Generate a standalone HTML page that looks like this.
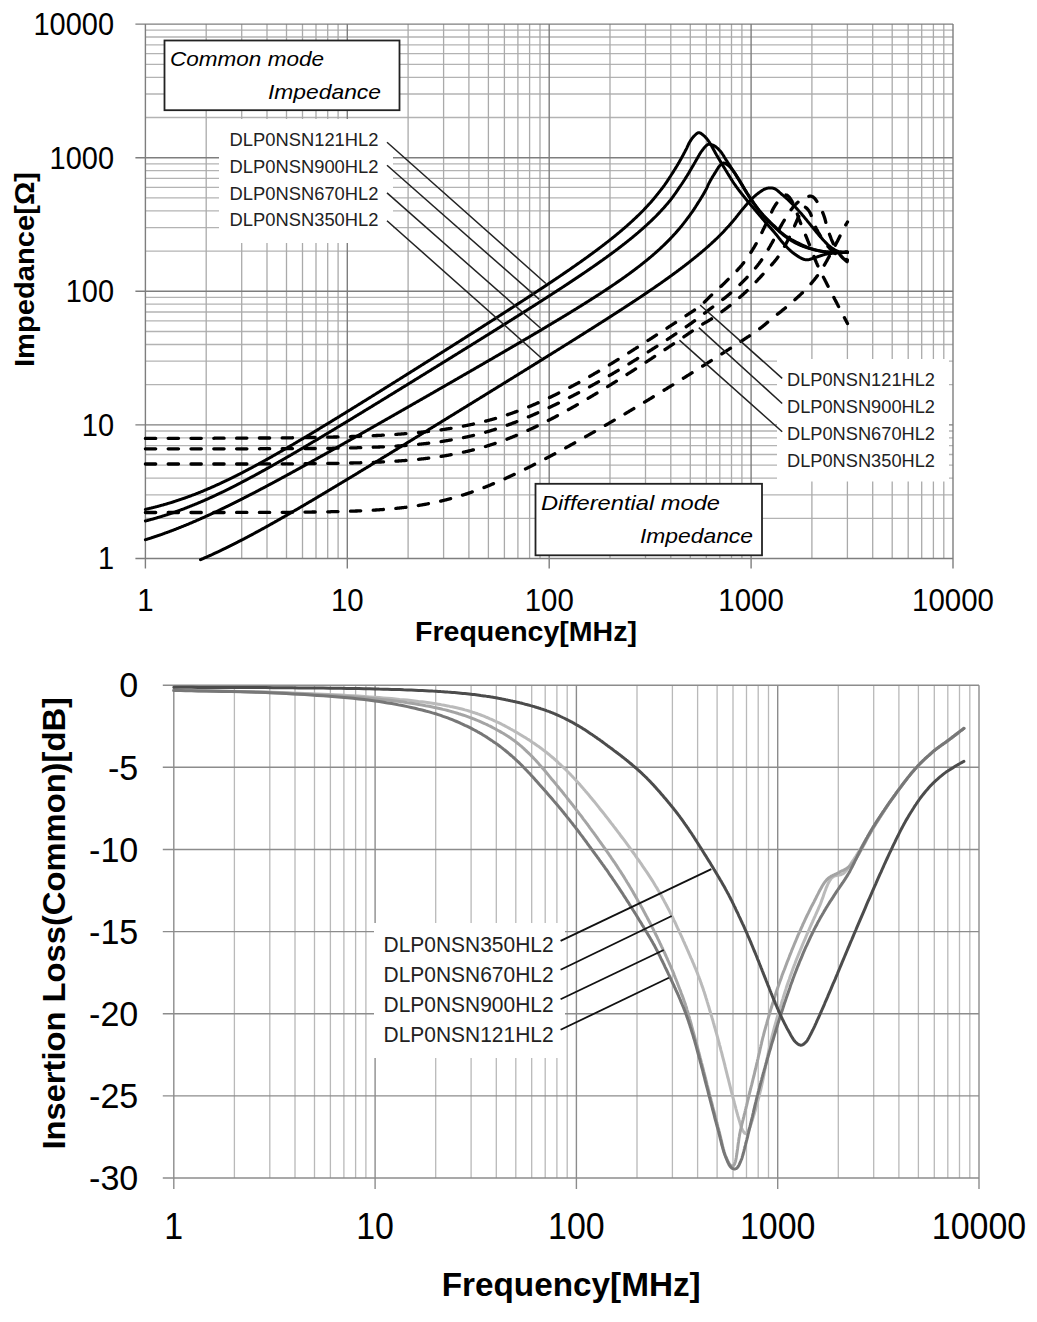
<!DOCTYPE html><html><head><meta charset="utf-8"><style>html,body{margin:0;padding:0;background:#fff;width:1037px;height:1322px;overflow:hidden;position:relative}</style></head><body><svg width="1037" height="1322" viewBox="0 0 1037 1322" style="position:absolute;left:0;top:0"><rect width="1037" height="1322" fill="#fff"/><g><line x1="145.4" y1="518.3" x2="953.0" y2="518.3" stroke="#b3b3b3" stroke-width="1.3"/><line x1="145.4" y1="494.8" x2="953.0" y2="494.8" stroke="#b3b3b3" stroke-width="1.3"/><line x1="145.4" y1="478.1" x2="953.0" y2="478.1" stroke="#b3b3b3" stroke-width="1.3"/><line x1="145.4" y1="465.1" x2="953.0" y2="465.1" stroke="#b3b3b3" stroke-width="1.3"/><line x1="145.4" y1="454.5" x2="953.0" y2="454.5" stroke="#b3b3b3" stroke-width="1.3"/><line x1="145.4" y1="445.6" x2="953.0" y2="445.6" stroke="#b3b3b3" stroke-width="1.3"/><line x1="145.4" y1="437.8" x2="953.0" y2="437.8" stroke="#b3b3b3" stroke-width="1.3"/><line x1="145.4" y1="431.0" x2="953.0" y2="431.0" stroke="#b3b3b3" stroke-width="1.3"/><line x1="145.4" y1="384.7" x2="953.0" y2="384.7" stroke="#b3b3b3" stroke-width="1.3"/><line x1="145.4" y1="361.2" x2="953.0" y2="361.2" stroke="#b3b3b3" stroke-width="1.3"/><line x1="145.4" y1="344.5" x2="953.0" y2="344.5" stroke="#b3b3b3" stroke-width="1.3"/><line x1="145.4" y1="331.5" x2="953.0" y2="331.5" stroke="#b3b3b3" stroke-width="1.3"/><line x1="145.4" y1="320.9" x2="953.0" y2="320.9" stroke="#b3b3b3" stroke-width="1.3"/><line x1="145.4" y1="312.0" x2="953.0" y2="312.0" stroke="#b3b3b3" stroke-width="1.3"/><line x1="145.4" y1="304.2" x2="953.0" y2="304.2" stroke="#b3b3b3" stroke-width="1.3"/><line x1="145.4" y1="297.4" x2="953.0" y2="297.4" stroke="#b3b3b3" stroke-width="1.3"/><line x1="145.4" y1="251.1" x2="953.0" y2="251.1" stroke="#b3b3b3" stroke-width="1.3"/><line x1="145.4" y1="227.6" x2="953.0" y2="227.6" stroke="#b3b3b3" stroke-width="1.3"/><line x1="145.4" y1="210.9" x2="953.0" y2="210.9" stroke="#b3b3b3" stroke-width="1.3"/><line x1="145.4" y1="197.9" x2="953.0" y2="197.9" stroke="#b3b3b3" stroke-width="1.3"/><line x1="145.4" y1="187.3" x2="953.0" y2="187.3" stroke="#b3b3b3" stroke-width="1.3"/><line x1="145.4" y1="178.4" x2="953.0" y2="178.4" stroke="#b3b3b3" stroke-width="1.3"/><line x1="145.4" y1="170.6" x2="953.0" y2="170.6" stroke="#b3b3b3" stroke-width="1.3"/><line x1="145.4" y1="163.8" x2="953.0" y2="163.8" stroke="#b3b3b3" stroke-width="1.3"/><line x1="145.4" y1="117.5" x2="953.0" y2="117.5" stroke="#b3b3b3" stroke-width="1.3"/><line x1="145.4" y1="94.0" x2="953.0" y2="94.0" stroke="#b3b3b3" stroke-width="1.3"/><line x1="145.4" y1="77.3" x2="953.0" y2="77.3" stroke="#b3b3b3" stroke-width="1.3"/><line x1="145.4" y1="64.3" x2="953.0" y2="64.3" stroke="#b3b3b3" stroke-width="1.3"/><line x1="145.4" y1="53.7" x2="953.0" y2="53.7" stroke="#b3b3b3" stroke-width="1.3"/><line x1="145.4" y1="44.8" x2="953.0" y2="44.8" stroke="#b3b3b3" stroke-width="1.3"/><line x1="145.4" y1="37.0" x2="953.0" y2="37.0" stroke="#b3b3b3" stroke-width="1.3"/><line x1="145.4" y1="30.2" x2="953.0" y2="30.2" stroke="#b3b3b3" stroke-width="1.3"/><line x1="206.2" y1="24.1" x2="206.2" y2="558.5" stroke="#aaaaaa" stroke-width="1.3"/><line x1="241.7" y1="24.1" x2="241.7" y2="558.5" stroke="#aaaaaa" stroke-width="1.3"/><line x1="267.0" y1="24.1" x2="267.0" y2="558.5" stroke="#aaaaaa" stroke-width="1.3"/><line x1="286.5" y1="24.1" x2="286.5" y2="558.5" stroke="#aaaaaa" stroke-width="1.3"/><line x1="302.5" y1="24.1" x2="302.5" y2="558.5" stroke="#aaaaaa" stroke-width="1.3"/><line x1="316.0" y1="24.1" x2="316.0" y2="558.5" stroke="#aaaaaa" stroke-width="1.3"/><line x1="327.7" y1="24.1" x2="327.7" y2="558.5" stroke="#aaaaaa" stroke-width="1.3"/><line x1="338.1" y1="24.1" x2="338.1" y2="558.5" stroke="#aaaaaa" stroke-width="1.3"/><line x1="408.1" y1="24.1" x2="408.1" y2="558.5" stroke="#aaaaaa" stroke-width="1.3"/><line x1="443.6" y1="24.1" x2="443.6" y2="558.5" stroke="#aaaaaa" stroke-width="1.3"/><line x1="468.9" y1="24.1" x2="468.9" y2="558.5" stroke="#aaaaaa" stroke-width="1.3"/><line x1="488.4" y1="24.1" x2="488.4" y2="558.5" stroke="#aaaaaa" stroke-width="1.3"/><line x1="504.4" y1="24.1" x2="504.4" y2="558.5" stroke="#aaaaaa" stroke-width="1.3"/><line x1="517.9" y1="24.1" x2="517.9" y2="558.5" stroke="#aaaaaa" stroke-width="1.3"/><line x1="529.6" y1="24.1" x2="529.6" y2="558.5" stroke="#aaaaaa" stroke-width="1.3"/><line x1="540.0" y1="24.1" x2="540.0" y2="558.5" stroke="#aaaaaa" stroke-width="1.3"/><line x1="610.0" y1="24.1" x2="610.0" y2="558.5" stroke="#aaaaaa" stroke-width="1.3"/><line x1="645.5" y1="24.1" x2="645.5" y2="558.5" stroke="#aaaaaa" stroke-width="1.3"/><line x1="670.8" y1="24.1" x2="670.8" y2="558.5" stroke="#aaaaaa" stroke-width="1.3"/><line x1="690.3" y1="24.1" x2="690.3" y2="558.5" stroke="#aaaaaa" stroke-width="1.3"/><line x1="706.3" y1="24.1" x2="706.3" y2="558.5" stroke="#aaaaaa" stroke-width="1.3"/><line x1="719.8" y1="24.1" x2="719.8" y2="558.5" stroke="#aaaaaa" stroke-width="1.3"/><line x1="731.5" y1="24.1" x2="731.5" y2="558.5" stroke="#aaaaaa" stroke-width="1.3"/><line x1="741.9" y1="24.1" x2="741.9" y2="558.5" stroke="#aaaaaa" stroke-width="1.3"/><line x1="811.9" y1="24.1" x2="811.9" y2="558.5" stroke="#aaaaaa" stroke-width="1.3"/><line x1="847.4" y1="24.1" x2="847.4" y2="558.5" stroke="#aaaaaa" stroke-width="1.3"/><line x1="872.7" y1="24.1" x2="872.7" y2="558.5" stroke="#aaaaaa" stroke-width="1.3"/><line x1="892.2" y1="24.1" x2="892.2" y2="558.5" stroke="#aaaaaa" stroke-width="1.3"/><line x1="908.2" y1="24.1" x2="908.2" y2="558.5" stroke="#aaaaaa" stroke-width="1.3"/><line x1="921.7" y1="24.1" x2="921.7" y2="558.5" stroke="#aaaaaa" stroke-width="1.3"/><line x1="933.4" y1="24.1" x2="933.4" y2="558.5" stroke="#aaaaaa" stroke-width="1.3"/><line x1="943.8" y1="24.1" x2="943.8" y2="558.5" stroke="#aaaaaa" stroke-width="1.3"/><line x1="135.4" y1="558.5" x2="953.0" y2="558.5" stroke="#7e7e7e" stroke-width="1.4"/><line x1="145.4" y1="24.1" x2="145.4" y2="568.5" stroke="#7e7e7e" stroke-width="1.4"/><line x1="135.4" y1="424.9" x2="953.0" y2="424.9" stroke="#7e7e7e" stroke-width="1.4"/><line x1="347.3" y1="24.1" x2="347.3" y2="568.5" stroke="#7e7e7e" stroke-width="1.4"/><line x1="135.4" y1="291.3" x2="953.0" y2="291.3" stroke="#7e7e7e" stroke-width="1.4"/><line x1="549.2" y1="24.1" x2="549.2" y2="568.5" stroke="#7e7e7e" stroke-width="1.4"/><line x1="135.4" y1="157.7" x2="953.0" y2="157.7" stroke="#7e7e7e" stroke-width="1.4"/><line x1="751.1" y1="24.1" x2="751.1" y2="568.5" stroke="#7e7e7e" stroke-width="1.4"/><line x1="135.4" y1="24.1" x2="953.0" y2="24.1" stroke="#7e7e7e" stroke-width="1.4"/><line x1="953.0" y1="24.1" x2="953.0" y2="568.5" stroke="#7e7e7e" stroke-width="1.4"/></g><rect x="219" y="119" width="174" height="124" fill="#fff"/><rect x="777" y="359" width="172" height="122.5" fill="#fff"/><rect x="164.5" y="40.5" width="235" height="69.7" fill="#fff" stroke="#222" stroke-width="1.8"/><rect x="535.5" y="483.8" width="226.5" height="71.5" fill="#fff" stroke="#222" stroke-width="1.8"/><g><path d="M145.4 509.4 L145.9 509.3 L146.4 509.1 L146.9 509.0 L147.4 508.9 L147.9 508.8 L148.4 508.7 L148.9 508.6 L149.4 508.4 L149.9 508.3 L150.4 508.2 L150.9 508.1 L151.4 508.0 L151.9 507.8 L152.4 507.7 L152.9 507.6 L153.4 507.5 L153.9 507.4 L154.4 507.2 L154.9 507.1 L155.4 507.0 L155.9 506.8 L156.4 506.7 L156.9 506.6 L157.4 506.5 L157.9 506.3 L158.4 506.2 L158.9 506.1 L159.4 505.9 L159.9 505.8 L160.4 505.7 L160.9 505.5 L161.4 505.4 L161.9 505.2 L162.4 505.1 L162.9 505.0 L163.4 504.8 L163.9 504.7 L164.4 504.5 L164.9 504.4 L165.4 504.3 L165.9 504.1 L166.4 504.0 L166.9 503.8 L167.4 503.7 L167.9 503.5 L168.4 503.4 L168.9 503.2 L169.4 503.1 L169.9 502.9 L170.4 502.8 L170.9 502.6 L171.4 502.5 L171.9 502.3 L172.4 502.2 L172.9 502.0 L173.4 501.8 L173.9 501.7 L174.4 501.5 L174.9 501.4 L175.4 501.2 L175.9 501.0 L176.4 500.9 L176.9 500.7 L177.4 500.5 L177.9 500.4 L178.4 500.2 L178.9 500.0 L179.4 499.9 L179.9 499.7 L180.4 499.5 L180.9 499.4 L181.4 499.2 L181.9 499.0 L182.4 498.9 L182.9 498.7 L183.4 498.5 L183.9 498.3 L184.4 498.2 L184.9 498.0 L185.4 497.8 L185.9 497.6 L186.4 497.4 L186.9 497.3 L187.4 497.1 L187.9 496.9 L188.4 496.7 L188.9 496.5 L189.4 496.3 L189.9 496.2 L190.4 496.0 L190.9 495.8 L191.4 495.6 L191.9 495.4 L192.4 495.2 L192.9 495.0 L193.4 494.8 L193.9 494.6 L194.4 494.5 L194.9 494.3 L195.4 494.1 L195.9 493.9 L196.4 493.7 L196.9 493.5 L197.4 493.3 L197.9 493.1 L198.4 492.9 L198.9 492.7 L199.4 492.5 L199.9 492.3 L200.4 492.1 L200.9 491.9 L201.4 491.7 L201.9 491.5 L202.4 491.3 L202.9 491.1 L203.4 490.8 L203.9 490.6 L204.4 490.4 L204.9 490.2 L205.4 490.0 L205.9 489.8 L206.4 489.6 L206.9 489.4 L207.4 489.2 L207.9 488.9 L208.4 488.7 L208.9 488.5 L209.4 488.3 L209.9 488.1 L210.4 487.9 L210.9 487.6 L211.4 487.4 L211.9 487.2 L212.4 487.0 L212.9 486.8 L213.4 486.5 L213.9 486.3 L214.4 486.1 L214.9 485.9 L215.4 485.6 L215.9 485.4 L216.4 485.2 L216.9 485.0 L217.4 484.7 L217.9 484.5 L218.4 484.3 L218.9 484.1 L219.4 483.8 L219.9 483.6 L220.4 483.4 L220.9 483.1 L221.4 482.9 L221.9 482.7 L222.4 482.4 L222.9 482.2 L223.4 482.0 L223.9 481.7 L224.4 481.5 L224.9 481.2 L225.4 481.0 L225.9 480.8 L226.4 480.5 L226.9 480.3 L227.4 480.0 L227.9 479.8 L228.4 479.6 L228.9 479.3 L229.4 479.1 L229.9 478.8 L230.4 478.6 L230.9 478.3 L231.4 478.1 L231.9 477.9 L232.4 477.6 L232.9 477.4 L233.4 477.1 L233.9 476.9 L234.4 476.6 L234.9 476.4 L235.4 476.1 L235.9 475.9 L236.4 475.6 L236.9 475.4 L237.4 475.1 L237.9 474.9 L238.4 474.6 L238.9 474.3 L239.4 474.1 L239.9 473.8 L240.4 473.6 L240.9 473.3 L241.4 473.1 L241.9 472.8 L242.4 472.6 L242.9 472.3 L243.4 472.0 L243.9 471.8 L244.4 471.5 L244.9 471.3 L245.4 471.0 L245.9 470.7 L246.4 470.5 L246.9 470.2 L247.4 470.0 L247.9 469.7 L248.4 469.4 L248.9 469.2 L249.4 468.9 L249.9 468.6 L250.4 468.4 L250.9 468.1 L251.4 467.8 L251.9 467.6 L252.4 467.3 L252.9 467.0 L253.4 466.8 L253.9 466.5 L254.4 466.2 L254.9 466.0 L255.4 465.7 L255.9 465.4 L256.4 465.1 L256.9 464.9 L257.4 464.6 L257.9 464.3 L258.4 464.1 L258.9 463.8 L259.4 463.5 L259.9 463.2 L260.4 463.0 L260.9 462.7 L261.4 462.4 L261.9 462.1 L262.4 461.9 L262.9 461.6 L263.4 461.3 L263.9 461.0 L264.4 460.8 L264.9 460.5 L265.4 460.2 L265.9 459.9 L266.4 459.7 L266.9 459.4 L267.4 459.1 L267.9 458.8 L268.4 458.5 L268.9 458.3 L269.4 458.0 L269.9 457.7 L270.4 457.4 L270.9 457.1 L271.4 456.9 L271.9 456.6 L272.4 456.3 L272.9 456.0 L273.4 455.7 L273.9 455.4 L274.4 455.2 L274.9 454.9 L275.4 454.6 L275.9 454.3 L276.4 454.0 L276.9 453.7 L277.4 453.4 L277.9 453.2 L278.4 452.9 L278.9 452.6 L279.4 452.3 L279.9 452.0 L280.4 451.7 L280.9 451.4 L281.4 451.2 L281.9 450.9 L282.4 450.6 L282.9 450.3 L283.4 450.0 L283.9 449.7 L284.4 449.4 L284.9 449.1 L285.4 448.8 L285.9 448.6 L286.4 448.3 L286.9 448.0 L287.4 447.7 L287.9 447.4 L288.4 447.1 L288.9 446.8 L289.4 446.5 L289.9 446.2 L290.4 445.9 L290.9 445.6 L291.4 445.3 L291.9 445.1 L292.4 444.8 L292.9 444.5 L293.4 444.2 L293.9 443.9 L294.4 443.6 L294.9 443.3 L295.4 443.0 L295.9 442.7 L296.4 442.4 L296.9 442.1 L297.4 441.8 L297.9 441.5 L298.4 441.2 L298.9 440.9 L299.4 440.6 L299.9 440.3 L300.4 440.0 L300.9 439.7 L301.4 439.4 L301.9 439.2 L302.4 438.9 L302.9 438.6 L303.4 438.3 L303.9 438.0 L304.4 437.7 L304.9 437.4 L305.4 437.1 L305.9 436.8 L306.4 436.5 L306.9 436.2 L307.4 435.9 L307.9 435.6 L308.4 435.3 L308.9 435.0 L309.4 434.7 L309.9 434.4 L310.4 434.1 L310.9 433.8 L311.4 433.5 L311.9 433.2 L312.4 432.9 L312.9 432.6 L313.4 432.3 L313.9 432.0 L314.4 431.7 L314.9 431.4 L315.4 431.1 L315.9 430.8 L316.4 430.5 L316.9 430.2 L317.4 429.9 L317.9 429.6 L318.4 429.3 L318.9 429.0 L319.4 428.7 L319.9 428.3 L320.4 428.0 L320.9 427.7 L321.4 427.4 L321.9 427.1 L322.4 426.8 L322.9 426.5 L323.4 426.2 L323.9 425.9 L324.4 425.6 L324.9 425.3 L325.4 425.0 L325.9 424.7 L326.4 424.4 L326.9 424.1 L327.4 423.8 L327.9 423.5 L328.4 423.2 L328.9 422.9 L329.4 422.6 L329.9 422.3 L330.4 422.0 L330.9 421.7 L331.4 421.4 L331.9 421.0 L332.4 420.7 L332.9 420.4 L333.4 420.1 L333.9 419.8 L334.4 419.5 L334.9 419.2 L335.4 418.9 L335.9 418.6 L336.4 418.3 L336.9 418.0 L337.4 417.7 L337.9 417.4 L338.4 417.1 L338.9 416.8 L339.4 416.5 L339.9 416.1 L340.4 415.8 L340.9 415.5 L341.4 415.2 L341.9 414.9 L342.4 414.6 L342.9 414.3 L343.4 414.0 L343.9 413.7 L344.4 413.4 L344.9 413.1 L345.4 412.8 L345.9 412.5 L346.4 412.1 L346.9 411.8 L347.4 411.5 L347.9 411.2 L348.4 410.9 L348.9 410.6 L349.4 410.3 L349.9 410.0 L350.4 409.7 L350.9 409.4 L351.4 409.1 L351.9 408.8 L352.4 408.4 L352.9 408.1 L353.4 407.8 L353.9 407.5 L354.4 407.2 L354.9 406.9 L355.4 406.6 L355.9 406.3 L356.4 406.0 L356.9 405.7 L357.4 405.3 L357.9 405.0 L358.4 404.7 L358.9 404.4 L359.4 404.1 L359.9 403.8 L360.4 403.5 L360.9 403.2 L361.4 402.9 L361.9 402.6 L362.4 402.2 L362.9 401.9 L363.4 401.6 L363.9 401.3 L364.4 401.0 L364.9 400.7 L365.4 400.4 L365.9 400.1 L366.4 399.8 L366.9 399.5 L367.4 399.1 L367.9 398.8 L368.4 398.5 L368.9 398.2 L369.4 397.9 L369.9 397.6 L370.4 397.3 L370.9 397.0 L371.4 396.7 L371.9 396.3 L372.4 396.0 L372.9 395.7 L373.4 395.4 L373.9 395.1 L374.4 394.8 L374.9 394.5 L375.4 394.2 L375.9 393.8 L376.4 393.5 L376.9 393.2 L377.4 392.9 L377.9 392.6 L378.4 392.3 L378.9 392.0 L379.4 391.7 L379.9 391.4 L380.4 391.0 L380.9 390.7 L381.4 390.4 L381.9 390.1 L382.4 389.8 L382.9 389.5 L383.4 389.2 L383.9 388.9 L384.4 388.5 L384.9 388.2 L385.4 387.9 L385.9 387.6 L386.4 387.3 L386.9 387.0 L387.4 386.7 L387.9 386.4 L388.4 386.0 L388.9 385.7 L389.4 385.4 L389.9 385.1 L390.4 384.8 L390.9 384.5 L391.4 384.2 L391.9 383.9 L392.4 383.5 L392.9 383.2 L393.4 382.9 L393.9 382.6 L394.4 382.3 L394.9 382.0 L395.4 381.7 L395.9 381.3 L396.4 381.0 L396.9 380.7 L397.4 380.4 L397.9 380.1 L398.4 379.8 L398.9 379.5 L399.4 379.2 L399.9 378.8 L400.4 378.5 L400.9 378.2 L401.4 377.9 L401.9 377.6 L402.4 377.3 L402.9 377.0 L403.4 376.6 L403.9 376.3 L404.4 376.0 L404.9 375.7 L405.4 375.4 L405.9 375.1 L406.4 374.8 L406.9 374.4 L407.4 374.1 L407.9 373.8 L408.4 373.5 L408.9 373.2 L409.4 372.9 L409.9 372.6 L410.4 372.3 L410.9 371.9 L411.4 371.6 L411.9 371.3 L412.4 371.0 L412.9 370.7 L413.4 370.4 L413.9 370.1 L414.4 369.7 L414.9 369.4 L415.4 369.1 L415.9 368.8 L416.4 368.5 L416.9 368.2 L417.4 367.9 L417.9 367.5 L418.4 367.2 L418.9 366.9 L419.4 366.6 L419.9 366.3 L420.4 366.0 L420.9 365.6 L421.4 365.3 L421.9 365.0 L422.4 364.7 L422.9 364.4 L423.4 364.1 L423.9 363.8 L424.4 363.4 L424.9 363.1 L425.4 362.8 L425.9 362.5 L426.4 362.2 L426.9 361.9 L427.4 361.6 L427.9 361.2 L428.4 360.9 L428.9 360.6 L429.4 360.3 L429.9 360.0 L430.4 359.7 L430.9 359.3 L431.4 359.0 L431.9 358.7 L432.4 358.4 L432.9 358.1 L433.4 357.8 L433.9 357.5 L434.4 357.1 L434.9 356.8 L435.4 356.5 L435.9 356.2 L436.4 355.9 L436.9 355.6 L437.4 355.2 L437.9 354.9 L438.4 354.6 L438.9 354.3 L439.4 354.0 L439.9 353.7 L440.4 353.4 L440.9 353.0 L441.4 352.7 L441.9 352.4 L442.4 352.1 L442.9 351.8 L443.4 351.5 L443.9 351.1 L444.4 350.8 L444.9 350.5 L445.4 350.2 L445.9 349.9 L446.4 349.6 L446.9 349.2 L447.4 348.9 L447.9 348.6 L448.4 348.3 L448.9 348.0 L449.4 347.7 L449.9 347.4 L450.4 347.0 L450.9 346.7 L451.4 346.4 L451.9 346.1 L452.4 345.8 L452.9 345.5 L453.4 345.1 L453.9 344.8 L454.4 344.5 L454.9 344.2 L455.4 343.9 L455.9 343.6 L456.4 343.2 L456.9 342.9 L457.4 342.6 L457.9 342.3 L458.4 342.0 L458.9 341.7 L459.4 341.3 L459.9 341.0 L460.4 340.7 L460.9 340.4 L461.4 340.1 L461.9 339.8 L462.4 339.4 L462.9 339.1 L463.4 338.8 L463.9 338.5 L464.4 338.2 L464.9 337.8 L465.4 337.5 L465.9 337.2 L466.4 336.9 L466.9 336.6 L467.4 336.3 L467.9 335.9 L468.4 335.6 L468.9 335.3 L469.4 335.0 L469.9 334.7 L470.4 334.4 L470.9 334.0 L471.4 333.7 L471.9 333.4 L472.4 333.1 L472.9 332.8 L473.4 332.4 L473.9 332.1 L474.4 331.8 L474.9 331.5 L475.4 331.2 L475.9 330.9 L476.4 330.5 L476.9 330.2 L477.4 329.9 L477.9 329.6 L478.4 329.3 L478.9 328.9 L479.4 328.6 L479.9 328.3 L480.4 328.0 L480.9 327.7 L481.4 327.4 L481.9 327.0 L482.4 326.7 L482.9 326.4 L483.4 326.1 L483.9 325.8 L484.4 325.4 L484.9 325.1 L485.4 324.8 L485.9 324.5 L486.4 324.2 L486.9 323.8 L487.4 323.5 L487.9 323.2 L488.4 322.9 L488.9 322.6 L489.4 322.3 L489.9 321.9 L490.4 321.6 L490.9 321.3 L491.4 321.0 L491.9 320.7 L492.4 320.3 L492.9 320.0 L493.4 319.7 L493.9 319.4 L494.4 319.1 L494.9 318.7 L495.4 318.4 L495.9 318.1 L496.4 317.8 L496.9 317.5 L497.4 317.1 L497.9 316.8 L498.4 316.5 L498.9 316.2 L499.4 315.8 L499.9 315.5 L500.4 315.2 L500.9 314.9 L501.4 314.6 L501.9 314.2 L502.4 313.9 L502.9 313.6 L503.4 313.3 L503.9 313.0 L504.4 312.6 L504.9 312.3 L505.4 312.0 L505.9 311.7 L506.4 311.3 L506.9 311.0 L507.4 310.7 L507.9 310.4 L508.4 310.1 L508.9 309.7 L509.4 309.4 L509.9 309.1 L510.4 308.8 L510.9 308.4 L511.4 308.1 L511.9 307.8 L512.4 307.5 L512.9 307.2 L513.4 306.8 L513.9 306.5 L514.4 306.2 L514.9 305.9 L515.4 305.5 L515.9 305.2 L516.4 304.9 L516.9 304.6 L517.4 304.2 L517.9 303.9 L518.4 303.6 L518.9 303.3 L519.4 302.9 L519.9 302.6 L520.4 302.3 L520.9 302.0 L521.4 301.6 L521.9 301.3 L522.4 301.0 L522.9 300.7 L523.4 300.3 L523.9 300.0 L524.4 299.7 L524.9 299.4 L525.4 299.0 L525.9 298.7 L526.4 298.4 L526.9 298.1 L527.4 297.7 L527.9 297.4 L528.4 297.1 L528.9 296.8 L529.4 296.4 L529.9 296.1 L530.4 295.8 L530.9 295.5 L531.4 295.1 L531.9 294.8 L532.4 294.5 L532.9 294.1 L533.4 293.8 L533.9 293.5 L534.4 293.2 L534.9 292.8 L535.4 292.5 L535.9 292.2 L536.4 291.8 L536.9 291.5 L537.4 291.2 L537.9 290.9 L538.4 290.5 L538.9 290.2 L539.4 289.9 L539.9 289.5 L540.4 289.2 L540.9 288.9 L541.4 288.5 L541.9 288.2 L542.4 287.9 L542.9 287.6 L543.4 287.2 L543.9 286.9 L544.4 286.6 L544.9 286.2 L545.4 285.9 L545.9 285.6 L546.4 285.2 L546.9 284.9 L547.4 284.6 L547.9 284.2 L548.4 283.9 L548.9 283.6 L549.4 283.2 L549.9 282.9 L550.4 282.6 L550.9 282.2 L551.4 281.9 L551.9 281.6 L552.4 281.2 L552.9 280.9 L553.4 280.6 L553.9 280.2 L554.4 279.9 L554.9 279.5 L555.4 279.2 L555.9 278.9 L556.4 278.5 L556.9 278.2 L557.4 277.9 L557.9 277.5 L558.4 277.2 L558.9 276.8 L559.4 276.5 L559.9 276.2 L560.4 275.8 L560.9 275.5 L561.4 275.1 L561.9 274.8 L562.4 274.5 L562.9 274.1 L563.4 273.8 L563.9 273.4 L564.4 273.1 L564.9 272.8 L565.4 272.4 L565.9 272.1 L566.4 271.7 L566.9 271.4 L567.4 271.0 L567.9 270.7 L568.4 270.4 L568.9 270.0 L569.4 269.7 L569.9 269.3 L570.4 269.0 L570.9 268.6 L571.4 268.3 L571.9 267.9 L572.4 267.6 L572.9 267.2 L573.4 266.9 L573.9 266.5 L574.4 266.2 L574.9 265.8 L575.4 265.5 L575.9 265.1 L576.4 264.8 L576.9 264.4 L577.4 264.1 L577.9 263.7 L578.4 263.4 L578.9 263.0 L579.4 262.7 L579.9 262.3 L580.4 262.0 L580.9 261.6 L581.4 261.3 L581.9 260.9 L582.4 260.6 L582.9 260.2 L583.4 259.8 L583.9 259.5 L584.4 259.1 L584.9 258.8 L585.4 258.4 L585.9 258.0 L586.4 257.7 L586.9 257.3 L587.4 257.0 L587.9 256.6 L588.4 256.2 L588.9 255.9 L589.4 255.5 L589.9 255.1 L590.4 254.8 L590.9 254.4 L591.4 254.0 L591.9 253.7 L592.4 253.3 L592.9 252.9 L593.4 252.6 L593.9 252.2 L594.4 251.8 L594.9 251.5 L595.4 251.1 L595.9 250.7 L596.4 250.4 L596.9 250.0 L597.4 249.6 L597.9 249.2 L598.4 248.9 L598.9 248.5 L599.4 248.1 L599.9 247.7 L600.4 247.3 L600.9 247.0 L601.4 246.6 L601.9 246.2 L602.4 245.8 L602.9 245.4 L603.4 245.1 L603.9 244.7 L604.4 244.3 L604.9 243.9 L605.4 243.5 L605.9 243.1 L606.4 242.7 L606.9 242.3 L607.4 242.0 L607.9 241.6 L608.4 241.2 L608.9 240.8 L609.4 240.4 L609.9 240.0 L610.4 239.6 L610.9 239.2 L611.4 238.8 L611.9 238.4 L612.4 238.0 L612.9 237.6 L613.4 237.2 L613.9 236.8 L614.4 236.4 L614.9 236.0 L615.4 235.6 L615.9 235.2 L616.4 234.7 L616.9 234.3 L617.4 233.9 L617.9 233.5 L618.4 233.1 L618.9 232.7 L619.4 232.3 L619.9 231.8 L620.4 231.4 L620.9 231.0 L621.4 230.6 L621.9 230.1 L622.4 229.7 L622.9 229.3 L623.4 228.9 L623.9 228.4 L624.4 228.0 L624.9 227.6 L625.4 227.1 L625.9 226.7 L626.4 226.3 L626.9 225.8 L627.4 225.4 L627.9 224.9 L628.4 224.5 L628.9 224.0 L629.4 223.6 L629.9 223.1 L630.4 222.7 L630.9 222.2 L631.4 221.8 L631.9 221.3 L632.4 220.9 L632.9 220.4 L633.4 219.9 L633.9 219.5 L634.4 219.0 L634.9 218.5 L635.4 218.0 L635.9 217.6 L636.4 217.1 L636.9 216.6 L637.4 216.1 L637.9 215.7 L638.4 215.2 L638.9 214.7 L639.4 214.2 L639.9 213.7 L640.4 213.2 L640.9 212.7 L641.4 212.2 L641.9 211.7 L642.4 211.2 L642.9 210.7 L643.4 210.2 L643.9 209.7 L644.4 209.1 L644.9 208.6 L645.4 208.1 L645.9 207.6 L646.4 207.0 L646.9 206.5 L647.4 206.0 L647.9 205.4 L648.4 204.9 L648.9 204.3 L649.4 203.8 L649.9 203.2 L650.4 202.7 L650.9 202.1 L651.4 201.6 L651.9 201.0 L652.4 200.4 L652.9 199.8 L653.4 199.2 L653.9 198.6 L654.4 198.0 L654.9 197.4 L655.4 196.8 L655.9 196.2 L656.4 195.5 L656.9 194.9 L657.4 194.3 L657.9 193.7 L658.4 193.0 L658.9 192.4 L659.4 191.8 L659.9 191.2 L660.4 190.5 L660.9 189.9 L661.4 189.3 L661.9 188.6 L662.4 188.0 L662.9 187.3 L663.4 186.6 L663.9 186.0 L664.4 185.3 L664.9 184.5 L665.4 183.8 L665.9 183.1 L666.4 182.4 L666.9 181.6 L667.4 180.9 L667.9 180.1 L668.4 179.3 L668.9 178.6 L669.4 177.8 L669.9 177.0 L670.4 176.3 L670.9 175.5 L671.4 174.7 L671.9 174.0 L672.4 173.2 L672.9 172.4 L673.4 171.6 L673.9 170.8 L674.4 170.0 L674.9 169.2 L675.4 168.4 L675.9 167.6 L676.4 166.8 L676.9 166.0 L677.4 165.1 L677.9 164.3 L678.4 163.4 L678.9 162.6 L679.4 161.7 L679.9 160.8 L680.4 159.9 L680.9 159.1 L681.4 158.2 L681.9 157.2 L682.4 156.3 L682.9 155.4 L683.4 154.5 L683.9 153.6 L684.4 152.6 L684.9 151.7 L685.4 150.7 L685.9 149.8 L686.4 148.8 L686.9 147.8 L687.4 146.7 L687.9 145.6 L688.4 144.5 L688.9 143.5 L689.4 142.5 L689.9 141.7 L690.4 140.9 L690.9 140.1 L691.4 139.4 L691.9 138.7 L692.4 138.0 L692.9 137.4 L693.4 136.8 L693.9 136.2 L694.4 135.7 L694.9 135.2 L695.4 134.7 L695.9 134.3 L696.4 133.8 L696.9 133.5 L697.4 133.1 L697.9 132.9 L698.4 132.7 L698.9 132.7 L699.4 132.8 L699.9 132.9 L700.4 133.1 L700.9 133.4 L701.4 133.7 L701.9 134.1 L702.4 134.5 L702.9 134.9 L703.4 135.3 L703.9 135.7 L704.4 136.2 L704.9 136.6 L705.4 137.1 L705.9 137.7 L706.4 138.3 L706.9 138.9 L707.4 139.5 L707.9 140.2 L708.4 140.9 L708.9 141.6 L709.4 142.3 L709.9 143.1 L710.4 143.8 L710.9 144.7 L711.4 145.6 L711.9 146.5 L712.4 147.4 L712.9 148.3 L713.4 149.3 L713.9 150.2 L714.4 151.1 L714.9 152.0 L715.4 152.9 L715.9 153.8 L716.4 154.7 L716.9 155.5 L717.4 156.4 L717.9 157.2 L718.4 158.1 L718.9 158.9 L719.4 159.7 L719.9 160.6 L720.4 161.4 L720.9 162.3 L721.4 163.1 L721.9 163.9 L722.4 164.7 L722.9 165.6 L723.4 166.4 L723.9 167.2 L724.4 168.0 L724.9 168.8 L725.4 169.7 L725.9 170.5 L726.4 171.3 L726.9 172.1 L727.4 173.0 L727.9 173.8 L728.4 174.6 L728.9 175.4 L729.4 176.2 L729.9 177.0 L730.4 177.8 L730.9 178.6 L731.4 179.4 L731.9 180.2 L732.4 181.0 L732.9 181.8 L733.4 182.5 L733.9 183.3 L734.4 184.0 L734.9 184.7 L735.4 185.4 L735.9 186.1 L736.4 186.8 L736.9 187.5 L737.4 188.2 L737.9 188.9 L738.4 189.5 L738.9 190.2 L739.4 190.8 L739.9 191.5 L740.4 192.1 L740.9 192.7 L741.4 193.4 L741.9 194.0 L742.4 194.6 L742.9 195.3 L743.4 195.9 L743.9 196.5 L744.4 197.1 L744.9 197.8 L745.4 198.4 L745.9 199.0 L746.4 199.6 L746.9 200.2 L747.4 200.8 L747.9 201.5 L748.4 202.1 L748.9 202.7 L749.4 203.3 L749.9 203.9 L750.4 204.5 L750.9 205.1 L751.4 205.7 L751.9 206.3 L752.4 206.8 L752.9 207.4 L753.4 208.0 L753.9 208.6 L754.4 209.2 L754.9 209.8 L755.4 210.4 L755.9 211.0 L756.4 211.6 L756.9 212.2 L757.4 212.8 L757.9 213.4 L758.4 214.0 L758.9 214.5 L759.4 215.1 L759.9 215.7 L760.4 216.3 L760.9 216.9 L761.4 217.5 L761.9 218.1 L762.4 218.7 L762.9 219.2 L763.4 219.8 L763.9 220.4 L764.4 221.0 L764.9 221.6 L765.4 222.1 L765.9 222.7 L766.4 223.3 L766.9 223.9 L767.4 224.4 L767.9 225.0 L768.4 225.5 L768.9 226.1 L769.4 226.7 L769.9 227.2 L770.4 227.8 L770.9 228.4 L771.4 228.9 L771.9 229.5 L772.4 230.1 L772.9 230.6 L773.4 231.2 L773.9 231.8 L774.4 232.4 L774.9 233.0 L775.4 233.6 L775.9 234.2 L776.4 234.8 L776.9 235.4 L777.4 236.0 L777.9 236.7 L778.4 237.3 L778.9 238.0 L779.4 238.6 L779.9 239.2 L780.4 239.9 L780.9 240.5 L781.4 241.1 L781.9 241.7 L782.4 242.3 L782.9 242.9 L783.4 243.4 L783.9 244.0 L784.4 244.5 L784.9 245.0 L785.4 245.6 L785.9 246.1 L786.4 246.6 L786.9 247.2 L787.4 247.7 L787.9 248.2 L788.4 248.7 L788.9 249.2 L789.4 249.7 L789.9 250.1 L790.4 250.6 L790.9 251.1 L791.4 251.5 L791.9 251.9 L792.4 252.4 L792.9 252.8 L793.4 253.1 L793.9 253.5 L794.4 253.9 L794.9 254.2 L795.4 254.6 L795.9 254.9 L796.4 255.3 L796.9 255.6 L797.4 255.9 L797.9 256.3 L798.4 256.6 L798.9 256.9 L799.4 257.2 L799.9 257.5 L800.4 257.8 L800.9 258.0 L801.4 258.3 L801.9 258.5 L802.4 258.8 L802.9 259.0 L803.4 259.2 L803.9 259.3 L804.4 259.5 L804.9 259.6 L805.4 259.7 L805.9 259.8 L806.4 259.8 L806.9 259.8 L807.4 259.8 L807.9 259.8 L808.4 259.7 L808.9 259.6 L809.4 259.5 L809.9 259.3 L810.4 259.2 L810.9 259.0 L811.4 258.8 L811.9 258.6 L812.4 258.5 L812.9 258.3 L813.4 258.1 L813.9 257.9 L814.4 257.7 L814.9 257.6 L815.4 257.4 L815.9 257.3 L816.4 257.1 L816.9 257.0 L817.4 256.8 L817.9 256.7 L818.4 256.5 L818.9 256.3 L819.4 256.2 L819.9 256.0 L820.4 255.8 L820.9 255.7 L821.4 255.5 L821.9 255.3 L822.4 255.2 L822.9 255.0 L823.4 254.9 L823.9 254.7 L824.4 254.6 L824.9 254.4 L825.4 254.3 L825.9 254.2 L826.4 254.1 L826.9 254.0 L827.4 253.9 L827.9 253.8 L828.4 253.7 L828.9 253.7 L829.4 253.6 L829.9 253.5 L830.4 253.5 L830.9 253.4 L831.4 253.4 L831.9 253.4 L832.4 253.3 L832.9 253.3 L833.4 253.3 L833.9 253.2 L834.4 253.2 L834.9 253.2 L835.4 253.2 L835.9 253.1 L836.4 253.1 L836.9 253.1 L837.4 253.0 L837.9 253.0 L838.4 253.0 L838.9 252.9 L839.4 252.9 L839.9 252.8 L840.4 252.8 L840.9 252.8 L841.4 252.7 L841.9 252.7 L842.4 252.7 L842.9 252.6 L843.4 252.6 L843.9 252.5 L844.4 252.5 L844.9 252.5 L845.4 252.4 L845.9 252.4 L846.4 252.4 L846.9 252.3 L847.4 252.3 L847.5 252.3" fill="none" stroke="#000" stroke-width="3" stroke-linejoin="round" stroke-linecap="round"/><path d="M145.4 521.0 L145.9 520.8 L146.4 520.7 L146.9 520.6 L147.4 520.5 L147.9 520.3 L148.4 520.2 L148.9 520.1 L149.4 519.9 L149.9 519.8 L150.4 519.7 L150.9 519.5 L151.4 519.4 L151.9 519.3 L152.4 519.1 L152.9 519.0 L153.4 518.8 L153.9 518.7 L154.4 518.6 L154.9 518.4 L155.4 518.3 L155.9 518.1 L156.4 518.0 L156.9 517.8 L157.4 517.7 L157.9 517.5 L158.4 517.4 L158.9 517.2 L159.4 517.1 L159.9 516.9 L160.4 516.8 L160.9 516.6 L161.4 516.5 L161.9 516.3 L162.4 516.2 L162.9 516.0 L163.4 515.9 L163.9 515.7 L164.4 515.6 L164.9 515.4 L165.4 515.2 L165.9 515.1 L166.4 514.9 L166.9 514.8 L167.4 514.6 L167.9 514.4 L168.4 514.3 L168.9 514.1 L169.4 513.9 L169.9 513.8 L170.4 513.6 L170.9 513.4 L171.4 513.3 L171.9 513.1 L172.4 512.9 L172.9 512.8 L173.4 512.6 L173.9 512.4 L174.4 512.2 L174.9 512.1 L175.4 511.9 L175.9 511.7 L176.4 511.5 L176.9 511.3 L177.4 511.2 L177.9 511.0 L178.4 510.8 L178.9 510.6 L179.4 510.4 L179.9 510.3 L180.4 510.1 L180.9 509.9 L181.4 509.7 L181.9 509.5 L182.4 509.3 L182.9 509.1 L183.4 509.0 L183.9 508.8 L184.4 508.6 L184.9 508.4 L185.4 508.2 L185.9 508.0 L186.4 507.8 L186.9 507.6 L187.4 507.4 L187.9 507.2 L188.4 507.0 L188.9 506.8 L189.4 506.6 L189.9 506.4 L190.4 506.2 L190.9 506.0 L191.4 505.8 L191.9 505.6 L192.4 505.4 L192.9 505.2 L193.4 505.0 L193.9 504.8 L194.4 504.6 L194.9 504.4 L195.4 504.2 L195.9 504.0 L196.4 503.8 L196.9 503.6 L197.4 503.4 L197.9 503.2 L198.4 503.0 L198.9 502.7 L199.4 502.5 L199.9 502.3 L200.4 502.1 L200.9 501.9 L201.4 501.7 L201.9 501.5 L202.4 501.2 L202.9 501.0 L203.4 500.8 L203.9 500.6 L204.4 500.4 L204.9 500.1 L205.4 499.9 L205.9 499.7 L206.4 499.5 L206.9 499.3 L207.4 499.0 L207.9 498.8 L208.4 498.6 L208.9 498.4 L209.4 498.1 L209.9 497.9 L210.4 497.7 L210.9 497.5 L211.4 497.2 L211.9 497.0 L212.4 496.8 L212.9 496.5 L213.4 496.3 L213.9 496.1 L214.4 495.8 L214.9 495.6 L215.4 495.4 L215.9 495.1 L216.4 494.9 L216.9 494.7 L217.4 494.4 L217.9 494.2 L218.4 494.0 L218.9 493.7 L219.4 493.5 L219.9 493.2 L220.4 493.0 L220.9 492.8 L221.4 492.5 L221.9 492.3 L222.4 492.0 L222.9 491.8 L223.4 491.6 L223.9 491.3 L224.4 491.1 L224.9 490.8 L225.4 490.6 L225.9 490.3 L226.4 490.1 L226.9 489.8 L227.4 489.6 L227.9 489.3 L228.4 489.1 L228.9 488.9 L229.4 488.6 L229.9 488.4 L230.4 488.1 L230.9 487.9 L231.4 487.6 L231.9 487.3 L232.4 487.1 L232.9 486.8 L233.4 486.6 L233.9 486.3 L234.4 486.1 L234.9 485.8 L235.4 485.6 L235.9 485.3 L236.4 485.1 L236.9 484.8 L237.4 484.5 L237.9 484.3 L238.4 484.0 L238.9 483.8 L239.4 483.5 L239.9 483.3 L240.4 483.0 L240.9 482.7 L241.4 482.5 L241.9 482.2 L242.4 481.9 L242.9 481.7 L243.4 481.4 L243.9 481.2 L244.4 480.9 L244.9 480.6 L245.4 480.4 L245.9 480.1 L246.4 479.8 L246.9 479.6 L247.4 479.3 L247.9 479.0 L248.4 478.8 L248.9 478.5 L249.4 478.2 L249.9 478.0 L250.4 477.7 L250.9 477.4 L251.4 477.2 L251.9 476.9 L252.4 476.6 L252.9 476.4 L253.4 476.1 L253.9 475.8 L254.4 475.6 L254.9 475.3 L255.4 475.0 L255.9 474.7 L256.4 474.5 L256.9 474.2 L257.4 473.9 L257.9 473.6 L258.4 473.4 L258.9 473.1 L259.4 472.8 L259.9 472.5 L260.4 472.3 L260.9 472.0 L261.4 471.7 L261.9 471.4 L262.4 471.2 L262.9 470.9 L263.4 470.6 L263.9 470.3 L264.4 470.1 L264.9 469.8 L265.4 469.5 L265.9 469.2 L266.4 468.9 L266.9 468.7 L267.4 468.4 L267.9 468.1 L268.4 467.8 L268.9 467.6 L269.4 467.3 L269.9 467.0 L270.4 466.7 L270.9 466.4 L271.4 466.1 L271.9 465.9 L272.4 465.6 L272.9 465.3 L273.4 465.0 L273.9 464.7 L274.4 464.5 L274.9 464.2 L275.4 463.9 L275.9 463.6 L276.4 463.3 L276.9 463.0 L277.4 462.7 L277.9 462.5 L278.4 462.2 L278.9 461.9 L279.4 461.6 L279.9 461.3 L280.4 461.0 L280.9 460.7 L281.4 460.5 L281.9 460.2 L282.4 459.9 L282.9 459.6 L283.4 459.3 L283.9 459.0 L284.4 458.7 L284.9 458.5 L285.4 458.2 L285.9 457.9 L286.4 457.6 L286.9 457.3 L287.4 457.0 L287.9 456.7 L288.4 456.4 L288.9 456.1 L289.4 455.8 L289.9 455.6 L290.4 455.3 L290.9 455.0 L291.4 454.7 L291.9 454.4 L292.4 454.1 L292.9 453.8 L293.4 453.5 L293.9 453.2 L294.4 452.9 L294.9 452.6 L295.4 452.4 L295.9 452.1 L296.4 451.8 L296.9 451.5 L297.4 451.2 L297.9 450.9 L298.4 450.6 L298.9 450.3 L299.4 450.0 L299.9 449.7 L300.4 449.4 L300.9 449.1 L301.4 448.8 L301.9 448.5 L302.4 448.3 L302.9 448.0 L303.4 447.7 L303.9 447.4 L304.4 447.1 L304.9 446.8 L305.4 446.5 L305.9 446.2 L306.4 445.9 L306.9 445.6 L307.4 445.3 L307.9 445.0 L308.4 444.7 L308.9 444.4 L309.4 444.1 L309.9 443.8 L310.4 443.5 L310.9 443.2 L311.4 442.9 L311.9 442.6 L312.4 442.3 L312.9 442.0 L313.4 441.7 L313.9 441.4 L314.4 441.1 L314.9 440.8 L315.4 440.6 L315.9 440.3 L316.4 440.0 L316.9 439.7 L317.4 439.4 L317.9 439.1 L318.4 438.8 L318.9 438.5 L319.4 438.2 L319.9 437.9 L320.4 437.6 L320.9 437.3 L321.4 437.0 L321.9 436.7 L322.4 436.4 L322.9 436.1 L323.4 435.8 L323.9 435.5 L324.4 435.2 L324.9 434.9 L325.4 434.6 L325.9 434.3 L326.4 434.0 L326.9 433.7 L327.4 433.4 L327.9 433.1 L328.4 432.8 L328.9 432.5 L329.4 432.2 L329.9 431.9 L330.4 431.6 L330.9 431.3 L331.4 431.0 L331.9 430.7 L332.4 430.4 L332.9 430.1 L333.4 429.8 L333.9 429.5 L334.4 429.2 L334.9 428.9 L335.4 428.6 L335.9 428.3 L336.4 428.0 L336.9 427.7 L337.4 427.3 L337.9 427.0 L338.4 426.7 L338.9 426.4 L339.4 426.1 L339.9 425.8 L340.4 425.5 L340.9 425.2 L341.4 424.9 L341.9 424.6 L342.4 424.3 L342.9 424.0 L343.4 423.7 L343.9 423.4 L344.4 423.1 L344.9 422.8 L345.4 422.5 L345.9 422.2 L346.4 421.9 L346.9 421.6 L347.4 421.3 L347.9 421.0 L348.4 420.7 L348.9 420.4 L349.4 420.1 L349.9 419.8 L350.4 419.5 L350.9 419.2 L351.4 418.9 L351.9 418.6 L352.4 418.3 L352.9 418.0 L353.4 417.6 L353.9 417.3 L354.4 417.0 L354.9 416.7 L355.4 416.4 L355.9 416.1 L356.4 415.8 L356.9 415.5 L357.4 415.2 L357.9 414.9 L358.4 414.6 L358.9 414.3 L359.4 414.0 L359.9 413.7 L360.4 413.4 L360.9 413.1 L361.4 412.8 L361.9 412.5 L362.4 412.2 L362.9 411.9 L363.4 411.6 L363.9 411.2 L364.4 410.9 L364.9 410.6 L365.4 410.3 L365.9 410.0 L366.4 409.7 L366.9 409.4 L367.4 409.1 L367.9 408.8 L368.4 408.5 L368.9 408.2 L369.4 407.9 L369.9 407.6 L370.4 407.3 L370.9 407.0 L371.4 406.7 L371.9 406.4 L372.4 406.1 L372.9 405.7 L373.4 405.4 L373.9 405.1 L374.4 404.8 L374.9 404.5 L375.4 404.2 L375.9 403.9 L376.4 403.6 L376.9 403.3 L377.4 403.0 L377.9 402.7 L378.4 402.4 L378.9 402.1 L379.4 401.8 L379.9 401.5 L380.4 401.2 L380.9 400.8 L381.4 400.5 L381.9 400.2 L382.4 399.9 L382.9 399.6 L383.4 399.3 L383.9 399.0 L384.4 398.7 L384.9 398.4 L385.4 398.1 L385.9 397.8 L386.4 397.5 L386.9 397.2 L387.4 396.9 L387.9 396.6 L388.4 396.2 L388.9 395.9 L389.4 395.6 L389.9 395.3 L390.4 395.0 L390.9 394.7 L391.4 394.4 L391.9 394.1 L392.4 393.8 L392.9 393.5 L393.4 393.2 L393.9 392.9 L394.4 392.6 L394.9 392.3 L395.4 391.9 L395.9 391.6 L396.4 391.3 L396.9 391.0 L397.4 390.7 L397.9 390.4 L398.4 390.1 L398.9 389.8 L399.4 389.5 L399.9 389.2 L400.4 388.9 L400.9 388.6 L401.4 388.3 L401.9 387.9 L402.4 387.6 L402.9 387.3 L403.4 387.0 L403.9 386.7 L404.4 386.4 L404.9 386.1 L405.4 385.8 L405.9 385.5 L406.4 385.2 L406.9 384.9 L407.4 384.6 L407.9 384.3 L408.4 383.9 L408.9 383.6 L409.4 383.3 L409.9 383.0 L410.4 382.7 L410.9 382.4 L411.4 382.1 L411.9 381.8 L412.4 381.5 L412.9 381.2 L413.4 380.9 L413.9 380.6 L414.4 380.2 L414.9 379.9 L415.4 379.6 L415.9 379.3 L416.4 379.0 L416.9 378.7 L417.4 378.4 L417.9 378.1 L418.4 377.8 L418.9 377.5 L419.4 377.2 L419.9 376.9 L420.4 376.5 L420.9 376.2 L421.4 375.9 L421.9 375.6 L422.4 375.3 L422.9 375.0 L423.4 374.7 L423.9 374.4 L424.4 374.1 L424.9 373.8 L425.4 373.5 L425.9 373.1 L426.4 372.8 L426.9 372.5 L427.4 372.2 L427.9 371.9 L428.4 371.6 L428.9 371.3 L429.4 371.0 L429.9 370.7 L430.4 370.4 L430.9 370.1 L431.4 369.8 L431.9 369.4 L432.4 369.1 L432.9 368.8 L433.4 368.5 L433.9 368.2 L434.4 367.9 L434.9 367.6 L435.4 367.3 L435.9 367.0 L436.4 366.7 L436.9 366.4 L437.4 366.0 L437.9 365.7 L438.4 365.4 L438.9 365.1 L439.4 364.8 L439.9 364.5 L440.4 364.2 L440.9 363.9 L441.4 363.6 L441.9 363.3 L442.4 362.9 L442.9 362.6 L443.4 362.3 L443.9 362.0 L444.4 361.7 L444.9 361.4 L445.4 361.1 L445.9 360.8 L446.4 360.5 L446.9 360.2 L447.4 359.9 L447.9 359.5 L448.4 359.2 L448.9 358.9 L449.4 358.6 L449.9 358.3 L450.4 358.0 L450.9 357.7 L451.4 357.4 L451.9 357.1 L452.4 356.8 L452.9 356.4 L453.4 356.1 L453.9 355.8 L454.4 355.5 L454.9 355.2 L455.4 354.9 L455.9 354.6 L456.4 354.3 L456.9 354.0 L457.4 353.7 L457.9 353.3 L458.4 353.0 L458.9 352.7 L459.4 352.4 L459.9 352.1 L460.4 351.8 L460.9 351.5 L461.4 351.2 L461.9 350.9 L462.4 350.5 L462.9 350.2 L463.4 349.9 L463.9 349.6 L464.4 349.3 L464.9 349.0 L465.4 348.7 L465.9 348.4 L466.4 348.1 L466.9 347.8 L467.4 347.4 L467.9 347.1 L468.4 346.8 L468.9 346.5 L469.4 346.2 L469.9 345.9 L470.4 345.6 L470.9 345.3 L471.4 345.0 L471.9 344.6 L472.4 344.3 L472.9 344.0 L473.4 343.7 L473.9 343.4 L474.4 343.1 L474.9 342.8 L475.4 342.5 L475.9 342.2 L476.4 341.8 L476.9 341.5 L477.4 341.2 L477.9 340.9 L478.4 340.6 L478.9 340.3 L479.4 340.0 L479.9 339.7 L480.4 339.4 L480.9 339.0 L481.4 338.7 L481.9 338.4 L482.4 338.1 L482.9 337.8 L483.4 337.5 L483.9 337.2 L484.4 336.9 L484.9 336.5 L485.4 336.2 L485.9 335.9 L486.4 335.6 L486.9 335.3 L487.4 335.0 L487.9 334.7 L488.4 334.4 L488.9 334.1 L489.4 333.7 L489.9 333.4 L490.4 333.1 L490.9 332.8 L491.4 332.5 L491.9 332.2 L492.4 331.9 L492.9 331.6 L493.4 331.2 L493.9 330.9 L494.4 330.6 L494.9 330.3 L495.4 330.0 L495.9 329.7 L496.4 329.4 L496.9 329.0 L497.4 328.7 L497.9 328.4 L498.4 328.1 L498.9 327.8 L499.4 327.5 L499.9 327.2 L500.4 326.9 L500.9 326.5 L501.4 326.2 L501.9 325.9 L502.4 325.6 L502.9 325.3 L503.4 325.0 L503.9 324.7 L504.4 324.4 L504.9 324.0 L505.4 323.7 L505.9 323.4 L506.4 323.1 L506.9 322.8 L507.4 322.5 L507.9 322.2 L508.4 321.8 L508.9 321.5 L509.4 321.2 L509.9 320.9 L510.4 320.6 L510.9 320.3 L511.4 320.0 L511.9 319.6 L512.4 319.3 L512.9 319.0 L513.4 318.7 L513.9 318.4 L514.4 318.1 L514.9 317.7 L515.4 317.4 L515.9 317.1 L516.4 316.8 L516.9 316.5 L517.4 316.2 L517.9 315.9 L518.4 315.5 L518.9 315.2 L519.4 314.9 L519.9 314.6 L520.4 314.3 L520.9 314.0 L521.4 313.6 L521.9 313.3 L522.4 313.0 L522.9 312.7 L523.4 312.4 L523.9 312.1 L524.4 311.7 L524.9 311.4 L525.4 311.1 L525.9 310.8 L526.4 310.5 L526.9 310.2 L527.4 309.8 L527.9 309.5 L528.4 309.2 L528.9 308.9 L529.4 308.6 L529.9 308.3 L530.4 307.9 L530.9 307.6 L531.4 307.3 L531.9 307.0 L532.4 306.7 L532.9 306.4 L533.4 306.0 L533.9 305.7 L534.4 305.4 L534.9 305.1 L535.4 304.8 L535.9 304.4 L536.4 304.1 L536.9 303.8 L537.4 303.5 L537.9 303.2 L538.4 302.8 L538.9 302.5 L539.4 302.2 L539.9 301.9 L540.4 301.6 L540.9 301.2 L541.4 300.9 L541.9 300.6 L542.4 300.3 L542.9 300.0 L543.4 299.6 L543.9 299.3 L544.4 299.0 L544.9 298.7 L545.4 298.4 L545.9 298.0 L546.4 297.7 L546.9 297.4 L547.4 297.1 L547.9 296.8 L548.4 296.4 L548.9 296.1 L549.4 295.8 L549.9 295.5 L550.4 295.1 L550.9 294.8 L551.4 294.5 L551.9 294.2 L552.4 293.8 L552.9 293.5 L553.4 293.2 L553.9 292.9 L554.4 292.5 L554.9 292.2 L555.4 291.9 L555.9 291.6 L556.4 291.3 L556.9 290.9 L557.4 290.6 L557.9 290.3 L558.4 289.9 L558.9 289.6 L559.4 289.3 L559.9 289.0 L560.4 288.6 L560.9 288.3 L561.4 288.0 L561.9 287.7 L562.4 287.3 L562.9 287.0 L563.4 286.7 L563.9 286.4 L564.4 286.0 L564.9 285.7 L565.4 285.4 L565.9 285.0 L566.4 284.7 L566.9 284.4 L567.4 284.1 L567.9 283.7 L568.4 283.4 L568.9 283.1 L569.4 282.7 L569.9 282.4 L570.4 282.1 L570.9 281.7 L571.4 281.4 L571.9 281.1 L572.4 280.7 L572.9 280.4 L573.4 280.1 L573.9 279.7 L574.4 279.4 L574.9 279.1 L575.4 278.7 L575.9 278.4 L576.4 278.1 L576.9 277.7 L577.4 277.4 L577.9 277.1 L578.4 276.7 L578.9 276.4 L579.4 276.1 L579.9 275.7 L580.4 275.4 L580.9 275.1 L581.4 274.7 L581.9 274.4 L582.4 274.0 L582.9 273.7 L583.4 273.4 L583.9 273.0 L584.4 272.7 L584.9 272.3 L585.4 272.0 L585.9 271.7 L586.4 271.3 L586.9 271.0 L587.4 270.6 L587.9 270.3 L588.4 269.9 L588.9 269.6 L589.4 269.3 L589.9 268.9 L590.4 268.6 L590.9 268.2 L591.4 267.9 L591.9 267.5 L592.4 267.2 L592.9 266.8 L593.4 266.5 L593.9 266.1 L594.4 265.8 L594.9 265.5 L595.4 265.1 L595.9 264.8 L596.4 264.4 L596.9 264.1 L597.4 263.7 L597.9 263.4 L598.4 263.0 L598.9 262.6 L599.4 262.3 L599.9 261.9 L600.4 261.6 L600.9 261.2 L601.4 260.9 L601.9 260.5 L602.4 260.2 L602.9 259.8 L603.4 259.4 L603.9 259.1 L604.4 258.7 L604.9 258.4 L605.4 258.0 L605.9 257.7 L606.4 257.3 L606.9 256.9 L607.4 256.6 L607.9 256.2 L608.4 255.8 L608.9 255.5 L609.4 255.1 L609.9 254.7 L610.4 254.4 L610.9 254.0 L611.4 253.6 L611.9 253.3 L612.4 252.9 L612.9 252.5 L613.4 252.2 L613.9 251.8 L614.4 251.4 L614.9 251.0 L615.4 250.7 L615.9 250.3 L616.4 249.9 L616.9 249.5 L617.4 249.2 L617.9 248.8 L618.4 248.4 L618.9 248.0 L619.4 247.6 L619.9 247.3 L620.4 246.9 L620.9 246.5 L621.4 246.1 L621.9 245.7 L622.4 245.3 L622.9 244.9 L623.4 244.6 L623.9 244.2 L624.4 243.8 L624.9 243.4 L625.4 243.0 L625.9 242.6 L626.4 242.2 L626.9 241.8 L627.4 241.4 L627.9 241.0 L628.4 240.6 L628.9 240.2 L629.4 239.8 L629.9 239.4 L630.4 239.0 L630.9 238.6 L631.4 238.2 L631.9 237.8 L632.4 237.4 L632.9 237.0 L633.4 236.5 L633.9 236.1 L634.4 235.7 L634.9 235.3 L635.4 234.9 L635.9 234.5 L636.4 234.0 L636.9 233.6 L637.4 233.2 L637.9 232.8 L638.4 232.3 L638.9 231.9 L639.4 231.5 L639.9 231.0 L640.4 230.6 L640.9 230.2 L641.4 229.7 L641.9 229.3 L642.4 228.9 L642.9 228.4 L643.4 228.0 L643.9 227.5 L644.4 227.1 L644.9 226.6 L645.4 226.2 L645.9 225.7 L646.4 225.3 L646.9 224.8 L647.4 224.3 L647.9 223.9 L648.4 223.4 L648.9 222.9 L649.4 222.5 L649.9 222.0 L650.4 221.5 L650.9 221.1 L651.4 220.6 L651.9 220.1 L652.4 219.6 L652.9 219.1 L653.4 218.6 L653.9 218.1 L654.4 217.7 L654.9 217.2 L655.4 216.7 L655.9 216.2 L656.4 215.7 L656.9 215.1 L657.4 214.6 L657.9 214.1 L658.4 213.6 L658.9 213.1 L659.4 212.6 L659.9 212.0 L660.4 211.5 L660.9 211.0 L661.4 210.4 L661.9 209.9 L662.4 209.3 L662.9 208.8 L663.4 208.2 L663.9 207.7 L664.4 207.1 L664.9 206.6 L665.4 206.0 L665.9 205.4 L666.4 204.8 L666.9 204.3 L667.4 203.7 L667.9 203.1 L668.4 202.5 L668.9 201.9 L669.4 201.3 L669.9 200.7 L670.4 200.1 L670.9 199.4 L671.4 198.8 L671.9 198.1 L672.4 197.5 L672.9 196.8 L673.4 196.1 L673.9 195.4 L674.4 194.7 L674.9 194.0 L675.4 193.3 L675.9 192.6 L676.4 191.8 L676.9 191.1 L677.4 190.4 L677.9 189.6 L678.4 188.9 L678.9 188.2 L679.4 187.4 L679.9 186.7 L680.4 186.0 L680.9 185.2 L681.4 184.5 L681.9 183.8 L682.4 183.0 L682.9 182.3 L683.4 181.5 L683.9 180.7 L684.4 180.0 L684.9 179.2 L685.4 178.4 L685.9 177.6 L686.4 176.8 L686.9 176.0 L687.4 175.2 L687.9 174.4 L688.4 173.6 L688.9 172.7 L689.4 171.9 L689.9 171.0 L690.4 170.1 L690.9 169.3 L691.4 168.4 L691.9 167.6 L692.4 166.7 L692.9 165.9 L693.4 165.0 L693.9 164.2 L694.4 163.3 L694.9 162.5 L695.4 161.6 L695.9 160.7 L696.4 159.8 L696.9 158.9 L697.4 158.1 L697.9 157.2 L698.4 156.3 L698.9 155.5 L699.4 154.6 L699.9 153.8 L700.4 153.0 L700.9 152.2 L701.4 151.5 L701.9 150.8 L702.4 150.1 L702.9 149.5 L703.4 148.9 L703.9 148.2 L704.4 147.6 L704.9 147.0 L705.4 146.5 L705.9 146.0 L706.4 145.5 L706.9 145.1 L707.4 144.8 L707.9 144.5 L708.4 144.4 L708.9 144.3 L709.4 144.2 L709.9 144.3 L710.4 144.3 L710.9 144.4 L711.4 144.6 L711.9 144.8 L712.4 145.0 L712.9 145.2 L713.4 145.4 L713.9 145.7 L714.4 145.9 L714.9 146.2 L715.4 146.6 L715.9 146.9 L716.4 147.3 L716.9 147.7 L717.4 148.2 L717.9 148.6 L718.4 149.1 L718.9 149.6 L719.4 150.2 L719.9 150.7 L720.4 151.3 L720.9 151.9 L721.4 152.5 L721.9 153.2 L722.4 154.0 L722.9 154.7 L723.4 155.5 L723.9 156.3 L724.4 157.2 L724.9 158.0 L725.4 158.8 L725.9 159.6 L726.4 160.4 L726.9 161.1 L727.4 161.9 L727.9 162.6 L728.4 163.4 L728.9 164.1 L729.4 164.9 L729.9 165.7 L730.4 166.4 L730.9 167.2 L731.4 168.0 L731.9 168.8 L732.4 169.6 L732.9 170.3 L733.4 171.1 L733.9 171.9 L734.4 172.7 L734.9 173.5 L735.4 174.3 L735.9 175.1 L736.4 175.9 L736.9 176.8 L737.4 177.6 L737.9 178.4 L738.4 179.2 L738.9 180.0 L739.4 180.8 L739.9 181.6 L740.4 182.5 L740.9 183.3 L741.4 184.1 L741.9 184.9 L742.4 185.7 L742.9 186.6 L743.4 187.4 L743.9 188.2 L744.4 189.1 L744.9 189.9 L745.4 190.8 L745.9 191.6 L746.4 192.4 L746.9 193.2 L747.4 194.0 L747.9 194.8 L748.4 195.6 L748.9 196.3 L749.4 197.1 L749.9 197.8 L750.4 198.6 L750.9 199.3 L751.4 200.1 L751.9 200.8 L752.4 201.6 L752.9 202.3 L753.4 203.1 L753.9 203.8 L754.4 204.5 L754.9 205.2 L755.4 205.9 L755.9 206.6 L756.4 207.3 L756.9 208.0 L757.4 208.6 L757.9 209.3 L758.4 209.9 L758.9 210.6 L759.4 211.2 L759.9 211.8 L760.4 212.4 L760.9 213.0 L761.4 213.6 L761.9 214.2 L762.4 214.7 L762.9 215.3 L763.4 215.8 L763.9 216.4 L764.4 216.9 L764.9 217.5 L765.4 218.0 L765.9 218.5 L766.4 219.1 L766.9 219.6 L767.4 220.1 L767.9 220.6 L768.4 221.1 L768.9 221.6 L769.4 222.1 L769.9 222.6 L770.4 223.1 L770.9 223.6 L771.4 224.1 L771.9 224.6 L772.4 225.1 L772.9 225.5 L773.4 226.0 L773.9 226.5 L774.4 227.0 L774.9 227.4 L775.4 227.9 L775.9 228.4 L776.4 228.9 L776.9 229.3 L777.4 229.8 L777.9 230.2 L778.4 230.7 L778.9 231.1 L779.4 231.6 L779.9 232.0 L780.4 232.5 L780.9 232.9 L781.4 233.3 L781.9 233.7 L782.4 234.2 L782.9 234.6 L783.4 235.0 L783.9 235.4 L784.4 235.8 L784.9 236.1 L785.4 236.5 L785.9 236.9 L786.4 237.3 L786.9 237.6 L787.4 238.0 L787.9 238.3 L788.4 238.7 L788.9 239.0 L789.4 239.3 L789.9 239.6 L790.4 240.0 L790.9 240.3 L791.4 240.6 L791.9 240.9 L792.4 241.2 L792.9 241.5 L793.4 241.8 L793.9 242.1 L794.4 242.3 L794.9 242.6 L795.4 242.9 L795.9 243.1 L796.4 243.4 L796.9 243.7 L797.4 243.9 L797.9 244.1 L798.4 244.4 L798.9 244.6 L799.4 244.8 L799.9 245.0 L800.4 245.3 L800.9 245.5 L801.4 245.7 L801.9 245.9 L802.4 246.1 L802.9 246.3 L803.4 246.5 L803.9 246.6 L804.4 246.8 L804.9 247.0 L805.4 247.2 L805.9 247.3 L806.4 247.5 L806.9 247.7 L807.4 247.8 L807.9 248.0 L808.4 248.1 L808.9 248.3 L809.4 248.5 L809.9 248.6 L810.4 248.7 L810.9 248.9 L811.4 249.0 L811.9 249.2 L812.4 249.3 L812.9 249.4 L813.4 249.6 L813.9 249.7 L814.4 249.8 L814.9 249.9 L815.4 250.1 L815.9 250.2 L816.4 250.3 L816.9 250.4 L817.4 250.5 L817.9 250.6 L818.4 250.7 L818.9 250.8 L819.4 250.9 L819.9 251.0 L820.4 251.1 L820.9 251.2 L821.4 251.3 L821.9 251.3 L822.4 251.4 L822.9 251.5 L823.4 251.6 L823.9 251.6 L824.4 251.7 L824.9 251.8 L825.4 251.8 L825.9 251.9 L826.4 251.9 L826.9 252.0 L827.4 252.0 L827.9 252.1 L828.4 252.1 L828.9 252.2 L829.4 252.2 L829.9 252.2 L830.4 252.2 L830.9 252.3 L831.4 252.3 L831.9 252.3 L832.4 252.3 L832.9 252.3 L833.4 252.3 L833.9 252.3 L834.4 252.3 L834.9 252.4 L835.4 252.4 L835.9 252.4 L836.4 252.4 L836.9 252.4 L837.4 252.4 L837.9 252.4 L838.4 252.4 L838.9 252.4 L839.4 252.4 L839.9 252.4 L840.4 252.4 L840.9 252.4 L841.4 252.4 L841.9 252.4 L842.4 252.4 L842.9 252.4 L843.4 252.4 L843.9 252.4 L844.4 252.4 L844.9 252.3 L845.4 252.3 L845.9 252.3 L846.4 252.3 L846.9 252.3 L847.4 252.3 L847.5 252.3" fill="none" stroke="#000" stroke-width="3" stroke-linejoin="round" stroke-linecap="round"/><path d="M145.4 539.7 L145.9 539.6 L146.4 539.4 L146.9 539.3 L147.4 539.1 L147.9 538.9 L148.4 538.8 L148.9 538.6 L149.4 538.5 L149.9 538.3 L150.4 538.1 L150.9 538.0 L151.4 537.8 L151.9 537.7 L152.4 537.5 L152.9 537.3 L153.4 537.2 L153.9 537.0 L154.4 536.8 L154.9 536.7 L155.4 536.5 L155.9 536.3 L156.4 536.2 L156.9 536.0 L157.4 535.8 L157.9 535.7 L158.4 535.5 L158.9 535.3 L159.4 535.2 L159.9 535.0 L160.4 534.8 L160.9 534.6 L161.4 534.5 L161.9 534.3 L162.4 534.1 L162.9 533.9 L163.4 533.8 L163.9 533.6 L164.4 533.4 L164.9 533.2 L165.4 533.0 L165.9 532.9 L166.4 532.7 L166.9 532.5 L167.4 532.3 L167.9 532.1 L168.4 531.9 L168.9 531.8 L169.4 531.6 L169.9 531.4 L170.4 531.2 L170.9 531.0 L171.4 530.8 L171.9 530.6 L172.4 530.4 L172.9 530.3 L173.4 530.1 L173.9 529.9 L174.4 529.7 L174.9 529.5 L175.4 529.3 L175.9 529.1 L176.4 528.9 L176.9 528.7 L177.4 528.5 L177.9 528.3 L178.4 528.1 L178.9 527.9 L179.4 527.7 L179.9 527.5 L180.4 527.3 L180.9 527.1 L181.4 526.9 L181.9 526.7 L182.4 526.5 L182.9 526.3 L183.4 526.1 L183.9 525.9 L184.4 525.7 L184.9 525.5 L185.4 525.3 L185.9 525.1 L186.4 524.9 L186.9 524.7 L187.4 524.5 L187.9 524.3 L188.4 524.1 L188.9 523.8 L189.4 523.6 L189.9 523.4 L190.4 523.2 L190.9 523.0 L191.4 522.8 L191.9 522.6 L192.4 522.4 L192.9 522.2 L193.4 521.9 L193.9 521.7 L194.4 521.5 L194.9 521.3 L195.4 521.1 L195.9 520.9 L196.4 520.6 L196.9 520.4 L197.4 520.2 L197.9 520.0 L198.4 519.8 L198.9 519.5 L199.4 519.3 L199.9 519.1 L200.4 518.9 L200.9 518.7 L201.4 518.4 L201.9 518.2 L202.4 518.0 L202.9 517.8 L203.4 517.5 L203.9 517.3 L204.4 517.1 L204.9 516.9 L205.4 516.6 L205.9 516.4 L206.4 516.2 L206.9 516.0 L207.4 515.7 L207.9 515.5 L208.4 515.3 L208.9 515.0 L209.4 514.8 L209.9 514.6 L210.4 514.4 L210.9 514.1 L211.4 513.9 L211.9 513.7 L212.4 513.4 L212.9 513.2 L213.4 513.0 L213.9 512.7 L214.4 512.5 L214.9 512.3 L215.4 512.0 L215.9 511.8 L216.4 511.6 L216.9 511.3 L217.4 511.1 L217.9 510.8 L218.4 510.6 L218.9 510.4 L219.4 510.1 L219.9 509.9 L220.4 509.6 L220.9 509.4 L221.4 509.2 L221.9 508.9 L222.4 508.7 L222.9 508.4 L223.4 508.2 L223.9 508.0 L224.4 507.7 L224.9 507.5 L225.4 507.2 L225.9 507.0 L226.4 506.7 L226.9 506.5 L227.4 506.3 L227.9 506.0 L228.4 505.8 L228.9 505.5 L229.4 505.3 L229.9 505.0 L230.4 504.8 L230.9 504.5 L231.4 504.3 L231.9 504.0 L232.4 503.8 L232.9 503.5 L233.4 503.3 L233.9 503.0 L234.4 502.8 L234.9 502.5 L235.4 502.3 L235.9 502.0 L236.4 501.8 L236.9 501.5 L237.4 501.3 L237.9 501.0 L238.4 500.8 L238.9 500.5 L239.4 500.3 L239.9 500.0 L240.4 499.8 L240.9 499.5 L241.4 499.3 L241.9 499.0 L242.4 498.8 L242.9 498.5 L243.4 498.3 L243.9 498.0 L244.4 497.7 L244.9 497.5 L245.4 497.2 L245.9 497.0 L246.4 496.7 L246.9 496.5 L247.4 496.2 L247.9 496.0 L248.4 495.7 L248.9 495.4 L249.4 495.2 L249.9 494.9 L250.4 494.7 L250.9 494.4 L251.4 494.1 L251.9 493.9 L252.4 493.6 L252.9 493.4 L253.4 493.1 L253.9 492.8 L254.4 492.6 L254.9 492.3 L255.4 492.1 L255.9 491.8 L256.4 491.5 L256.9 491.3 L257.4 491.0 L257.9 490.8 L258.4 490.5 L258.9 490.2 L259.4 490.0 L259.9 489.7 L260.4 489.4 L260.9 489.2 L261.4 488.9 L261.9 488.6 L262.4 488.4 L262.9 488.1 L263.4 487.9 L263.9 487.6 L264.4 487.3 L264.9 487.1 L265.4 486.8 L265.9 486.5 L266.4 486.3 L266.9 486.0 L267.4 485.7 L267.9 485.5 L268.4 485.2 L268.9 484.9 L269.4 484.7 L269.9 484.4 L270.4 484.1 L270.9 483.9 L271.4 483.6 L271.9 483.3 L272.4 483.1 L272.9 482.8 L273.4 482.5 L273.9 482.3 L274.4 482.0 L274.9 481.7 L275.4 481.5 L275.9 481.2 L276.4 480.9 L276.9 480.6 L277.4 480.4 L277.9 480.1 L278.4 479.8 L278.9 479.6 L279.4 479.3 L279.9 479.0 L280.4 478.8 L280.9 478.5 L281.4 478.2 L281.9 477.9 L282.4 477.7 L282.9 477.4 L283.4 477.1 L283.9 476.9 L284.4 476.6 L284.9 476.3 L285.4 476.0 L285.9 475.8 L286.4 475.5 L286.9 475.2 L287.4 474.9 L287.9 474.7 L288.4 474.4 L288.9 474.1 L289.4 473.9 L289.9 473.6 L290.4 473.3 L290.9 473.0 L291.4 472.8 L291.9 472.5 L292.4 472.2 L292.9 471.9 L293.4 471.7 L293.9 471.4 L294.4 471.1 L294.9 470.8 L295.4 470.6 L295.9 470.3 L296.4 470.0 L296.9 469.7 L297.4 469.5 L297.9 469.2 L298.4 468.9 L298.9 468.6 L299.4 468.4 L299.9 468.1 L300.4 467.8 L300.9 467.5 L301.4 467.3 L301.9 467.0 L302.4 466.7 L302.9 466.4 L303.4 466.2 L303.9 465.9 L304.4 465.6 L304.9 465.3 L305.4 465.1 L305.9 464.8 L306.4 464.5 L306.9 464.2 L307.4 463.9 L307.9 463.7 L308.4 463.4 L308.9 463.1 L309.4 462.8 L309.9 462.6 L310.4 462.3 L310.9 462.0 L311.4 461.7 L311.9 461.4 L312.4 461.2 L312.9 460.9 L313.4 460.6 L313.9 460.3 L314.4 460.1 L314.9 459.8 L315.4 459.5 L315.9 459.2 L316.4 458.9 L316.9 458.7 L317.4 458.4 L317.9 458.1 L318.4 457.8 L318.9 457.5 L319.4 457.3 L319.9 457.0 L320.4 456.7 L320.9 456.4 L321.4 456.2 L321.9 455.9 L322.4 455.6 L322.9 455.3 L323.4 455.0 L323.9 454.8 L324.4 454.5 L324.9 454.2 L325.4 453.9 L325.9 453.6 L326.4 453.4 L326.9 453.1 L327.4 452.8 L327.9 452.5 L328.4 452.2 L328.9 451.9 L329.4 451.7 L329.9 451.4 L330.4 451.1 L330.9 450.8 L331.4 450.5 L331.9 450.3 L332.4 450.0 L332.9 449.7 L333.4 449.4 L333.9 449.1 L334.4 448.9 L334.9 448.6 L335.4 448.3 L335.9 448.0 L336.4 447.7 L336.9 447.5 L337.4 447.2 L337.9 446.9 L338.4 446.6 L338.9 446.3 L339.4 446.0 L339.9 445.8 L340.4 445.5 L340.9 445.2 L341.4 444.9 L341.9 444.6 L342.4 444.4 L342.9 444.1 L343.4 443.8 L343.9 443.5 L344.4 443.2 L344.9 442.9 L345.4 442.7 L345.9 442.4 L346.4 442.1 L346.9 441.8 L347.4 441.5 L347.9 441.2 L348.4 441.0 L348.9 440.7 L349.4 440.4 L349.9 440.1 L350.4 439.8 L350.9 439.5 L351.4 439.3 L351.9 439.0 L352.4 438.7 L352.9 438.4 L353.4 438.1 L353.9 437.9 L354.4 437.6 L354.9 437.3 L355.4 437.0 L355.9 436.7 L356.4 436.4 L356.9 436.2 L357.4 435.9 L357.9 435.6 L358.4 435.3 L358.9 435.0 L359.4 434.7 L359.9 434.5 L360.4 434.2 L360.9 433.9 L361.4 433.6 L361.9 433.3 L362.4 433.0 L362.9 432.7 L363.4 432.5 L363.9 432.2 L364.4 431.9 L364.9 431.6 L365.4 431.3 L365.9 431.0 L366.4 430.8 L366.9 430.5 L367.4 430.2 L367.9 429.9 L368.4 429.6 L368.9 429.3 L369.4 429.1 L369.9 428.8 L370.4 428.5 L370.9 428.2 L371.4 427.9 L371.9 427.6 L372.4 427.4 L372.9 427.1 L373.4 426.8 L373.9 426.5 L374.4 426.2 L374.9 425.9 L375.4 425.6 L375.9 425.4 L376.4 425.1 L376.9 424.8 L377.4 424.5 L377.9 424.2 L378.4 423.9 L378.9 423.7 L379.4 423.4 L379.9 423.1 L380.4 422.8 L380.9 422.5 L381.4 422.2 L381.9 421.9 L382.4 421.7 L382.9 421.4 L383.4 421.1 L383.9 420.8 L384.4 420.5 L384.9 420.2 L385.4 419.9 L385.9 419.7 L386.4 419.4 L386.9 419.1 L387.4 418.8 L387.9 418.5 L388.4 418.2 L388.9 418.0 L389.4 417.7 L389.9 417.4 L390.4 417.1 L390.9 416.8 L391.4 416.5 L391.9 416.2 L392.4 416.0 L392.9 415.7 L393.4 415.4 L393.9 415.1 L394.4 414.8 L394.9 414.5 L395.4 414.2 L395.9 414.0 L396.4 413.7 L396.9 413.4 L397.4 413.1 L397.9 412.8 L398.4 412.5 L398.9 412.2 L399.4 412.0 L399.9 411.7 L400.4 411.4 L400.9 411.1 L401.4 410.8 L401.9 410.5 L402.4 410.2 L402.9 410.0 L403.4 409.7 L403.9 409.4 L404.4 409.1 L404.9 408.8 L405.4 408.5 L405.9 408.2 L406.4 408.0 L406.9 407.7 L407.4 407.4 L407.9 407.1 L408.4 406.8 L408.9 406.5 L409.4 406.2 L409.9 406.0 L410.4 405.7 L410.9 405.4 L411.4 405.1 L411.9 404.8 L412.4 404.5 L412.9 404.2 L413.4 403.9 L413.9 403.7 L414.4 403.4 L414.9 403.1 L415.4 402.8 L415.9 402.5 L416.4 402.2 L416.9 401.9 L417.4 401.7 L417.9 401.4 L418.4 401.1 L418.9 400.8 L419.4 400.5 L419.9 400.2 L420.4 399.9 L420.9 399.7 L421.4 399.4 L421.9 399.1 L422.4 398.8 L422.9 398.5 L423.4 398.2 L423.9 397.9 L424.4 397.6 L424.9 397.4 L425.4 397.1 L425.9 396.8 L426.4 396.5 L426.9 396.2 L427.4 395.9 L427.9 395.6 L428.4 395.4 L428.9 395.1 L429.4 394.8 L429.9 394.5 L430.4 394.2 L430.9 393.9 L431.4 393.6 L431.9 393.3 L432.4 393.1 L432.9 392.8 L433.4 392.5 L433.9 392.2 L434.4 391.9 L434.9 391.6 L435.4 391.3 L435.9 391.0 L436.4 390.8 L436.9 390.5 L437.4 390.2 L437.9 389.9 L438.4 389.6 L438.9 389.3 L439.4 389.0 L439.9 388.7 L440.4 388.5 L440.9 388.2 L441.4 387.9 L441.9 387.6 L442.4 387.3 L442.9 387.0 L443.4 386.7 L443.9 386.5 L444.4 386.2 L444.9 385.9 L445.4 385.6 L445.9 385.3 L446.4 385.0 L446.9 384.7 L447.4 384.4 L447.9 384.2 L448.4 383.9 L448.9 383.6 L449.4 383.3 L449.9 383.0 L450.4 382.7 L450.9 382.4 L451.4 382.1 L451.9 381.9 L452.4 381.6 L452.9 381.3 L453.4 381.0 L453.9 380.7 L454.4 380.4 L454.9 380.1 L455.4 379.8 L455.9 379.5 L456.4 379.3 L456.9 379.0 L457.4 378.7 L457.9 378.4 L458.4 378.1 L458.9 377.8 L459.4 377.5 L459.9 377.2 L460.4 377.0 L460.9 376.7 L461.4 376.4 L461.9 376.1 L462.4 375.8 L462.9 375.5 L463.4 375.2 L463.9 374.9 L464.4 374.7 L464.9 374.4 L465.4 374.1 L465.9 373.8 L466.4 373.5 L466.9 373.2 L467.4 372.9 L467.9 372.6 L468.4 372.3 L468.9 372.1 L469.4 371.8 L469.9 371.5 L470.4 371.2 L470.9 370.9 L471.4 370.6 L471.9 370.3 L472.4 370.0 L472.9 369.8 L473.4 369.5 L473.9 369.2 L474.4 368.9 L474.9 368.6 L475.4 368.3 L475.9 368.0 L476.4 367.7 L476.9 367.4 L477.4 367.2 L477.9 366.9 L478.4 366.6 L478.9 366.3 L479.4 366.0 L479.9 365.7 L480.4 365.4 L480.9 365.1 L481.4 364.8 L481.9 364.6 L482.4 364.3 L482.9 364.0 L483.4 363.7 L483.9 363.4 L484.4 363.1 L484.9 362.8 L485.4 362.5 L485.9 362.2 L486.4 361.9 L486.9 361.7 L487.4 361.4 L487.9 361.1 L488.4 360.8 L488.9 360.5 L489.4 360.2 L489.9 359.9 L490.4 359.6 L490.9 359.3 L491.4 359.1 L491.9 358.8 L492.4 358.5 L492.9 358.2 L493.4 357.9 L493.9 357.6 L494.4 357.3 L494.9 357.0 L495.4 356.7 L495.9 356.4 L496.4 356.2 L496.9 355.9 L497.4 355.6 L497.9 355.3 L498.4 355.0 L498.9 354.7 L499.4 354.4 L499.9 354.1 L500.4 353.8 L500.9 353.5 L501.4 353.2 L501.9 353.0 L502.4 352.7 L502.9 352.4 L503.4 352.1 L503.9 351.8 L504.4 351.5 L504.9 351.2 L505.4 350.9 L505.9 350.6 L506.4 350.3 L506.9 350.0 L507.4 349.8 L507.9 349.5 L508.4 349.2 L508.9 348.9 L509.4 348.6 L509.9 348.3 L510.4 348.0 L510.9 347.7 L511.4 347.4 L511.9 347.1 L512.4 346.8 L512.9 346.5 L513.4 346.3 L513.9 346.0 L514.4 345.7 L514.9 345.4 L515.4 345.1 L515.9 344.8 L516.4 344.5 L516.9 344.2 L517.4 343.9 L517.9 343.6 L518.4 343.3 L518.9 343.0 L519.4 342.7 L519.9 342.5 L520.4 342.2 L520.9 341.9 L521.4 341.6 L521.9 341.3 L522.4 341.0 L522.9 340.7 L523.4 340.4 L523.9 340.1 L524.4 339.8 L524.9 339.5 L525.4 339.2 L525.9 338.9 L526.4 338.6 L526.9 338.4 L527.4 338.1 L527.9 337.8 L528.4 337.5 L528.9 337.2 L529.4 336.9 L529.9 336.6 L530.4 336.3 L530.9 336.0 L531.4 335.7 L531.9 335.4 L532.4 335.1 L532.9 334.8 L533.4 334.5 L533.9 334.2 L534.4 333.9 L534.9 333.6 L535.4 333.3 L535.9 333.0 L536.4 332.8 L536.9 332.5 L537.4 332.2 L537.9 331.9 L538.4 331.6 L538.9 331.3 L539.4 331.0 L539.9 330.7 L540.4 330.4 L540.9 330.1 L541.4 329.8 L541.9 329.5 L542.4 329.2 L542.9 328.9 L543.4 328.6 L543.9 328.3 L544.4 328.0 L544.9 327.7 L545.4 327.4 L545.9 327.1 L546.4 326.8 L546.9 326.5 L547.4 326.2 L547.9 325.9 L548.4 325.6 L548.9 325.3 L549.4 325.0 L549.9 324.7 L550.4 324.4 L550.9 324.1 L551.4 323.8 L551.9 323.5 L552.4 323.2 L552.9 322.9 L553.4 322.6 L553.9 322.3 L554.4 322.0 L554.9 321.7 L555.4 321.4 L555.9 321.1 L556.4 320.8 L556.9 320.5 L557.4 320.2 L557.9 319.9 L558.4 319.6 L558.9 319.3 L559.4 319.0 L559.9 318.7 L560.4 318.4 L560.9 318.1 L561.4 317.8 L561.9 317.5 L562.4 317.2 L562.9 316.9 L563.4 316.6 L563.9 316.3 L564.4 316.0 L564.9 315.7 L565.4 315.4 L565.9 315.1 L566.4 314.8 L566.9 314.5 L567.4 314.2 L567.9 313.9 L568.4 313.6 L568.9 313.3 L569.4 313.0 L569.9 312.7 L570.4 312.4 L570.9 312.0 L571.4 311.7 L571.9 311.4 L572.4 311.1 L572.9 310.8 L573.4 310.5 L573.9 310.2 L574.4 309.9 L574.9 309.6 L575.4 309.3 L575.9 309.0 L576.4 308.7 L576.9 308.4 L577.4 308.0 L577.9 307.7 L578.4 307.4 L578.9 307.1 L579.4 306.8 L579.9 306.5 L580.4 306.2 L580.9 305.9 L581.4 305.6 L581.9 305.2 L582.4 304.9 L582.9 304.6 L583.4 304.3 L583.9 304.0 L584.4 303.7 L584.9 303.4 L585.4 303.1 L585.9 302.7 L586.4 302.4 L586.9 302.1 L587.4 301.8 L587.9 301.5 L588.4 301.2 L588.9 300.9 L589.4 300.5 L589.9 300.2 L590.4 299.9 L590.9 299.6 L591.4 299.3 L591.9 298.9 L592.4 298.6 L592.9 298.3 L593.4 298.0 L593.9 297.7 L594.4 297.4 L594.9 297.0 L595.4 296.7 L595.9 296.4 L596.4 296.1 L596.9 295.7 L597.4 295.4 L597.9 295.1 L598.4 294.8 L598.9 294.5 L599.4 294.1 L599.9 293.8 L600.4 293.5 L600.9 293.2 L601.4 292.8 L601.9 292.5 L602.4 292.2 L602.9 291.8 L603.4 291.5 L603.9 291.2 L604.4 290.9 L604.9 290.5 L605.4 290.2 L605.9 289.9 L606.4 289.5 L606.9 289.2 L607.4 288.9 L607.9 288.5 L608.4 288.2 L608.9 287.9 L609.4 287.5 L609.9 287.2 L610.4 286.9 L610.9 286.5 L611.4 286.2 L611.9 285.9 L612.4 285.5 L612.9 285.2 L613.4 284.8 L613.9 284.5 L614.4 284.2 L614.9 283.8 L615.4 283.5 L615.9 283.1 L616.4 282.8 L616.9 282.4 L617.4 282.1 L617.9 281.8 L618.4 281.4 L618.9 281.1 L619.4 280.7 L619.9 280.4 L620.4 280.0 L620.9 279.7 L621.4 279.3 L621.9 279.0 L622.4 278.6 L622.9 278.3 L623.4 277.9 L623.9 277.5 L624.4 277.2 L624.9 276.8 L625.4 276.5 L625.9 276.1 L626.4 275.8 L626.9 275.4 L627.4 275.0 L627.9 274.7 L628.4 274.3 L628.9 274.0 L629.4 273.6 L629.9 273.2 L630.4 272.9 L630.9 272.5 L631.4 272.1 L631.9 271.7 L632.4 271.4 L632.9 271.0 L633.4 270.6 L633.9 270.3 L634.4 269.9 L634.9 269.5 L635.4 269.1 L635.9 268.7 L636.4 268.4 L636.9 268.0 L637.4 267.6 L637.9 267.2 L638.4 266.8 L638.9 266.5 L639.4 266.1 L639.9 265.7 L640.4 265.3 L640.9 264.9 L641.4 264.5 L641.9 264.1 L642.4 263.7 L642.9 263.3 L643.4 262.9 L643.9 262.5 L644.4 262.1 L644.9 261.7 L645.4 261.3 L645.9 260.9 L646.4 260.5 L646.9 260.1 L647.4 259.7 L647.9 259.3 L648.4 258.9 L648.9 258.4 L649.4 258.0 L649.9 257.6 L650.4 257.2 L650.9 256.8 L651.4 256.3 L651.9 255.9 L652.4 255.5 L652.9 255.1 L653.4 254.6 L653.9 254.2 L654.4 253.8 L654.9 253.3 L655.4 252.9 L655.9 252.4 L656.4 252.0 L656.9 251.5 L657.4 251.1 L657.9 250.6 L658.4 250.2 L658.9 249.7 L659.4 249.3 L659.9 248.8 L660.4 248.4 L660.9 247.9 L661.4 247.4 L661.9 247.0 L662.4 246.5 L662.9 246.0 L663.4 245.5 L663.9 245.1 L664.4 244.6 L664.9 244.1 L665.4 243.6 L665.9 243.1 L666.4 242.6 L666.9 242.1 L667.4 241.6 L667.9 241.1 L668.4 240.6 L668.9 240.1 L669.4 239.6 L669.9 239.1 L670.4 238.6 L670.9 238.0 L671.4 237.5 L671.9 237.0 L672.4 236.5 L672.9 235.9 L673.4 235.4 L673.9 234.8 L674.4 234.3 L674.9 233.7 L675.4 233.2 L675.9 232.6 L676.4 232.1 L676.9 231.5 L677.4 230.9 L677.9 230.4 L678.4 229.8 L678.9 229.2 L679.4 228.6 L679.9 228.0 L680.4 227.4 L680.9 226.8 L681.4 226.2 L681.9 225.6 L682.4 225.0 L682.9 224.3 L683.4 223.7 L683.9 223.0 L684.4 222.4 L684.9 221.7 L685.4 221.1 L685.9 220.4 L686.4 219.8 L686.9 219.1 L687.4 218.4 L687.9 217.8 L688.4 217.1 L688.9 216.5 L689.4 215.8 L689.9 215.1 L690.4 214.4 L690.9 213.7 L691.4 213.0 L691.9 212.3 L692.4 211.6 L692.9 210.9 L693.4 210.1 L693.9 209.4 L694.4 208.6 L694.9 207.8 L695.4 207.1 L695.9 206.3 L696.4 205.5 L696.9 204.7 L697.4 203.9 L697.9 203.1 L698.4 202.3 L698.9 201.5 L699.4 200.8 L699.9 200.0 L700.4 199.2 L700.9 198.3 L701.4 197.5 L701.9 196.7 L702.4 195.9 L702.9 195.1 L703.4 194.2 L703.9 193.4 L704.4 192.5 L704.9 191.6 L705.4 190.7 L705.9 189.8 L706.4 188.8 L706.9 187.8 L707.4 186.7 L707.9 185.5 L708.4 184.4 L708.9 183.4 L709.4 182.4 L709.9 181.5 L710.4 180.6 L710.9 179.7 L711.4 178.8 L711.9 178.0 L712.4 177.1 L712.9 176.3 L713.4 175.5 L713.9 174.7 L714.4 173.9 L714.9 173.1 L715.4 172.3 L715.9 171.5 L716.4 170.6 L716.9 169.8 L717.4 169.0 L717.9 168.2 L718.4 167.4 L718.9 166.7 L719.4 166.1 L719.9 165.5 L720.4 165.0 L720.9 164.5 L721.4 164.0 L721.9 163.6 L722.4 163.3 L722.9 163.1 L723.4 163.0 L723.9 163.0 L724.4 163.1 L724.9 163.3 L725.4 163.5 L725.9 163.8 L726.4 164.1 L726.9 164.4 L727.4 164.8 L727.9 165.1 L728.4 165.5 L728.9 165.9 L729.4 166.4 L729.9 166.9 L730.4 167.4 L730.9 168.0 L731.4 168.6 L731.9 169.2 L732.4 169.8 L732.9 170.5 L733.4 171.1 L733.9 171.8 L734.4 172.5 L734.9 173.2 L735.4 173.9 L735.9 174.7 L736.4 175.5 L736.9 176.3 L737.4 177.1 L737.9 177.9 L738.4 178.7 L738.9 179.5 L739.4 180.3 L739.9 181.1 L740.4 181.9 L740.9 182.7 L741.4 183.6 L741.9 184.4 L742.4 185.2 L742.9 186.1 L743.4 186.9 L743.9 187.8 L744.4 188.6 L744.9 189.5 L745.4 190.3 L745.9 191.1 L746.4 191.9 L746.9 192.7 L747.4 193.5 L747.9 194.2 L748.4 195.0 L748.9 195.8 L749.4 196.5 L749.9 197.3 L750.4 198.0 L750.9 198.8 L751.4 199.5 L751.9 200.2 L752.4 200.9 L752.9 201.7 L753.4 202.4 L753.9 203.1 L754.4 203.8 L754.9 204.5 L755.4 205.2 L755.9 205.9 L756.4 206.6 L756.9 207.3 L757.4 207.9 L757.9 208.6 L758.4 209.2 L758.9 209.9 L759.4 210.5 L759.9 211.1 L760.4 211.7 L760.9 212.3 L761.4 212.9 L761.9 213.5 L762.4 214.1 L762.9 214.6 L763.4 215.2 L763.9 215.7 L764.4 216.3 L764.9 216.8 L765.4 217.3 L765.9 217.9 L766.4 218.4 L766.9 218.9 L767.4 219.4 L767.9 219.9 L768.4 220.4 L768.9 220.9 L769.4 221.4 L769.9 221.9 L770.4 222.4 L770.9 222.8 L771.4 223.3 L771.9 223.8 L772.4 224.2 L772.9 224.7 L773.4 225.2 L773.9 225.6 L774.4 226.1 L774.9 226.6 L775.4 227.1 L775.9 227.6 L776.4 228.1 L776.9 228.5 L777.4 229.0 L777.9 229.5 L778.4 230.0 L778.9 230.4 L779.4 230.9 L779.9 231.4 L780.4 231.8 L780.9 232.3 L781.4 232.7 L781.9 233.1 L782.4 233.5 L782.9 233.9 L783.4 234.3 L783.9 234.7 L784.4 235.1 L784.9 235.5 L785.4 235.8 L785.9 236.2 L786.4 236.5 L786.9 236.9 L787.4 237.2 L787.9 237.5 L788.4 237.8 L788.9 238.1 L789.4 238.4 L789.9 238.7 L790.4 239.0 L790.9 239.3 L791.4 239.6 L791.9 239.9 L792.4 240.1 L792.9 240.4 L793.4 240.7 L793.9 240.9 L794.4 241.2 L794.9 241.4 L795.4 241.7 L795.9 242.0 L796.4 242.2 L796.9 242.5 L797.4 242.7 L797.9 242.9 L798.4 243.2 L798.9 243.4 L799.4 243.7 L799.9 243.9 L800.4 244.1 L800.9 244.4 L801.4 244.6 L801.9 244.9 L802.4 245.1 L802.9 245.3 L803.4 245.5 L803.9 245.8 L804.4 246.0 L804.9 246.2 L805.4 246.4 L805.9 246.7 L806.4 246.9 L806.9 247.1 L807.4 247.3 L807.9 247.5 L808.4 247.7 L808.9 247.9 L809.4 248.0 L809.9 248.2 L810.4 248.4 L810.9 248.6 L811.4 248.7 L811.9 248.9 L812.4 249.0 L812.9 249.2 L813.4 249.3 L813.9 249.5 L814.4 249.6 L814.9 249.7 L815.4 249.9 L815.9 250.0 L816.4 250.1 L816.9 250.2 L817.4 250.4 L817.9 250.5 L818.4 250.6 L818.9 250.7 L819.4 250.8 L819.9 250.9 L820.4 251.0 L820.9 251.1 L821.4 251.2 L821.9 251.3 L822.4 251.4 L822.9 251.5 L823.4 251.5 L823.9 251.6 L824.4 251.7 L824.9 251.8 L825.4 251.8 L825.9 251.9 L826.4 251.9 L826.9 252.0 L827.4 252.0 L827.9 252.1 L828.4 252.1 L828.9 252.2 L829.4 252.2 L829.9 252.2 L830.4 252.2 L830.9 252.3 L831.4 252.3 L831.9 252.3 L832.4 252.3 L832.9 252.3 L833.4 252.4 L833.9 252.4 L834.4 252.4 L834.9 252.4 L835.4 252.4 L835.9 252.4 L836.4 252.4 L836.9 252.4 L837.4 252.4 L837.9 252.4 L838.4 252.4 L838.9 252.4 L839.4 252.4 L839.9 252.4 L840.4 252.4 L840.9 252.4 L841.4 252.4 L841.9 252.4 L842.4 252.4 L842.9 252.4 L843.4 252.4 L843.9 252.4 L844.4 252.4 L844.9 252.4 L845.4 252.3 L845.9 252.3 L846.4 252.3 L846.9 252.3 L847.4 252.3 L847.5 252.3" fill="none" stroke="#000" stroke-width="3" stroke-linejoin="round" stroke-linecap="round"/><path d="M200.5 559.7 L201.0 559.5 L201.5 559.2 L202.0 559.0 L202.5 558.8 L203.0 558.6 L203.5 558.4 L204.0 558.2 L204.5 557.9 L205.0 557.7 L205.5 557.5 L206.0 557.3 L206.5 557.1 L207.0 556.8 L207.5 556.6 L208.0 556.4 L208.5 556.2 L209.0 556.0 L209.5 555.7 L210.0 555.5 L210.5 555.3 L211.0 555.1 L211.5 554.8 L212.0 554.6 L212.5 554.4 L213.0 554.1 L213.5 553.9 L214.0 553.7 L214.5 553.4 L215.0 553.2 L215.5 553.0 L216.0 552.7 L216.5 552.5 L217.0 552.3 L217.5 552.0 L218.0 551.8 L218.5 551.6 L219.0 551.3 L219.5 551.1 L220.0 550.9 L220.5 550.6 L221.0 550.4 L221.5 550.1 L222.0 549.9 L222.5 549.7 L223.0 549.4 L223.5 549.2 L224.0 548.9 L224.5 548.7 L225.0 548.5 L225.5 548.2 L226.0 548.0 L226.5 547.7 L227.0 547.5 L227.5 547.2 L228.0 547.0 L228.5 546.7 L229.0 546.5 L229.5 546.2 L230.0 546.0 L230.5 545.7 L231.0 545.5 L231.5 545.2 L232.0 545.0 L232.5 544.7 L233.0 544.5 L233.5 544.2 L234.0 544.0 L234.5 543.7 L235.0 543.5 L235.5 543.2 L236.0 543.0 L236.5 542.7 L237.0 542.5 L237.5 542.2 L238.0 541.9 L238.5 541.7 L239.0 541.4 L239.5 541.2 L240.0 540.9 L240.5 540.7 L241.0 540.4 L241.5 540.1 L242.0 539.9 L242.5 539.6 L243.0 539.4 L243.5 539.1 L244.0 538.8 L244.5 538.6 L245.0 538.3 L245.5 538.0 L246.0 537.8 L246.5 537.5 L247.0 537.3 L247.5 537.0 L248.0 536.7 L248.5 536.5 L249.0 536.2 L249.5 535.9 L250.0 535.7 L250.5 535.4 L251.0 535.1 L251.5 534.9 L252.0 534.6 L252.5 534.3 L253.0 534.1 L253.5 533.8 L254.0 533.5 L254.5 533.2 L255.0 533.0 L255.5 532.7 L256.0 532.4 L256.5 532.2 L257.0 531.9 L257.5 531.6 L258.0 531.4 L258.5 531.1 L259.0 530.8 L259.5 530.5 L260.0 530.3 L260.5 530.0 L261.0 529.7 L261.5 529.4 L262.0 529.2 L262.5 528.9 L263.0 528.6 L263.5 528.3 L264.0 528.1 L264.5 527.8 L265.0 527.5 L265.5 527.2 L266.0 527.0 L266.5 526.7 L267.0 526.4 L267.5 526.1 L268.0 525.8 L268.5 525.6 L269.0 525.3 L269.5 525.0 L270.0 524.7 L270.5 524.4 L271.0 524.2 L271.5 523.9 L272.0 523.6 L272.5 523.3 L273.0 523.0 L273.5 522.8 L274.0 522.5 L274.5 522.2 L275.0 521.9 L275.5 521.6 L276.0 521.3 L276.5 521.1 L277.0 520.8 L277.5 520.5 L278.0 520.2 L278.5 519.9 L279.0 519.6 L279.5 519.4 L280.0 519.1 L280.5 518.8 L281.0 518.5 L281.5 518.2 L282.0 517.9 L282.5 517.7 L283.0 517.4 L283.5 517.1 L284.0 516.8 L284.5 516.5 L285.0 516.2 L285.5 515.9 L286.0 515.6 L286.5 515.4 L287.0 515.1 L287.5 514.8 L288.0 514.5 L288.5 514.2 L289.0 513.9 L289.5 513.6 L290.0 513.3 L290.5 513.1 L291.0 512.8 L291.5 512.5 L292.0 512.2 L292.5 511.9 L293.0 511.6 L293.5 511.3 L294.0 511.0 L294.5 510.7 L295.0 510.4 L295.5 510.2 L296.0 509.9 L296.5 509.6 L297.0 509.3 L297.5 509.0 L298.0 508.7 L298.5 508.4 L299.0 508.1 L299.5 507.8 L300.0 507.5 L300.5 507.2 L301.0 506.9 L301.5 506.7 L302.0 506.4 L302.5 506.1 L303.0 505.8 L303.5 505.5 L304.0 505.2 L304.5 504.9 L305.0 504.6 L305.5 504.3 L306.0 504.0 L306.5 503.7 L307.0 503.4 L307.5 503.1 L308.0 502.8 L308.5 502.5 L309.0 502.2 L309.5 501.9 L310.0 501.7 L310.5 501.4 L311.0 501.1 L311.5 500.8 L312.0 500.5 L312.5 500.2 L313.0 499.9 L313.5 499.6 L314.0 499.3 L314.5 499.0 L315.0 498.7 L315.5 498.4 L316.0 498.1 L316.5 497.8 L317.0 497.5 L317.5 497.2 L318.0 496.9 L318.5 496.6 L319.0 496.3 L319.5 496.0 L320.0 495.7 L320.5 495.4 L321.0 495.1 L321.5 494.8 L322.0 494.5 L322.5 494.2 L323.0 493.9 L323.5 493.6 L324.0 493.3 L324.5 493.0 L325.0 492.7 L325.5 492.4 L326.0 492.1 L326.5 491.8 L327.0 491.5 L327.5 491.2 L328.0 490.9 L328.5 490.6 L329.0 490.3 L329.5 490.0 L330.0 489.7 L330.5 489.4 L331.0 489.1 L331.5 488.8 L332.0 488.5 L332.5 488.2 L333.0 487.9 L333.5 487.6 L334.0 487.3 L334.5 487.0 L335.0 486.7 L335.5 486.4 L336.0 486.1 L336.5 485.8 L337.0 485.5 L337.5 485.2 L338.0 484.9 L338.5 484.6 L339.0 484.3 L339.5 484.0 L340.0 483.7 L340.5 483.4 L341.0 483.1 L341.5 482.8 L342.0 482.5 L342.5 482.2 L343.0 481.9 L343.5 481.6 L344.0 481.3 L344.5 481.0 L345.0 480.7 L345.5 480.4 L346.0 480.1 L346.5 479.8 L347.0 479.5 L347.5 479.2 L348.0 478.9 L348.5 478.6 L349.0 478.3 L349.5 478.0 L350.0 477.7 L350.5 477.4 L351.0 477.1 L351.5 476.8 L352.0 476.5 L352.5 476.2 L353.0 475.9 L353.5 475.6 L354.0 475.3 L354.5 475.0 L355.0 474.7 L355.5 474.4 L356.0 474.1 L356.5 473.8 L357.0 473.5 L357.5 473.2 L358.0 472.9 L358.5 472.5 L359.0 472.2 L359.5 471.9 L360.0 471.6 L360.5 471.3 L361.0 471.0 L361.5 470.7 L362.0 470.4 L362.5 470.1 L363.0 469.8 L363.5 469.5 L364.0 469.2 L364.5 468.9 L365.0 468.6 L365.5 468.3 L366.0 468.0 L366.5 467.7 L367.0 467.4 L367.5 467.1 L368.0 466.8 L368.5 466.5 L369.0 466.2 L369.5 465.9 L370.0 465.6 L370.5 465.3 L371.0 464.9 L371.5 464.6 L372.0 464.3 L372.5 464.0 L373.0 463.7 L373.5 463.4 L374.0 463.1 L374.5 462.8 L375.0 462.5 L375.5 462.2 L376.0 461.9 L376.5 461.6 L377.0 461.3 L377.5 461.0 L378.0 460.7 L378.5 460.4 L379.0 460.1 L379.5 459.8 L380.0 459.5 L380.5 459.2 L381.0 458.9 L381.5 458.5 L382.0 458.2 L382.5 457.9 L383.0 457.6 L383.5 457.3 L384.0 457.0 L384.5 456.7 L385.0 456.4 L385.5 456.1 L386.0 455.8 L386.5 455.5 L387.0 455.2 L387.5 454.9 L388.0 454.6 L388.5 454.3 L389.0 454.0 L389.5 453.7 L390.0 453.4 L390.5 453.0 L391.0 452.7 L391.5 452.4 L392.0 452.1 L392.5 451.8 L393.0 451.5 L393.5 451.2 L394.0 450.9 L394.5 450.6 L395.0 450.3 L395.5 450.0 L396.0 449.7 L396.5 449.4 L397.0 449.1 L397.5 448.8 L398.0 448.5 L398.5 448.2 L399.0 447.8 L399.5 447.5 L400.0 447.2 L400.5 446.9 L401.0 446.6 L401.5 446.3 L402.0 446.0 L402.5 445.7 L403.0 445.4 L403.5 445.1 L404.0 444.8 L404.5 444.5 L405.0 444.2 L405.5 443.9 L406.0 443.6 L406.5 443.2 L407.0 442.9 L407.5 442.6 L408.0 442.3 L408.5 442.0 L409.0 441.7 L409.5 441.4 L410.0 441.1 L410.5 440.8 L411.0 440.5 L411.5 440.2 L412.0 439.9 L412.5 439.6 L413.0 439.3 L413.5 439.0 L414.0 438.6 L414.5 438.3 L415.0 438.0 L415.5 437.7 L416.0 437.4 L416.5 437.1 L417.0 436.8 L417.5 436.5 L418.0 436.2 L418.5 435.9 L419.0 435.6 L419.5 435.3 L420.0 435.0 L420.5 434.7 L421.0 434.4 L421.5 434.0 L422.0 433.7 L422.5 433.4 L423.0 433.1 L423.5 432.8 L424.0 432.5 L424.5 432.2 L425.0 431.9 L425.5 431.6 L426.0 431.3 L426.5 431.0 L427.0 430.7 L427.5 430.4 L428.0 430.1 L428.5 429.7 L429.0 429.4 L429.5 429.1 L430.0 428.8 L430.5 428.5 L431.0 428.2 L431.5 427.9 L432.0 427.6 L432.5 427.3 L433.0 427.0 L433.5 426.7 L434.0 426.4 L434.5 426.1 L435.0 425.7 L435.5 425.4 L436.0 425.1 L436.5 424.8 L437.0 424.5 L437.5 424.2 L438.0 423.9 L438.5 423.6 L439.0 423.3 L439.5 423.0 L440.0 422.7 L440.5 422.4 L441.0 422.1 L441.5 421.8 L442.0 421.4 L442.5 421.1 L443.0 420.8 L443.5 420.5 L444.0 420.2 L444.5 419.9 L445.0 419.6 L445.5 419.3 L446.0 419.0 L446.5 418.7 L447.0 418.4 L447.5 418.1 L448.0 417.8 L448.5 417.4 L449.0 417.1 L449.5 416.8 L450.0 416.5 L450.5 416.2 L451.0 415.9 L451.5 415.6 L452.0 415.3 L452.5 415.0 L453.0 414.7 L453.5 414.4 L454.0 414.1 L454.5 413.8 L455.0 413.4 L455.5 413.1 L456.0 412.8 L456.5 412.5 L457.0 412.2 L457.5 411.9 L458.0 411.6 L458.5 411.3 L459.0 411.0 L459.5 410.7 L460.0 410.4 L460.5 410.1 L461.0 409.7 L461.5 409.4 L462.0 409.1 L462.5 408.8 L463.0 408.5 L463.5 408.2 L464.0 407.9 L464.5 407.6 L465.0 407.3 L465.5 407.0 L466.0 406.7 L466.5 406.4 L467.0 406.1 L467.5 405.7 L468.0 405.4 L468.5 405.1 L469.0 404.8 L469.5 404.5 L470.0 404.2 L470.5 403.9 L471.0 403.6 L471.5 403.3 L472.0 403.0 L472.5 402.7 L473.0 402.4 L473.5 402.0 L474.0 401.7 L474.5 401.4 L475.0 401.1 L475.5 400.8 L476.0 400.5 L476.5 400.2 L477.0 399.9 L477.5 399.6 L478.0 399.3 L478.5 399.0 L479.0 398.7 L479.5 398.3 L480.0 398.0 L480.5 397.7 L481.0 397.4 L481.5 397.1 L482.0 396.8 L482.5 396.5 L483.0 396.2 L483.5 395.9 L484.0 395.6 L484.5 395.3 L485.0 395.0 L485.5 394.6 L486.0 394.3 L486.5 394.0 L487.0 393.7 L487.5 393.4 L488.0 393.1 L488.5 392.8 L489.0 392.5 L489.5 392.2 L490.0 391.9 L490.5 391.6 L491.0 391.2 L491.5 390.9 L492.0 390.6 L492.5 390.3 L493.0 390.0 L493.5 389.7 L494.0 389.4 L494.5 389.1 L495.0 388.8 L495.5 388.5 L496.0 388.2 L496.5 387.9 L497.0 387.5 L497.5 387.2 L498.0 386.9 L498.5 386.6 L499.0 386.3 L499.5 386.0 L500.0 385.7 L500.5 385.4 L501.0 385.1 L501.5 384.8 L502.0 384.5 L502.5 384.1 L503.0 383.8 L503.5 383.5 L504.0 383.2 L504.5 382.9 L505.0 382.6 L505.5 382.3 L506.0 382.0 L506.5 381.7 L507.0 381.4 L507.5 381.1 L508.0 380.7 L508.5 380.4 L509.0 380.1 L509.5 379.8 L510.0 379.5 L510.5 379.2 L511.0 378.9 L511.5 378.6 L512.0 378.3 L512.5 378.0 L513.0 377.7 L513.5 377.3 L514.0 377.0 L514.5 376.7 L515.0 376.4 L515.5 376.1 L516.0 375.8 L516.5 375.5 L517.0 375.2 L517.5 374.9 L518.0 374.6 L518.5 374.3 L519.0 373.9 L519.5 373.6 L520.0 373.3 L520.5 373.0 L521.0 372.7 L521.5 372.4 L522.0 372.1 L522.5 371.8 L523.0 371.5 L523.5 371.2 L524.0 370.8 L524.5 370.5 L525.0 370.2 L525.5 369.9 L526.0 369.6 L526.5 369.3 L527.0 369.0 L527.5 368.7 L528.0 368.4 L528.5 368.1 L529.0 367.7 L529.5 367.4 L530.0 367.1 L530.5 366.8 L531.0 366.5 L531.5 366.2 L532.0 365.9 L532.5 365.6 L533.0 365.3 L533.5 365.0 L534.0 364.6 L534.5 364.3 L535.0 364.0 L535.5 363.7 L536.0 363.4 L536.5 363.1 L537.0 362.8 L537.5 362.5 L538.0 362.2 L538.5 361.9 L539.0 361.5 L539.5 361.2 L540.0 360.9 L540.5 360.6 L541.0 360.3 L541.5 360.0 L542.0 359.7 L542.5 359.4 L543.0 359.1 L543.5 358.7 L544.0 358.4 L544.5 358.1 L545.0 357.8 L545.5 357.5 L546.0 357.2 L546.5 356.9 L547.0 356.6 L547.5 356.3 L548.0 355.9 L548.5 355.6 L549.0 355.3 L549.5 355.0 L550.0 354.7 L550.5 354.4 L551.0 354.1 L551.5 353.8 L552.0 353.5 L552.5 353.1 L553.0 352.8 L553.5 352.5 L554.0 352.2 L554.5 351.9 L555.0 351.6 L555.5 351.3 L556.0 351.0 L556.5 350.7 L557.0 350.3 L557.5 350.0 L558.0 349.7 L558.5 349.4 L559.0 349.1 L559.5 348.8 L560.0 348.5 L560.5 348.2 L561.0 347.8 L561.5 347.5 L562.0 347.2 L562.5 346.9 L563.0 346.6 L563.5 346.3 L564.0 346.0 L564.5 345.7 L565.0 345.3 L565.5 345.0 L566.0 344.7 L566.5 344.4 L567.0 344.1 L567.5 343.8 L568.0 343.5 L568.5 343.2 L569.0 342.8 L569.5 342.5 L570.0 342.2 L570.5 341.9 L571.0 341.6 L571.5 341.3 L572.0 341.0 L572.5 340.6 L573.0 340.3 L573.5 340.0 L574.0 339.7 L574.5 339.4 L575.0 339.1 L575.5 338.8 L576.0 338.5 L576.5 338.1 L577.0 337.8 L577.5 337.5 L578.0 337.2 L578.5 336.9 L579.0 336.6 L579.5 336.3 L580.0 335.9 L580.5 335.6 L581.0 335.3 L581.5 335.0 L582.0 334.7 L582.5 334.4 L583.0 334.1 L583.5 333.7 L584.0 333.4 L584.5 333.1 L585.0 332.8 L585.5 332.5 L586.0 332.2 L586.5 331.8 L587.0 331.5 L587.5 331.2 L588.0 330.9 L588.5 330.6 L589.0 330.3 L589.5 329.9 L590.0 329.6 L590.5 329.3 L591.0 329.0 L591.5 328.7 L592.0 328.4 L592.5 328.1 L593.0 327.7 L593.5 327.4 L594.0 327.1 L594.5 326.8 L595.0 326.5 L595.5 326.1 L596.0 325.8 L596.5 325.5 L597.0 325.2 L597.5 324.9 L598.0 324.6 L598.5 324.2 L599.0 323.9 L599.5 323.6 L600.0 323.3 L600.5 323.0 L601.0 322.7 L601.5 322.3 L602.0 322.0 L602.5 321.7 L603.0 321.4 L603.5 321.1 L604.0 320.7 L604.5 320.4 L605.0 320.1 L605.5 319.8 L606.0 319.5 L606.5 319.1 L607.0 318.8 L607.5 318.5 L608.0 318.2 L608.5 317.9 L609.0 317.5 L609.5 317.2 L610.0 316.9 L610.5 316.6 L611.0 316.3 L611.5 315.9 L612.0 315.6 L612.5 315.3 L613.0 315.0 L613.5 314.6 L614.0 314.3 L614.5 314.0 L615.0 313.7 L615.5 313.4 L616.0 313.0 L616.5 312.7 L617.0 312.4 L617.5 312.1 L618.0 311.7 L618.5 311.4 L619.0 311.1 L619.5 310.8 L620.0 310.4 L620.5 310.1 L621.0 309.8 L621.5 309.5 L622.0 309.1 L622.5 308.8 L623.0 308.5 L623.5 308.2 L624.0 307.8 L624.5 307.5 L625.0 307.2 L625.5 306.9 L626.0 306.5 L626.5 306.2 L627.0 305.9 L627.5 305.6 L628.0 305.2 L628.5 304.9 L629.0 304.6 L629.5 304.2 L630.0 303.9 L630.5 303.6 L631.0 303.3 L631.5 302.9 L632.0 302.6 L632.5 302.3 L633.0 301.9 L633.5 301.6 L634.0 301.3 L634.5 301.0 L635.0 300.6 L635.5 300.3 L636.0 300.0 L636.5 299.6 L637.0 299.3 L637.5 299.0 L638.0 298.6 L638.5 298.3 L639.0 298.0 L639.5 297.6 L640.0 297.3 L640.5 297.0 L641.0 296.6 L641.5 296.3 L642.0 296.0 L642.5 295.6 L643.0 295.3 L643.5 295.0 L644.0 294.6 L644.5 294.3 L645.0 293.9 L645.5 293.6 L646.0 293.3 L646.5 292.9 L647.0 292.6 L647.5 292.3 L648.0 291.9 L648.5 291.6 L649.0 291.2 L649.5 290.9 L650.0 290.6 L650.5 290.2 L651.0 289.9 L651.5 289.5 L652.0 289.2 L652.5 288.8 L653.0 288.5 L653.5 288.2 L654.0 287.8 L654.5 287.5 L655.0 287.1 L655.5 286.8 L656.0 286.4 L656.5 286.1 L657.0 285.7 L657.5 285.4 L658.0 285.0 L658.5 284.7 L659.0 284.4 L659.5 284.0 L660.0 283.7 L660.5 283.3 L661.0 283.0 L661.5 282.6 L662.0 282.3 L662.5 281.9 L663.0 281.5 L663.5 281.2 L664.0 280.8 L664.5 280.5 L665.0 280.1 L665.5 279.8 L666.0 279.4 L666.5 279.1 L667.0 278.7 L667.5 278.4 L668.0 278.0 L668.5 277.6 L669.0 277.3 L669.5 276.9 L670.0 276.6 L670.5 276.2 L671.0 275.8 L671.5 275.5 L672.0 275.1 L672.5 274.7 L673.0 274.4 L673.5 274.0 L674.0 273.6 L674.5 273.3 L675.0 272.9 L675.5 272.5 L676.0 272.2 L676.5 271.8 L677.0 271.4 L677.5 271.1 L678.0 270.7 L678.5 270.3 L679.0 269.9 L679.5 269.6 L680.0 269.2 L680.5 268.8 L681.0 268.4 L681.5 268.1 L682.0 267.7 L682.5 267.3 L683.0 266.9 L683.5 266.6 L684.0 266.2 L684.5 265.8 L685.0 265.4 L685.5 265.0 L686.0 264.6 L686.5 264.2 L687.0 263.9 L687.5 263.5 L688.0 263.1 L688.5 262.7 L689.0 262.3 L689.5 261.9 L690.0 261.5 L690.5 261.1 L691.0 260.7 L691.5 260.3 L692.0 259.9 L692.5 259.5 L693.0 259.1 L693.5 258.7 L694.0 258.3 L694.5 257.9 L695.0 257.5 L695.5 257.1 L696.0 256.7 L696.5 256.3 L697.0 255.9 L697.5 255.5 L698.0 255.1 L698.5 254.6 L699.0 254.2 L699.5 253.8 L700.0 253.4 L700.5 253.0 L701.0 252.6 L701.5 252.1 L702.0 251.7 L702.5 251.3 L703.0 250.9 L703.5 250.4 L704.0 250.0 L704.5 249.6 L705.0 249.1 L705.5 248.7 L706.0 248.3 L706.5 247.8 L707.0 247.4 L707.5 247.0 L708.0 246.5 L708.5 246.1 L709.0 245.6 L709.5 245.2 L710.0 244.7 L710.5 244.3 L711.0 243.8 L711.5 243.4 L712.0 242.9 L712.5 242.4 L713.0 242.0 L713.5 241.5 L714.0 241.1 L714.5 240.6 L715.0 240.1 L715.5 239.6 L716.0 239.2 L716.5 238.7 L717.0 238.2 L717.5 237.7 L718.0 237.3 L718.5 236.8 L719.0 236.3 L719.5 235.8 L720.0 235.3 L720.5 234.8 L721.0 234.3 L721.5 233.8 L722.0 233.3 L722.5 232.8 L723.0 232.2 L723.5 231.7 L724.0 231.1 L724.5 230.6 L725.0 230.0 L725.5 229.5 L726.0 228.9 L726.5 228.4 L727.0 227.8 L727.5 227.3 L728.0 226.8 L728.5 226.2 L729.0 225.7 L729.5 225.1 L730.0 224.6 L730.5 224.0 L731.0 223.4 L731.5 222.9 L732.0 222.3 L732.5 221.7 L733.0 221.1 L733.5 220.5 L734.0 219.9 L734.5 219.3 L735.0 218.7 L735.5 218.1 L736.0 217.4 L736.5 216.8 L737.0 216.2 L737.5 215.5 L738.0 214.9 L738.5 214.2 L739.0 213.6 L739.5 213.0 L740.0 212.4 L740.5 211.7 L741.0 211.1 L741.5 210.5 L742.0 209.9 L742.5 209.3 L743.0 208.7 L743.5 208.1 L744.0 207.5 L744.5 207.0 L745.0 206.4 L745.5 205.8 L746.0 205.2 L746.5 204.6 L747.0 204.0 L747.5 203.4 L748.0 202.9 L748.5 202.3 L749.0 201.7 L749.5 201.2 L750.0 200.7 L750.5 200.2 L751.0 199.7 L751.5 199.2 L752.0 198.7 L752.5 198.2 L753.0 197.7 L753.5 197.2 L754.0 196.8 L754.5 196.3 L755.0 195.9 L755.5 195.5 L756.0 195.0 L756.5 194.6 L757.0 194.2 L757.5 193.8 L758.0 193.4 L758.5 193.1 L759.0 192.7 L759.5 192.3 L760.0 192.0 L760.5 191.6 L761.0 191.3 L761.5 190.9 L762.0 190.6 L762.5 190.3 L763.0 190.0 L763.5 189.7 L764.0 189.4 L764.5 189.2 L765.0 189.0 L765.5 188.8 L766.0 188.6 L766.5 188.4 L767.0 188.3 L767.5 188.2 L768.0 188.1 L768.5 188.1 L769.0 188.0 L769.5 188.0 L770.0 188.0 L770.5 187.9 L771.0 188.0 L771.5 188.0 L772.0 188.1 L772.5 188.1 L773.0 188.2 L773.5 188.3 L774.0 188.5 L774.5 188.7 L775.0 188.9 L775.5 189.2 L776.0 189.5 L776.5 189.8 L777.0 190.2 L777.5 190.6 L778.0 191.0 L778.5 191.4 L779.0 191.9 L779.5 192.3 L780.0 192.8 L780.5 193.2 L781.0 193.6 L781.5 194.1 L782.0 194.5 L782.5 194.9 L783.0 195.3 L783.5 195.7 L784.0 196.1 L784.5 196.6 L785.0 197.0 L785.5 197.5 L786.0 197.9 L786.5 198.4 L787.0 198.8 L787.5 199.3 L788.0 199.8 L788.5 200.2 L789.0 200.7 L789.5 201.2 L790.0 201.7 L790.5 202.2 L791.0 202.7 L791.5 203.2 L792.0 203.7 L792.5 204.2 L793.0 204.7 L793.5 205.2 L794.0 205.7 L794.5 206.2 L795.0 206.8 L795.5 207.3 L796.0 207.8 L796.5 208.4 L797.0 208.9 L797.5 209.4 L798.0 210.0 L798.5 210.5 L799.0 211.1 L799.5 211.7 L800.0 212.2 L800.5 212.8 L801.0 213.3 L801.5 213.9 L802.0 214.5 L802.5 215.1 L803.0 215.7 L803.5 216.3 L804.0 216.9 L804.5 217.5 L805.0 218.1 L805.5 218.7 L806.0 219.3 L806.5 219.9 L807.0 220.5 L807.5 221.2 L808.0 221.8 L808.5 222.4 L809.0 223.0 L809.5 223.6 L810.0 224.2 L810.5 224.8 L811.0 225.5 L811.5 226.1 L812.0 226.7 L812.5 227.3 L813.0 227.9 L813.5 228.5 L814.0 229.1 L814.5 229.7 L815.0 230.3 L815.5 231.0 L816.0 231.6 L816.5 232.2 L817.0 232.8 L817.5 233.4 L818.0 234.0 L818.5 234.6 L819.0 235.2 L819.5 235.8 L820.0 236.4 L820.5 236.9 L821.0 237.5 L821.5 238.0 L822.0 238.6 L822.5 239.1 L823.0 239.7 L823.5 240.2 L824.0 240.8 L824.5 241.3 L825.0 241.9 L825.5 242.4 L826.0 242.9 L826.5 243.4 L827.0 243.9 L827.5 244.4 L828.0 244.8 L828.5 245.3 L829.0 245.7 L829.5 246.1 L830.0 246.5 L830.5 246.9 L831.0 247.3 L831.5 247.7 L832.0 248.0 L832.5 248.4 L833.0 248.7 L833.5 249.1 L834.0 249.4 L834.5 249.7 L835.0 250.0 L835.5 250.3 L836.0 250.5 L836.5 250.8 L837.0 251.0 L837.5 251.2 L838.0 251.3 L838.5 251.5 L839.0 251.6 L839.5 251.7 L840.0 251.8 L840.5 251.8 L841.0 251.8 L841.5 251.9 L842.0 251.9 L842.5 251.9 L843.0 251.9 L843.5 251.9 L844.0 251.9 L844.5 251.9 L845.0 251.9 L845.5 251.8 L846.0 251.8 L846.5 251.8 L847.0 251.7 L847.5 251.7" fill="none" stroke="#000" stroke-width="3" stroke-linejoin="round" stroke-linecap="round"/><path d="M145.4 438.4 L145.9 438.4 L146.4 438.4 L146.9 438.4 L147.4 438.4 L147.9 438.4 L148.4 438.4 L148.9 438.4 L149.4 438.4 L149.9 438.4 L150.4 438.4 L150.9 438.4 L151.4 438.4 L151.9 438.4 L152.4 438.4 L152.9 438.4 L153.4 438.4 L153.9 438.4 L154.4 438.4 L154.9 438.4 L155.4 438.4 L155.9 438.4 L156.4 438.4 L156.9 438.4 L157.4 438.4 L157.9 438.4 L158.4 438.4 L158.9 438.4 L159.4 438.4 L159.9 438.4 L160.4 438.4 L160.9 438.4 L161.4 438.4 L161.9 438.4 L162.4 438.4 L162.9 438.3 L163.4 438.3 L163.9 438.3 L164.4 438.3 L164.9 438.3 L165.4 438.3 L165.9 438.3 L166.4 438.3 L166.9 438.3 L167.4 438.3 L167.9 438.3 L168.4 438.3 L168.9 438.3 L169.4 438.3 L169.9 438.3 L170.4 438.3 L170.9 438.3 L171.4 438.3 L171.9 438.3 L172.4 438.3 L172.9 438.3 L173.4 438.3 L173.9 438.3 L174.4 438.3 L174.9 438.3 L175.4 438.3 L175.9 438.3 L176.4 438.3 L176.9 438.3 L177.4 438.3 L177.9 438.3 L178.4 438.3 L178.9 438.3 L179.4 438.3 L179.9 438.3 L180.4 438.3 L180.9 438.3 L181.4 438.3 L181.9 438.3 L182.4 438.3 L182.9 438.3 L183.4 438.3 L183.9 438.3 L184.4 438.3 L184.9 438.3 L185.4 438.3 L185.9 438.3 L186.4 438.3 L186.9 438.3 L187.4 438.3 L187.9 438.3 L188.4 438.3 L188.9 438.3 L189.4 438.3 L189.9 438.3 L190.4 438.3 L190.9 438.3 L191.4 438.3 L191.9 438.3 L192.4 438.3 L192.9 438.3 L193.4 438.3 L193.9 438.3 L194.4 438.3 L194.9 438.3 L195.4 438.3 L195.9 438.3 L196.4 438.3 L196.9 438.3 L197.4 438.3 L197.9 438.3 L198.4 438.3 L198.9 438.3 L199.4 438.3 L199.9 438.3 L200.4 438.3 L200.9 438.3 L201.4 438.3 L201.9 438.3 L202.4 438.3 L202.9 438.3 L203.4 438.3 L203.9 438.3 L204.4 438.3 L204.9 438.3 L205.4 438.3 L205.9 438.3 L206.4 438.3 L206.9 438.3 L207.4 438.3 L207.9 438.3 L208.4 438.3 L208.9 438.3 L209.4 438.3 L209.9 438.3 L210.4 438.3 L210.9 438.3 L211.4 438.3 L211.9 438.3 L212.4 438.3 L212.9 438.3 L213.4 438.3 L213.9 438.3 L214.4 438.2 L214.9 438.2 L215.4 438.2 L215.9 438.2 L216.4 438.2 L216.9 438.2 L217.4 438.2 L217.9 438.2 L218.4 438.2 L218.9 438.2 L219.4 438.2 L219.9 438.2 L220.4 438.2 L220.9 438.2 L221.4 438.2 L221.9 438.2 L222.4 438.2 L222.9 438.2 L223.4 438.2 L223.9 438.2 L224.4 438.2 L224.9 438.2 L225.4 438.2 L225.9 438.2 L226.4 438.2 L226.9 438.2 L227.4 438.2 L227.9 438.2 L228.4 438.2 L228.9 438.2 L229.4 438.2 L229.9 438.2 L230.4 438.2 L230.9 438.2 L231.4 438.2 L231.9 438.2 L232.4 438.2 L232.9 438.2 L233.4 438.2 L233.9 438.2 L234.4 438.2 L234.9 438.2 L235.4 438.2 L235.9 438.2 L236.4 438.2 L236.9 438.2 L237.4 438.2 L237.9 438.2 L238.4 438.2 L238.9 438.2 L239.4 438.2 L239.9 438.2 L240.4 438.2 L240.9 438.1 L241.4 438.1 L241.9 438.1 L242.4 438.1 L242.9 438.1 L243.4 438.1 L243.9 438.1 L244.4 438.1 L244.9 438.1 L245.4 438.1 L245.9 438.1 L246.4 438.1 L246.9 438.1 L247.4 438.1 L247.9 438.1 L248.4 438.1 L248.9 438.1 L249.4 438.1 L249.9 438.1 L250.4 438.1 L250.9 438.1 L251.4 438.1 L251.9 438.1 L252.4 438.1 L252.9 438.1 L253.4 438.1 L253.9 438.1 L254.4 438.1 L254.9 438.1 L255.4 438.1 L255.9 438.1 L256.4 438.1 L256.9 438.1 L257.4 438.1 L257.9 438.1 L258.4 438.1 L258.9 438.0 L259.4 438.0 L259.9 438.0 L260.4 438.0 L260.9 438.0 L261.4 438.0 L261.9 438.0 L262.4 438.0 L262.9 438.0 L263.4 438.0 L263.9 438.0 L264.4 438.0 L264.9 438.0 L265.4 438.0 L265.9 438.0 L266.4 438.0 L266.9 438.0 L267.4 438.0 L267.9 438.0 L268.4 438.0 L268.9 438.0 L269.4 438.0 L269.9 438.0 L270.4 438.0 L270.9 438.0 L271.4 438.0 L271.9 438.0 L272.4 438.0 L272.9 437.9 L273.4 437.9 L273.9 437.9 L274.4 437.9 L274.9 437.9 L275.4 437.9 L275.9 437.9 L276.4 437.9 L276.9 437.9 L277.4 437.9 L277.9 437.9 L278.4 437.9 L278.9 437.9 L279.4 437.9 L279.9 437.9 L280.4 437.9 L280.9 437.9 L281.4 437.9 L281.9 437.9 L282.4 437.9 L282.9 437.9 L283.4 437.9 L283.9 437.8 L284.4 437.8 L284.9 437.8 L285.4 437.8 L285.9 437.8 L286.4 437.8 L286.9 437.8 L287.4 437.8 L287.9 437.8 L288.4 437.8 L288.9 437.8 L289.4 437.8 L289.9 437.8 L290.4 437.8 L290.9 437.8 L291.4 437.8 L291.9 437.8 L292.4 437.8 L292.9 437.7 L293.4 437.7 L293.9 437.7 L294.4 437.7 L294.9 437.7 L295.4 437.7 L295.9 437.7 L296.4 437.7 L296.9 437.7 L297.4 437.7 L297.9 437.7 L298.4 437.7 L298.9 437.7 L299.4 437.7 L299.9 437.7 L300.4 437.7 L300.9 437.6 L301.4 437.6 L301.9 437.6 L302.4 437.6 L302.9 437.6 L303.4 437.6 L303.9 437.6 L304.4 437.6 L304.9 437.6 L305.4 437.6 L305.9 437.6 L306.4 437.6 L306.9 437.6 L307.4 437.6 L307.9 437.5 L308.4 437.5 L308.9 437.5 L309.4 437.5 L309.9 437.5 L310.4 437.5 L310.9 437.5 L311.4 437.5 L311.9 437.5 L312.4 437.5 L312.9 437.5 L313.4 437.5 L313.9 437.4 L314.4 437.4 L314.9 437.4 L315.4 437.4 L315.9 437.4 L316.4 437.4 L316.9 437.4 L317.4 437.4 L317.9 437.4 L318.4 437.4 L318.9 437.4 L319.4 437.3 L319.9 437.3 L320.4 437.3 L320.9 437.3 L321.4 437.3 L321.9 437.3 L322.4 437.3 L322.9 437.3 L323.4 437.3 L323.9 437.3 L324.4 437.2 L324.9 437.2 L325.4 437.2 L325.9 437.2 L326.4 437.2 L326.9 437.2 L327.4 437.2 L327.9 437.2 L328.4 437.2 L328.9 437.2 L329.4 437.1 L329.9 437.1 L330.4 437.1 L330.9 437.1 L331.4 437.1 L331.9 437.1 L332.4 437.1 L332.9 437.1 L333.4 437.0 L333.9 437.0 L334.4 437.0 L334.9 437.0 L335.4 437.0 L335.9 437.0 L336.4 437.0 L336.9 437.0 L337.4 436.9 L337.9 436.9 L338.4 436.9 L338.9 436.9 L339.4 436.9 L339.9 436.9 L340.4 436.9 L340.9 436.9 L341.4 436.8 L341.9 436.8 L342.4 436.8 L342.9 436.8 L343.4 436.8 L343.9 436.8 L344.4 436.8 L344.9 436.7 L345.4 436.7 L345.9 436.7 L346.4 436.7 L346.9 436.7 L347.4 436.7 L347.9 436.7 L348.4 436.6 L348.9 436.6 L349.4 436.6 L349.9 436.6 L350.4 436.6 L350.9 436.6 L351.4 436.5 L351.9 436.5 L352.4 436.5 L352.9 436.5 L353.4 436.5 L353.9 436.5 L354.4 436.4 L354.9 436.4 L355.4 436.4 L355.9 436.4 L356.4 436.4 L356.9 436.4 L357.4 436.3 L357.9 436.3 L358.4 436.3 L358.9 436.3 L359.4 436.3 L359.9 436.2 L360.4 436.2 L360.9 436.2 L361.4 436.2 L361.9 436.2 L362.4 436.1 L362.9 436.1 L363.4 436.1 L363.9 436.1 L364.4 436.1 L364.9 436.0 L365.4 436.0 L365.9 436.0 L366.4 436.0 L366.9 436.0 L367.4 435.9 L367.9 435.9 L368.4 435.9 L368.9 435.9 L369.4 435.9 L369.9 435.8 L370.4 435.8 L370.9 435.8 L371.4 435.8 L371.9 435.7 L372.4 435.7 L372.9 435.7 L373.4 435.7 L373.9 435.6 L374.4 435.6 L374.9 435.6 L375.4 435.6 L375.9 435.5 L376.4 435.5 L376.9 435.5 L377.4 435.5 L377.9 435.4 L378.4 435.4 L378.9 435.4 L379.4 435.4 L379.9 435.3 L380.4 435.3 L380.9 435.3 L381.4 435.3 L381.9 435.2 L382.4 435.2 L382.9 435.2 L383.4 435.2 L383.9 435.1 L384.4 435.1 L384.9 435.1 L385.4 435.0 L385.9 435.0 L386.4 435.0 L386.9 435.0 L387.4 434.9 L387.9 434.9 L388.4 434.9 L388.9 434.8 L389.4 434.8 L389.9 434.8 L390.4 434.7 L390.9 434.7 L391.4 434.7 L391.9 434.6 L392.4 434.6 L392.9 434.6 L393.4 434.5 L393.9 434.5 L394.4 434.5 L394.9 434.4 L395.4 434.4 L395.9 434.4 L396.4 434.3 L396.9 434.3 L397.4 434.3 L397.9 434.2 L398.4 434.2 L398.9 434.2 L399.4 434.1 L399.9 434.1 L400.4 434.1 L400.9 434.0 L401.4 434.0 L401.9 433.9 L402.4 433.9 L402.9 433.9 L403.4 433.8 L403.9 433.8 L404.4 433.7 L404.9 433.7 L405.4 433.7 L405.9 433.6 L406.4 433.6 L406.9 433.5 L407.4 433.5 L407.9 433.5 L408.4 433.4 L408.9 433.4 L409.4 433.3 L409.9 433.3 L410.4 433.2 L410.9 433.2 L411.4 433.2 L411.9 433.1 L412.4 433.1 L412.9 433.0 L413.4 433.0 L413.9 432.9 L414.4 432.9 L414.9 432.8 L415.4 432.8 L415.9 432.7 L416.4 432.7 L416.9 432.6 L417.4 432.6 L417.9 432.6 L418.4 432.5 L418.9 432.5 L419.4 432.4 L419.9 432.4 L420.4 432.3 L420.9 432.3 L421.4 432.2 L421.9 432.1 L422.4 432.1 L422.9 432.0 L423.4 432.0 L423.9 431.9 L424.4 431.9 L424.9 431.8 L425.4 431.8 L425.9 431.7 L426.4 431.7 L426.9 431.6 L427.4 431.5 L427.9 431.5 L428.4 431.4 L428.9 431.4 L429.4 431.3 L429.9 431.3 L430.4 431.2 L430.9 431.1 L431.4 431.1 L431.9 431.0 L432.4 431.0 L432.9 430.9 L433.4 430.8 L433.9 430.8 L434.4 430.7 L434.9 430.6 L435.4 430.6 L435.9 430.5 L436.4 430.4 L436.9 430.4 L437.4 430.3 L437.9 430.2 L438.4 430.2 L438.9 430.1 L439.4 430.0 L439.9 430.0 L440.4 429.9 L440.9 429.8 L441.4 429.8 L441.9 429.7 L442.4 429.6 L442.9 429.6 L443.4 429.5 L443.9 429.4 L444.4 429.3 L444.9 429.3 L445.4 429.2 L445.9 429.1 L446.4 429.0 L446.9 429.0 L447.4 428.9 L447.9 428.8 L448.4 428.7 L448.9 428.7 L449.4 428.6 L449.9 428.5 L450.4 428.4 L450.9 428.3 L451.4 428.3 L451.9 428.2 L452.4 428.1 L452.9 428.0 L453.4 427.9 L453.9 427.8 L454.4 427.8 L454.9 427.7 L455.4 427.6 L455.9 427.5 L456.4 427.4 L456.9 427.3 L457.4 427.2 L457.9 427.1 L458.4 427.1 L458.9 427.0 L459.4 426.9 L459.9 426.8 L460.4 426.7 L460.9 426.6 L461.4 426.5 L461.9 426.4 L462.4 426.3 L462.9 426.2 L463.4 426.1 L463.9 426.0 L464.4 425.9 L464.9 425.8 L465.4 425.7 L465.9 425.6 L466.4 425.5 L466.9 425.4 L467.4 425.3 L467.9 425.2 L468.4 425.1 L468.9 425.0 L469.4 424.9 L469.9 424.8 L470.4 424.7 L470.9 424.6 L471.4 424.5 L471.9 424.4 L472.4 424.3 L472.9 424.2 L473.4 424.1 L473.9 423.9 L474.4 423.8 L474.9 423.7 L475.4 423.6 L475.9 423.5 L476.4 423.4 L476.9 423.3 L477.4 423.2 L477.9 423.0 L478.4 422.9 L478.9 422.8 L479.4 422.7 L479.9 422.6 L480.4 422.4 L480.9 422.3 L481.4 422.2 L481.9 422.1 L482.4 422.0 L482.9 421.8 L483.4 421.7 L483.9 421.6 L484.4 421.4 L484.9 421.3 L485.4 421.2 L485.9 421.1 L486.4 420.9 L486.9 420.8 L487.4 420.7 L487.9 420.5 L488.4 420.4 L488.9 420.3 L489.4 420.1 L489.9 420.0 L490.4 419.9 L490.9 419.7 L491.4 419.6 L491.9 419.5 L492.4 419.3 L492.9 419.2 L493.4 419.0 L493.9 418.9 L494.4 418.7 L494.9 418.6 L495.4 418.5 L495.9 418.3 L496.4 418.2 L496.9 418.0 L497.4 417.9 L497.9 417.7 L498.4 417.6 L498.9 417.4 L499.4 417.3 L499.9 417.1 L500.4 417.0 L500.9 416.8 L501.4 416.7 L501.9 416.5 L502.4 416.3 L502.9 416.2 L503.4 416.0 L503.9 415.9 L504.4 415.7 L504.9 415.5 L505.4 415.4 L505.9 415.2 L506.4 415.1 L506.9 414.9 L507.4 414.7 L507.9 414.6 L508.4 414.4 L508.9 414.2 L509.4 414.0 L509.9 413.9 L510.4 413.7 L510.9 413.5 L511.4 413.4 L511.9 413.2 L512.4 413.0 L512.9 412.8 L513.4 412.7 L513.9 412.5 L514.4 412.3 L514.9 412.1 L515.4 411.9 L515.9 411.8 L516.4 411.6 L516.9 411.4 L517.4 411.2 L517.9 411.0 L518.4 410.8 L518.9 410.7 L519.4 410.5 L519.9 410.3 L520.4 410.1 L520.9 409.9 L521.4 409.7 L521.9 409.5 L522.4 409.3 L522.9 409.1 L523.4 408.9 L523.9 408.7 L524.4 408.5 L524.9 408.3 L525.4 408.1 L525.9 407.9 L526.4 407.7 L526.9 407.5 L527.4 407.3 L527.9 407.1 L528.4 406.9 L528.9 406.7 L529.4 406.5 L529.9 406.3 L530.4 406.1 L530.9 405.9 L531.4 405.7 L531.9 405.5 L532.4 405.3 L532.9 405.0 L533.4 404.8 L533.9 404.6 L534.4 404.4 L534.9 404.2 L535.4 404.0 L535.9 403.7 L536.4 403.5 L536.9 403.3 L537.4 403.1 L537.9 402.9 L538.4 402.6 L538.9 402.4 L539.4 402.2 L539.9 402.0 L540.4 401.8 L540.9 401.5 L541.4 401.3 L541.9 401.1 L542.4 400.9 L542.9 400.6 L543.4 400.4 L543.9 400.2 L544.4 399.9 L544.9 399.7 L545.4 399.5 L545.9 399.2 L546.4 399.0 L546.9 398.8 L547.4 398.5 L547.9 398.3 L548.4 398.1 L548.9 397.8 L549.4 397.6 L549.9 397.4 L550.4 397.1 L550.9 396.9 L551.4 396.7 L551.9 396.4 L552.4 396.2 L552.9 395.9 L553.4 395.7 L553.9 395.4 L554.4 395.2 L554.9 395.0 L555.4 394.7 L555.9 394.5 L556.4 394.2 L556.9 394.0 L557.4 393.7 L557.9 393.5 L558.4 393.2 L558.9 393.0 L559.4 392.7 L559.9 392.5 L560.4 392.2 L560.9 392.0 L561.4 391.7 L561.9 391.5 L562.4 391.2 L562.9 391.0 L563.4 390.7 L563.9 390.5 L564.4 390.2 L564.9 389.9 L565.4 389.7 L565.9 389.4 L566.4 389.2 L566.9 388.9 L567.4 388.6 L567.9 388.4 L568.4 388.1 L568.9 387.9 L569.4 387.6 L569.9 387.3 L570.4 387.1 L570.9 386.8 L571.4 386.5 L571.9 386.3 L572.4 386.0 L572.9 385.7 L573.4 385.5 L573.9 385.2 L574.4 384.9 L574.9 384.7 L575.4 384.4 L575.9 384.1 L576.4 383.9 L576.9 383.6 L577.4 383.3 L577.9 383.0 L578.4 382.8 L578.9 382.5 L579.4 382.2 L579.9 381.9 L580.4 381.7 L580.9 381.4 L581.4 381.1 L581.9 380.8 L582.4 380.6 L582.9 380.3 L583.4 380.0 L583.9 379.7 L584.4 379.4 L584.9 379.2 L585.4 378.9 L585.9 378.6 L586.4 378.3 L586.9 378.0 L587.4 377.7 L587.9 377.5 L588.4 377.2 L588.9 376.9 L589.4 376.6 L589.9 376.3 L590.4 376.0 L590.9 375.7 L591.4 375.5 L591.9 375.2 L592.4 374.9 L592.9 374.6 L593.4 374.3 L593.9 374.0 L594.4 373.7 L594.9 373.4 L595.4 373.1 L595.9 372.8 L596.4 372.6 L596.9 372.3 L597.4 372.0 L597.9 371.7 L598.4 371.4 L598.9 371.1 L599.4 370.8 L599.9 370.5 L600.4 370.2 L600.9 369.9 L601.4 369.6 L601.9 369.3 L602.4 369.0 L602.9 368.7 L603.4 368.4 L603.9 368.1 L604.4 367.8 L604.9 367.5 L605.4 367.2 L605.9 366.9 L606.4 366.6 L606.9 366.3 L607.4 366.0 L607.9 365.7 L608.4 365.4 L608.9 365.1 L609.4 364.8 L609.9 364.5 L610.4 364.2 L610.9 363.9 L611.4 363.6 L611.9 363.3 L612.4 363.0 L612.9 362.7 L613.4 362.4 L613.9 362.1 L614.4 361.7 L614.9 361.4 L615.4 361.1 L615.9 360.8 L616.4 360.5 L616.9 360.2 L617.4 359.9 L617.9 359.6 L618.4 359.3 L618.9 359.0 L619.4 358.7 L619.9 358.4 L620.4 358.0 L620.9 357.7 L621.4 357.4 L621.9 357.1 L622.4 356.8 L622.9 356.5 L623.4 356.2 L623.9 355.9 L624.4 355.5 L624.9 355.2 L625.4 354.9 L625.9 354.6 L626.4 354.3 L626.9 354.0 L627.4 353.7 L627.9 353.3 L628.4 353.0 L628.9 352.7 L629.4 352.4 L629.9 352.1 L630.4 351.8 L630.9 351.4 L631.4 351.1 L631.9 350.8 L632.4 350.5 L632.9 350.2 L633.4 349.9 L633.9 349.5 L634.4 349.2 L634.9 348.9 L635.4 348.6 L635.9 348.3 L636.4 347.9 L636.9 347.6 L637.4 347.3 L637.9 347.0 L638.4 346.7 L638.9 346.3 L639.4 346.0 L639.9 345.7 L640.4 345.4 L640.9 345.1 L641.4 344.7 L641.9 344.4 L642.4 344.1 L642.9 343.8 L643.4 343.5 L643.9 343.1 L644.4 342.8 L644.9 342.5 L645.4 342.2 L645.9 341.8 L646.4 341.5 L646.9 341.2 L647.4 340.9 L647.9 340.6 L648.4 340.2 L648.9 339.9 L649.4 339.6 L649.9 339.3 L650.4 338.9 L650.9 338.6 L651.4 338.3 L651.9 338.0 L652.4 337.6 L652.9 337.3 L653.4 337.0 L653.9 336.7 L654.4 336.3 L654.9 336.0 L655.4 335.7 L655.9 335.4 L656.4 335.0 L656.9 334.7 L657.4 334.4 L657.9 334.1 L658.4 333.7 L658.9 333.4 L659.4 333.1 L659.9 332.8 L660.4 332.4 L660.9 332.1 L661.4 331.8 L661.9 331.4 L662.4 331.1 L662.9 330.8 L663.4 330.5 L663.9 330.1 L664.4 329.8 L664.9 329.5 L665.4 329.2 L665.9 328.8 L666.4 328.5 L666.9 328.2 L667.4 327.9 L667.9 327.5 L668.4 327.2 L668.9 326.9 L669.4 326.5 L669.9 326.2 L670.4 325.9 L670.9 325.6 L671.4 325.2 L671.9 324.9 L672.4 324.6 L672.9 324.2 L673.4 323.9 L673.9 323.6 L674.4 323.3 L674.9 322.9 L675.4 322.6 L675.9 322.3 L676.4 322.0 L676.9 321.6 L677.4 321.3 L677.9 321.0 L678.4 320.6 L678.9 320.3 L679.4 320.0 L679.9 319.7 L680.4 319.3 L680.9 319.0 L681.4 318.7 L681.9 318.3 L682.4 318.0 L682.9 317.7 L683.4 317.4 L683.9 317.0 L684.4 316.7 L684.9 316.4 L685.4 316.0 L685.9 315.7 L686.4 315.4 L686.9 315.1 L687.4 314.7 L687.9 314.4 L688.4 314.1 L688.9 313.8 L689.4 313.4 L689.9 313.1 L690.4 312.8 L690.9 312.4 L691.4 312.1 L691.9 311.8 L692.4 311.5 L692.9 311.1 L693.4 310.8 L693.9 310.5 L694.4 310.1 L694.9 309.8 L695.4 309.4 L695.9 309.1 L696.4 308.7 L696.9 308.4 L697.4 308.0 L697.9 307.6 L698.4 307.3 L698.9 306.9 L699.4 306.5 L699.9 306.1 L700.4 305.7 L700.9 305.3 L701.4 304.9 L701.9 304.4 L702.4 304.0 L702.9 303.6 L703.4 303.1 L703.9 302.6 L704.4 302.2 L704.9 301.7 L705.4 301.2 L705.9 300.7 L706.4 300.2 L706.9 299.7 L707.4 299.2 L707.9 298.7 L708.4 298.2 L708.9 297.6 L709.4 297.1 L709.9 296.6 L710.4 296.1 L710.9 295.6 L711.4 295.2 L711.9 294.7 L712.4 294.3 L712.9 293.8 L713.4 293.4 L713.9 292.9 L714.4 292.5 L714.9 292.0 L715.4 291.5 L715.9 291.1 L716.4 290.6 L716.9 290.2 L717.4 289.7 L717.9 289.3 L718.4 288.8 L718.9 288.3 L719.4 287.9 L719.9 287.4 L720.4 286.9 L720.9 286.5 L721.4 286.0 L721.9 285.5 L722.4 285.1 L722.9 284.6 L723.4 284.1 L723.9 283.6 L724.4 283.1 L724.9 282.7 L725.4 282.2 L725.9 281.7 L726.4 281.2 L726.9 280.7 L727.4 280.2 L727.9 279.7 L728.4 279.2 L728.9 278.7 L729.4 278.2 L729.9 277.7 L730.4 277.2 L730.9 276.7 L731.4 276.2 L731.9 275.7 L732.4 275.2 L732.9 274.7 L733.4 274.2 L733.9 273.7 L734.4 273.2 L734.9 272.7 L735.4 272.2 L735.9 271.6 L736.4 271.1 L736.9 270.6 L737.4 270.1 L737.9 269.5 L738.4 269.0 L738.9 268.4 L739.4 267.9 L739.9 267.3 L740.4 266.7 L740.9 266.1 L741.4 265.6 L741.9 265.0 L742.4 264.3 L742.9 263.7 L743.4 263.1 L743.9 262.4 L744.4 261.8 L744.9 261.1 L745.4 260.5 L745.9 259.8 L746.4 259.1 L746.9 258.4 L747.4 257.7 L747.9 256.9 L748.4 256.2 L748.9 255.5 L749.4 254.7 L749.9 254.0 L750.4 253.2 L750.9 252.4 L751.4 251.6 L751.9 250.8 L752.4 250.0 L752.9 249.2 L753.4 248.4 L753.9 247.6 L754.4 246.7 L754.9 245.9 L755.4 245.0 L755.9 244.1 L756.4 243.3 L756.9 242.4 L757.4 241.4 L757.9 240.5 L758.4 239.5 L758.9 238.6 L759.4 237.6 L759.9 236.6 L760.4 235.5 L760.9 234.5 L761.4 233.5 L761.9 232.4 L762.4 231.4 L762.9 230.3 L763.4 229.3 L763.9 228.3 L764.4 227.2 L764.9 226.2 L765.4 225.2 L765.9 224.2 L766.4 223.2 L766.9 222.2 L767.4 221.1 L767.9 220.0 L768.4 219.0 L768.9 217.9 L769.4 216.8 L769.9 215.6 L770.4 214.6 L770.9 213.5 L771.4 212.4 L771.9 211.4 L772.4 210.3 L772.9 209.3 L773.4 208.4 L773.9 207.5 L774.4 206.6 L774.9 205.8 L775.4 205.0 L775.9 204.3 L776.4 203.6 L776.9 202.9 L777.4 202.3 L777.9 201.6 L778.4 201.0 L778.9 200.4 L779.4 199.8 L779.9 199.2 L780.4 198.7 L780.9 198.1 L781.4 197.6 L781.9 197.1 L782.4 196.7 L782.9 196.3 L783.4 195.9 L783.9 195.6 L784.4 195.4 L784.9 195.2 L785.4 195.0 L785.9 195.0 L786.4 195.1 L786.9 195.2 L787.4 195.5 L787.9 195.8 L788.4 196.3 L788.9 196.8 L789.4 197.4 L789.9 198.0 L790.4 198.8 L790.9 199.5 L791.4 200.3 L791.9 201.1 L792.4 202.0 L792.9 202.8 L793.4 203.7 L793.9 204.7 L794.4 205.8 L794.9 207.0 L795.4 208.3 L795.9 209.7 L796.4 211.1 L796.9 212.7 L797.4 214.2 L797.9 215.8 L798.4 217.3 L798.9 218.8 L799.4 220.1 L799.9 221.5 L800.4 222.7 L800.9 224.0 L801.4 225.2 L801.9 226.4 L802.4 227.6 L802.9 228.8 L803.4 230.0 L803.9 231.2 L804.4 232.4 L804.9 233.6 L805.4 234.8 L805.9 236.0 L806.4 237.2 L806.9 238.4 L807.4 239.6 L807.9 240.9 L808.4 242.1 L808.9 243.4 L809.4 244.6 L809.9 245.9 L810.4 247.3 L810.9 248.6 L811.4 249.9 L811.9 251.3 L812.4 252.6 L812.9 253.9 L813.4 255.2 L813.9 256.5 L814.4 257.8 L814.9 259.0 L815.4 260.3 L815.9 261.4 L816.4 262.6 L816.9 263.7 L817.4 264.9 L817.9 265.9 L818.4 267.0 L818.9 268.1 L819.4 269.1 L819.9 270.1 L820.4 271.1 L820.9 272.1 L821.4 273.1 L821.9 274.1 L822.4 275.1 L822.9 276.1 L823.4 277.1 L823.9 278.1 L824.4 279.0 L824.9 280.0 L825.4 281.0 L825.9 281.9 L826.4 282.9 L826.9 283.9 L827.4 284.9 L827.9 285.9 L828.4 286.9 L828.9 287.8 L829.4 288.8 L829.9 289.8 L830.4 290.8 L830.9 291.7 L831.4 292.7 L831.9 293.7 L832.4 294.6 L832.9 295.6 L833.4 296.6 L833.9 297.5 L834.4 298.5 L834.9 299.5 L835.4 300.4 L835.9 301.4 L836.4 302.3 L836.9 303.3 L837.4 304.3 L837.9 305.2 L838.4 306.2 L838.9 307.1 L839.4 308.1 L839.9 309.0 L840.4 310.0 L840.9 311.0 L841.4 311.9 L841.9 312.9 L842.4 313.8 L842.9 314.8 L843.4 315.7 L843.9 316.7 L844.4 317.6 L844.9 318.6 L845.4 319.5 L845.9 320.5 L846.4 321.4 L846.9 322.4 L847.4 323.3 L847.5 323.5" fill="none" stroke="#000" stroke-width="3.3" stroke-dasharray="10.3 12.5" stroke-linecap="round" stroke-linejoin="round"/><path d="M145.4 448.8 L145.9 448.8 L146.4 448.8 L146.9 448.8 L147.4 448.8 L147.9 448.8 L148.4 448.8 L148.9 448.8 L149.4 448.8 L149.9 448.8 L150.4 448.8 L150.9 448.8 L151.4 448.8 L151.9 448.8 L152.4 448.8 L152.9 448.8 L153.4 448.8 L153.9 448.8 L154.4 448.8 L154.9 448.8 L155.4 448.8 L155.9 448.8 L156.4 448.8 L156.9 448.8 L157.4 448.8 L157.9 448.8 L158.4 448.8 L158.9 448.8 L159.4 448.8 L159.9 448.8 L160.4 448.8 L160.9 448.8 L161.4 448.8 L161.9 448.8 L162.4 448.8 L162.9 448.8 L163.4 448.8 L163.9 448.8 L164.4 448.8 L164.9 448.8 L165.4 448.8 L165.9 448.8 L166.4 448.8 L166.9 448.8 L167.4 448.8 L167.9 448.8 L168.4 448.8 L168.9 448.8 L169.4 448.8 L169.9 448.8 L170.4 448.8 L170.9 448.8 L171.4 448.8 L171.9 448.8 L172.4 448.8 L172.9 448.8 L173.4 448.8 L173.9 448.8 L174.4 448.8 L174.9 448.8 L175.4 448.8 L175.9 448.8 L176.4 448.8 L176.9 448.8 L177.4 448.8 L177.9 448.8 L178.4 448.8 L178.9 448.8 L179.4 448.8 L179.9 448.8 L180.4 448.8 L180.9 448.8 L181.4 448.8 L181.9 448.8 L182.4 448.8 L182.9 448.8 L183.4 448.8 L183.9 448.8 L184.4 448.8 L184.9 448.8 L185.4 448.8 L185.9 448.8 L186.4 448.8 L186.9 448.8 L187.4 448.8 L187.9 448.8 L188.4 448.8 L188.9 448.8 L189.4 448.8 L189.9 448.8 L190.4 448.8 L190.9 448.8 L191.4 448.8 L191.9 448.8 L192.4 448.8 L192.9 448.8 L193.4 448.8 L193.9 448.8 L194.4 448.8 L194.9 448.8 L195.4 448.8 L195.9 448.8 L196.4 448.8 L196.9 448.8 L197.4 448.8 L197.9 448.8 L198.4 448.8 L198.9 448.8 L199.4 448.8 L199.9 448.8 L200.4 448.8 L200.9 448.8 L201.4 448.8 L201.9 448.8 L202.4 448.8 L202.9 448.8 L203.4 448.8 L203.9 448.8 L204.4 448.8 L204.9 448.8 L205.4 448.8 L205.9 448.8 L206.4 448.8 L206.9 448.8 L207.4 448.8 L207.9 448.8 L208.4 448.8 L208.9 448.8 L209.4 448.8 L209.9 448.8 L210.4 448.8 L210.9 448.8 L211.4 448.8 L211.9 448.8 L212.4 448.8 L212.9 448.8 L213.4 448.8 L213.9 448.8 L214.4 448.8 L214.9 448.8 L215.4 448.8 L215.9 448.8 L216.4 448.8 L216.9 448.8 L217.4 448.8 L217.9 448.8 L218.4 448.8 L218.9 448.8 L219.4 448.8 L219.9 448.8 L220.4 448.8 L220.9 448.8 L221.4 448.8 L221.9 448.8 L222.4 448.8 L222.9 448.8 L223.4 448.8 L223.9 448.8 L224.4 448.8 L224.9 448.8 L225.4 448.8 L225.9 448.8 L226.4 448.8 L226.9 448.8 L227.4 448.8 L227.9 448.8 L228.4 448.8 L228.9 448.8 L229.4 448.8 L229.9 448.8 L230.4 448.8 L230.9 448.8 L231.4 448.8 L231.9 448.8 L232.4 448.8 L232.9 448.8 L233.4 448.8 L233.9 448.8 L234.4 448.8 L234.9 448.8 L235.4 448.8 L235.9 448.8 L236.4 448.8 L236.9 448.8 L237.4 448.8 L237.9 448.8 L238.4 448.8 L238.9 448.8 L239.4 448.8 L239.9 448.8 L240.4 448.8 L240.9 448.8 L241.4 448.8 L241.9 448.8 L242.4 448.8 L242.9 448.8 L243.4 448.8 L243.9 448.8 L244.4 448.8 L244.9 448.8 L245.4 448.8 L245.9 448.8 L246.4 448.8 L246.9 448.8 L247.4 448.8 L247.9 448.8 L248.4 448.8 L248.9 448.8 L249.4 448.8 L249.9 448.8 L250.4 448.8 L250.9 448.8 L251.4 448.8 L251.9 448.8 L252.4 448.8 L252.9 448.8 L253.4 448.8 L253.9 448.8 L254.4 448.8 L254.9 448.8 L255.4 448.8 L255.9 448.8 L256.4 448.8 L256.9 448.8 L257.4 448.8 L257.9 448.8 L258.4 448.8 L258.9 448.8 L259.4 448.8 L259.9 448.8 L260.4 448.7 L260.9 448.7 L261.4 448.7 L261.9 448.7 L262.4 448.7 L262.9 448.7 L263.4 448.7 L263.9 448.7 L264.4 448.7 L264.9 448.7 L265.4 448.7 L265.9 448.7 L266.4 448.7 L266.9 448.7 L267.4 448.7 L267.9 448.7 L268.4 448.7 L268.9 448.7 L269.4 448.7 L269.9 448.7 L270.4 448.7 L270.9 448.7 L271.4 448.7 L271.9 448.7 L272.4 448.7 L272.9 448.7 L273.4 448.7 L273.9 448.7 L274.4 448.7 L274.9 448.7 L275.4 448.7 L275.9 448.7 L276.4 448.7 L276.9 448.7 L277.4 448.7 L277.9 448.7 L278.4 448.7 L278.9 448.7 L279.4 448.7 L279.9 448.7 L280.4 448.7 L280.9 448.7 L281.4 448.7 L281.9 448.7 L282.4 448.7 L282.9 448.7 L283.4 448.7 L283.9 448.7 L284.4 448.7 L284.9 448.7 L285.4 448.7 L285.9 448.7 L286.4 448.7 L286.9 448.7 L287.4 448.7 L287.9 448.7 L288.4 448.6 L288.9 448.6 L289.4 448.6 L289.9 448.6 L290.4 448.6 L290.9 448.6 L291.4 448.6 L291.9 448.6 L292.4 448.6 L292.9 448.6 L293.4 448.6 L293.9 448.6 L294.4 448.6 L294.9 448.6 L295.4 448.6 L295.9 448.6 L296.4 448.6 L296.9 448.6 L297.4 448.6 L297.9 448.6 L298.4 448.6 L298.9 448.6 L299.4 448.6 L299.9 448.6 L300.4 448.6 L300.9 448.6 L301.4 448.6 L301.9 448.6 L302.4 448.6 L302.9 448.6 L303.4 448.6 L303.9 448.6 L304.4 448.5 L304.9 448.5 L305.4 448.5 L305.9 448.5 L306.4 448.5 L306.9 448.5 L307.4 448.5 L307.9 448.5 L308.4 448.5 L308.9 448.5 L309.4 448.5 L309.9 448.5 L310.4 448.5 L310.9 448.5 L311.4 448.5 L311.9 448.5 L312.4 448.5 L312.9 448.5 L313.4 448.5 L313.9 448.5 L314.4 448.5 L314.9 448.5 L315.4 448.5 L315.9 448.5 L316.4 448.4 L316.9 448.4 L317.4 448.4 L317.9 448.4 L318.4 448.4 L318.9 448.4 L319.4 448.4 L319.9 448.4 L320.4 448.4 L320.9 448.4 L321.4 448.4 L321.9 448.4 L322.4 448.4 L322.9 448.4 L323.4 448.4 L323.9 448.4 L324.4 448.4 L324.9 448.4 L325.4 448.3 L325.9 448.3 L326.4 448.3 L326.9 448.3 L327.4 448.3 L327.9 448.3 L328.4 448.3 L328.9 448.3 L329.4 448.3 L329.9 448.3 L330.4 448.3 L330.9 448.3 L331.4 448.3 L331.9 448.3 L332.4 448.3 L332.9 448.2 L333.4 448.2 L333.9 448.2 L334.4 448.2 L334.9 448.2 L335.4 448.2 L335.9 448.2 L336.4 448.2 L336.9 448.2 L337.4 448.2 L337.9 448.2 L338.4 448.2 L338.9 448.1 L339.4 448.1 L339.9 448.1 L340.4 448.1 L340.9 448.1 L341.4 448.1 L341.9 448.1 L342.4 448.1 L342.9 448.1 L343.4 448.1 L343.9 448.1 L344.4 448.0 L344.9 448.0 L345.4 448.0 L345.9 448.0 L346.4 448.0 L346.9 448.0 L347.4 448.0 L347.9 448.0 L348.4 448.0 L348.9 448.0 L349.4 447.9 L349.9 447.9 L350.4 447.9 L350.9 447.9 L351.4 447.9 L351.9 447.9 L352.4 447.9 L352.9 447.9 L353.4 447.9 L353.9 447.8 L354.4 447.8 L354.9 447.8 L355.4 447.8 L355.9 447.8 L356.4 447.8 L356.9 447.8 L357.4 447.7 L357.9 447.7 L358.4 447.7 L358.9 447.7 L359.4 447.7 L359.9 447.7 L360.4 447.7 L360.9 447.7 L361.4 447.6 L361.9 447.6 L362.4 447.6 L362.9 447.6 L363.4 447.6 L363.9 447.6 L364.4 447.5 L364.9 447.5 L365.4 447.5 L365.9 447.5 L366.4 447.5 L366.9 447.5 L367.4 447.4 L367.9 447.4 L368.4 447.4 L368.9 447.4 L369.4 447.4 L369.9 447.4 L370.4 447.3 L370.9 447.3 L371.4 447.3 L371.9 447.3 L372.4 447.3 L372.9 447.3 L373.4 447.2 L373.9 447.2 L374.4 447.2 L374.9 447.2 L375.4 447.2 L375.9 447.1 L376.4 447.1 L376.9 447.1 L377.4 447.1 L377.9 447.1 L378.4 447.0 L378.9 447.0 L379.4 447.0 L379.9 447.0 L380.4 446.9 L380.9 446.9 L381.4 446.9 L381.9 446.9 L382.4 446.9 L382.9 446.8 L383.4 446.8 L383.9 446.8 L384.4 446.8 L384.9 446.7 L385.4 446.7 L385.9 446.7 L386.4 446.7 L386.9 446.6 L387.4 446.6 L387.9 446.6 L388.4 446.6 L388.9 446.5 L389.4 446.5 L389.9 446.5 L390.4 446.4 L390.9 446.4 L391.4 446.4 L391.9 446.4 L392.4 446.3 L392.9 446.3 L393.4 446.3 L393.9 446.2 L394.4 446.2 L394.9 446.2 L395.4 446.1 L395.9 446.1 L396.4 446.1 L396.9 446.1 L397.4 446.0 L397.9 446.0 L398.4 446.0 L398.9 445.9 L399.4 445.9 L399.9 445.9 L400.4 445.8 L400.9 445.8 L401.4 445.7 L401.9 445.7 L402.4 445.7 L402.9 445.6 L403.4 445.6 L403.9 445.6 L404.4 445.5 L404.9 445.5 L405.4 445.5 L405.9 445.4 L406.4 445.4 L406.9 445.3 L407.4 445.3 L407.9 445.3 L408.4 445.2 L408.9 445.2 L409.4 445.1 L409.9 445.1 L410.4 445.1 L410.9 445.0 L411.4 445.0 L411.9 444.9 L412.4 444.9 L412.9 444.8 L413.4 444.8 L413.9 444.7 L414.4 444.7 L414.9 444.7 L415.4 444.6 L415.9 444.6 L416.4 444.5 L416.9 444.5 L417.4 444.4 L417.9 444.4 L418.4 444.3 L418.9 444.3 L419.4 444.2 L419.9 444.2 L420.4 444.1 L420.9 444.1 L421.4 444.0 L421.9 444.0 L422.4 443.9 L422.9 443.9 L423.4 443.8 L423.9 443.7 L424.4 443.7 L424.9 443.6 L425.4 443.6 L425.9 443.5 L426.4 443.5 L426.9 443.4 L427.4 443.3 L427.9 443.3 L428.4 443.2 L428.9 443.2 L429.4 443.1 L429.9 443.0 L430.4 443.0 L430.9 442.9 L431.4 442.9 L431.9 442.8 L432.4 442.7 L432.9 442.7 L433.4 442.6 L433.9 442.5 L434.4 442.5 L434.9 442.4 L435.4 442.3 L435.9 442.3 L436.4 442.2 L436.9 442.1 L437.4 442.1 L437.9 442.0 L438.4 441.9 L438.9 441.9 L439.4 441.8 L439.9 441.7 L440.4 441.6 L440.9 441.6 L441.4 441.5 L441.9 441.4 L442.4 441.3 L442.9 441.3 L443.4 441.2 L443.9 441.1 L444.4 441.0 L444.9 441.0 L445.4 440.9 L445.9 440.8 L446.4 440.7 L446.9 440.6 L447.4 440.6 L447.9 440.5 L448.4 440.4 L448.9 440.3 L449.4 440.2 L449.9 440.1 L450.4 440.1 L450.9 440.0 L451.4 439.9 L451.9 439.8 L452.4 439.7 L452.9 439.6 L453.4 439.5 L453.9 439.4 L454.4 439.4 L454.9 439.3 L455.4 439.2 L455.9 439.1 L456.4 439.0 L456.9 438.9 L457.4 438.8 L457.9 438.7 L458.4 438.6 L458.9 438.5 L459.4 438.4 L459.9 438.3 L460.4 438.2 L460.9 438.1 L461.4 438.0 L461.9 437.9 L462.4 437.8 L462.9 437.7 L463.4 437.6 L463.9 437.5 L464.4 437.4 L464.9 437.3 L465.4 437.2 L465.9 437.1 L466.4 437.0 L466.9 436.9 L467.4 436.8 L467.9 436.7 L468.4 436.6 L468.9 436.5 L469.4 436.3 L469.9 436.2 L470.4 436.1 L470.9 436.0 L471.4 435.9 L471.9 435.8 L472.4 435.7 L472.9 435.5 L473.4 435.4 L473.9 435.3 L474.4 435.2 L474.9 435.1 L475.4 434.9 L475.9 434.8 L476.4 434.7 L476.9 434.6 L477.4 434.4 L477.9 434.3 L478.4 434.2 L478.9 434.0 L479.4 433.9 L479.9 433.8 L480.4 433.6 L480.9 433.5 L481.4 433.4 L481.9 433.2 L482.4 433.1 L482.9 433.0 L483.4 432.8 L483.9 432.7 L484.4 432.6 L484.9 432.4 L485.4 432.3 L485.9 432.1 L486.4 432.0 L486.9 431.8 L487.4 431.7 L487.9 431.6 L488.4 431.4 L488.9 431.3 L489.4 431.1 L489.9 431.0 L490.4 430.8 L490.9 430.7 L491.4 430.5 L491.9 430.3 L492.4 430.2 L492.9 430.0 L493.4 429.9 L493.9 429.7 L494.4 429.6 L494.9 429.4 L495.4 429.2 L495.9 429.1 L496.4 428.9 L496.9 428.8 L497.4 428.6 L497.9 428.4 L498.4 428.3 L498.9 428.1 L499.4 427.9 L499.9 427.8 L500.4 427.6 L500.9 427.4 L501.4 427.3 L501.9 427.1 L502.4 426.9 L502.9 426.7 L503.4 426.6 L503.9 426.4 L504.4 426.2 L504.9 426.0 L505.4 425.9 L505.9 425.7 L506.4 425.5 L506.9 425.3 L507.4 425.2 L507.9 425.0 L508.4 424.8 L508.9 424.6 L509.4 424.4 L509.9 424.2 L510.4 424.1 L510.9 423.9 L511.4 423.7 L511.9 423.5 L512.4 423.3 L512.9 423.1 L513.4 422.9 L513.9 422.7 L514.4 422.6 L514.9 422.4 L515.4 422.2 L515.9 422.0 L516.4 421.8 L516.9 421.6 L517.4 421.4 L517.9 421.2 L518.4 421.0 L518.9 420.8 L519.4 420.6 L519.9 420.4 L520.4 420.2 L520.9 420.0 L521.4 419.8 L521.9 419.6 L522.4 419.4 L522.9 419.2 L523.4 419.0 L523.9 418.8 L524.4 418.6 L524.9 418.4 L525.4 418.2 L525.9 418.0 L526.4 417.7 L526.9 417.5 L527.4 417.3 L527.9 417.1 L528.4 416.9 L528.9 416.7 L529.4 416.5 L529.9 416.3 L530.4 416.1 L530.9 415.8 L531.4 415.6 L531.9 415.4 L532.4 415.2 L532.9 415.0 L533.4 414.8 L533.9 414.5 L534.4 414.3 L534.9 414.1 L535.4 413.9 L535.9 413.7 L536.4 413.4 L536.9 413.2 L537.4 413.0 L537.9 412.8 L538.4 412.5 L538.9 412.3 L539.4 412.1 L539.9 411.9 L540.4 411.6 L540.9 411.4 L541.4 411.2 L541.9 411.0 L542.4 410.7 L542.9 410.5 L543.4 410.3 L543.9 410.0 L544.4 409.8 L544.9 409.6 L545.4 409.3 L545.9 409.1 L546.4 408.9 L546.9 408.6 L547.4 408.4 L547.9 408.2 L548.4 407.9 L548.9 407.7 L549.4 407.5 L549.9 407.2 L550.4 407.0 L550.9 406.8 L551.4 406.5 L551.9 406.3 L552.4 406.0 L552.9 405.8 L553.4 405.5 L553.9 405.3 L554.4 405.1 L554.9 404.8 L555.4 404.6 L555.9 404.3 L556.4 404.1 L556.9 403.8 L557.4 403.6 L557.9 403.4 L558.4 403.1 L558.9 402.9 L559.4 402.6 L559.9 402.4 L560.4 402.1 L560.9 401.9 L561.4 401.6 L561.9 401.4 L562.4 401.1 L562.9 400.9 L563.4 400.6 L563.9 400.4 L564.4 400.1 L564.9 399.8 L565.4 399.6 L565.9 399.3 L566.4 399.1 L566.9 398.8 L567.4 398.6 L567.9 398.3 L568.4 398.1 L568.9 397.8 L569.4 397.5 L569.9 397.3 L570.4 397.0 L570.9 396.8 L571.4 396.5 L571.9 396.3 L572.4 396.0 L572.9 395.7 L573.4 395.5 L573.9 395.2 L574.4 394.9 L574.9 394.7 L575.4 394.4 L575.9 394.2 L576.4 393.9 L576.9 393.6 L577.4 393.4 L577.9 393.1 L578.4 392.8 L578.9 392.6 L579.4 392.3 L579.9 392.0 L580.4 391.8 L580.9 391.5 L581.4 391.2 L581.9 391.0 L582.4 390.7 L582.9 390.4 L583.4 390.1 L583.9 389.9 L584.4 389.6 L584.9 389.3 L585.4 389.1 L585.9 388.8 L586.4 388.5 L586.9 388.2 L587.4 388.0 L587.9 387.7 L588.4 387.4 L588.9 387.1 L589.4 386.9 L589.9 386.6 L590.4 386.3 L590.9 386.0 L591.4 385.8 L591.9 385.5 L592.4 385.2 L592.9 384.9 L593.4 384.7 L593.9 384.4 L594.4 384.1 L594.9 383.8 L595.4 383.5 L595.9 383.3 L596.4 383.0 L596.9 382.7 L597.4 382.4 L597.9 382.1 L598.4 381.8 L598.9 381.6 L599.4 381.3 L599.9 381.0 L600.4 380.7 L600.9 380.4 L601.4 380.1 L601.9 379.9 L602.4 379.6 L602.9 379.3 L603.4 379.0 L603.9 378.7 L604.4 378.4 L604.9 378.1 L605.4 377.8 L605.9 377.6 L606.4 377.3 L606.9 377.0 L607.4 376.7 L607.9 376.4 L608.4 376.1 L608.9 375.8 L609.4 375.5 L609.9 375.2 L610.4 374.9 L610.9 374.6 L611.4 374.4 L611.9 374.1 L612.4 373.8 L612.9 373.5 L613.4 373.2 L613.9 372.9 L614.4 372.6 L614.9 372.3 L615.4 372.0 L615.9 371.7 L616.4 371.4 L616.9 371.1 L617.4 370.8 L617.9 370.5 L618.4 370.2 L618.9 369.9 L619.4 369.6 L619.9 369.3 L620.4 369.0 L620.9 368.7 L621.4 368.4 L621.9 368.1 L622.4 367.8 L622.9 367.5 L623.4 367.2 L623.9 366.9 L624.4 366.6 L624.9 366.3 L625.4 366.0 L625.9 365.7 L626.4 365.4 L626.9 365.1 L627.4 364.8 L627.9 364.5 L628.4 364.2 L628.9 363.9 L629.4 363.6 L629.9 363.3 L630.4 363.0 L630.9 362.7 L631.4 362.4 L631.9 362.1 L632.4 361.7 L632.9 361.4 L633.4 361.1 L633.9 360.8 L634.4 360.5 L634.9 360.2 L635.4 359.9 L635.9 359.6 L636.4 359.3 L636.9 359.0 L637.4 358.6 L637.9 358.3 L638.4 358.0 L638.9 357.7 L639.4 357.4 L639.9 357.1 L640.4 356.8 L640.9 356.5 L641.4 356.2 L641.9 355.8 L642.4 355.5 L642.9 355.2 L643.4 354.9 L643.9 354.6 L644.4 354.3 L644.9 353.9 L645.4 353.6 L645.9 353.3 L646.4 353.0 L646.9 352.7 L647.4 352.4 L647.9 352.0 L648.4 351.7 L648.9 351.4 L649.4 351.1 L649.9 350.8 L650.4 350.4 L650.9 350.1 L651.4 349.8 L651.9 349.5 L652.4 349.2 L652.9 348.8 L653.4 348.5 L653.9 348.2 L654.4 347.9 L654.9 347.6 L655.4 347.2 L655.9 346.9 L656.4 346.6 L656.9 346.3 L657.4 345.9 L657.9 345.6 L658.4 345.3 L658.9 345.0 L659.4 344.6 L659.9 344.3 L660.4 344.0 L660.9 343.7 L661.4 343.3 L661.9 343.0 L662.4 342.7 L662.9 342.3 L663.4 342.0 L663.9 341.7 L664.4 341.4 L664.9 341.0 L665.4 340.7 L665.9 340.4 L666.4 340.0 L666.9 339.7 L667.4 339.4 L667.9 339.1 L668.4 338.7 L668.9 338.4 L669.4 338.1 L669.9 337.7 L670.4 337.4 L670.9 337.1 L671.4 336.7 L671.9 336.4 L672.4 336.1 L672.9 335.7 L673.4 335.4 L673.9 335.1 L674.4 334.7 L674.9 334.4 L675.4 334.1 L675.9 333.7 L676.4 333.4 L676.9 333.0 L677.4 332.7 L677.9 332.4 L678.4 332.0 L678.9 331.7 L679.4 331.4 L679.9 331.0 L680.4 330.7 L680.9 330.3 L681.4 330.0 L681.9 329.7 L682.4 329.3 L682.9 329.0 L683.4 328.6 L683.9 328.3 L684.4 328.0 L684.9 327.6 L685.4 327.3 L685.9 326.9 L686.4 326.6 L686.9 326.2 L687.4 325.9 L687.9 325.6 L688.4 325.2 L688.9 324.9 L689.4 324.5 L689.9 324.2 L690.4 323.8 L690.9 323.5 L691.4 323.1 L691.9 322.8 L692.4 322.4 L692.9 322.0 L693.4 321.7 L693.9 321.3 L694.4 320.9 L694.9 320.6 L695.4 320.2 L695.9 319.8 L696.4 319.5 L696.9 319.1 L697.4 318.7 L697.9 318.3 L698.4 318.0 L698.9 317.6 L699.4 317.2 L699.9 316.8 L700.4 316.4 L700.9 316.1 L701.4 315.7 L701.9 315.3 L702.4 314.9 L702.9 314.6 L703.4 314.2 L703.9 313.8 L704.4 313.4 L704.9 313.0 L705.4 312.6 L705.9 312.3 L706.4 311.9 L706.9 311.5 L707.4 311.1 L707.9 310.7 L708.4 310.3 L708.9 309.9 L709.4 309.5 L709.9 309.2 L710.4 308.8 L710.9 308.4 L711.4 308.0 L711.9 307.7 L712.4 307.3 L712.9 306.9 L713.4 306.5 L713.9 306.2 L714.4 305.8 L714.9 305.4 L715.4 305.1 L715.9 304.7 L716.4 304.3 L716.9 304.0 L717.4 303.6 L717.9 303.2 L718.4 302.9 L718.9 302.5 L719.4 302.1 L719.9 301.7 L720.4 301.4 L720.9 301.0 L721.4 300.6 L721.9 300.2 L722.4 299.8 L722.9 299.4 L723.4 299.0 L723.9 298.7 L724.4 298.3 L724.9 297.9 L725.4 297.5 L725.9 297.1 L726.4 296.6 L726.9 296.2 L727.4 295.8 L727.9 295.4 L728.4 295.0 L728.9 294.6 L729.4 294.1 L729.9 293.7 L730.4 293.3 L730.9 292.8 L731.4 292.4 L731.9 292.0 L732.4 291.5 L732.9 291.1 L733.4 290.6 L733.9 290.2 L734.4 289.7 L734.9 289.3 L735.4 288.8 L735.9 288.4 L736.4 287.9 L736.9 287.4 L737.4 287.0 L737.9 286.5 L738.4 286.0 L738.9 285.6 L739.4 285.1 L739.9 284.6 L740.4 284.1 L740.9 283.6 L741.4 283.1 L741.9 282.6 L742.4 282.1 L742.9 281.6 L743.4 281.1 L743.9 280.6 L744.4 280.1 L744.9 279.6 L745.4 279.1 L745.9 278.6 L746.4 278.1 L746.9 277.5 L747.4 277.0 L747.9 276.5 L748.4 275.9 L748.9 275.4 L749.4 274.9 L749.9 274.3 L750.4 273.8 L750.9 273.2 L751.4 272.7 L751.9 272.1 L752.4 271.5 L752.9 271.0 L753.4 270.4 L753.9 269.8 L754.4 269.2 L754.9 268.6 L755.4 268.1 L755.9 267.5 L756.4 266.8 L756.9 266.2 L757.4 265.6 L757.9 265.0 L758.4 264.3 L758.9 263.7 L759.4 263.0 L759.9 262.3 L760.4 261.7 L760.9 261.0 L761.4 260.3 L761.9 259.5 L762.4 258.8 L762.9 258.1 L763.4 257.3 L763.9 256.5 L764.4 255.7 L764.9 254.9 L765.4 254.1 L765.9 253.3 L766.4 252.5 L766.9 251.6 L767.4 250.8 L767.9 249.9 L768.4 249.1 L768.9 248.2 L769.4 247.3 L769.9 246.5 L770.4 245.6 L770.9 244.7 L771.4 243.8 L771.9 243.0 L772.4 242.1 L772.9 241.2 L773.4 240.3 L773.9 239.4 L774.4 238.5 L774.9 237.5 L775.4 236.6 L775.9 235.6 L776.4 234.6 L776.9 233.7 L777.4 232.7 L777.9 231.7 L778.4 230.7 L778.9 229.7 L779.4 228.8 L779.9 227.8 L780.4 226.9 L780.9 226.0 L781.4 225.1 L781.9 224.2 L782.4 223.3 L782.9 222.5 L783.4 221.7 L783.9 220.9 L784.4 220.0 L784.9 219.2 L785.4 218.4 L785.9 217.6 L786.4 216.8 L786.9 216.0 L787.4 215.2 L787.9 214.4 L788.4 213.7 L788.9 212.9 L789.4 212.2 L789.9 211.4 L790.4 210.7 L790.9 210.0 L791.4 209.3 L791.9 208.7 L792.4 208.0 L792.9 207.4 L793.4 206.8 L793.9 206.2 L794.4 205.6 L794.9 205.1 L795.4 204.6 L795.9 204.1 L796.4 203.6 L796.9 203.1 L797.4 202.7 L797.9 202.2 L798.4 201.8 L798.9 201.4 L799.4 201.0 L799.9 200.6 L800.4 200.2 L800.9 199.8 L801.4 199.5 L801.9 199.2 L802.4 198.8 L802.9 198.6 L803.4 198.3 L803.9 198.0 L804.4 197.8 L804.9 197.5 L805.4 197.3 L805.9 197.1 L806.4 197.0 L806.9 196.8 L807.4 196.6 L807.9 196.5 L808.4 196.4 L808.9 196.3 L809.4 196.2 L809.9 196.2 L810.4 196.2 L810.9 196.2 L811.4 196.3 L811.9 196.5 L812.4 196.7 L812.9 196.9 L813.4 197.3 L813.9 197.7 L814.4 198.2 L814.9 198.7 L815.4 199.3 L815.9 200.0 L816.4 200.6 L816.9 201.4 L817.4 202.1 L817.9 202.9 L818.4 203.6 L818.9 204.4 L819.4 205.3 L819.9 206.3 L820.4 207.2 L820.9 208.3 L821.4 209.4 L821.9 210.6 L822.4 211.8 L822.9 213.0 L823.4 214.3 L823.9 215.7 L824.4 217.1 L824.9 218.8 L825.4 220.6 L825.9 222.6 L826.4 224.5 L826.9 226.4 L827.4 228.1 L827.9 229.7 L828.4 231.2 L828.9 232.6 L829.4 234.0 L829.9 235.4 L830.4 236.7 L830.9 238.0 L831.4 239.3 L831.9 240.5 L832.4 241.6 L832.9 242.7 L833.4 243.8 L833.9 244.8 L834.4 245.8 L834.9 246.7 L835.4 247.6 L835.9 248.5 L836.4 249.4 L836.9 250.2 L837.4 251.0 L837.9 251.8 L838.4 252.5 L838.9 253.2 L839.4 253.9 L839.9 254.6 L840.4 255.3 L840.9 255.9 L841.4 256.5 L841.9 257.0 L842.4 257.5 L842.9 258.0 L843.4 258.5 L843.9 258.9 L844.4 259.4 L844.9 259.8 L845.4 260.3 L845.9 260.7 L846.4 261.1 L846.9 261.5 L847.4 261.9 L847.5 262.0" fill="none" stroke="#000" stroke-width="3.3" stroke-dasharray="10.3 12.5" stroke-linecap="round" stroke-linejoin="round"/><path d="M145.4 464.0 L145.9 464.0 L146.4 464.0 L146.9 464.0 L147.4 464.0 L147.9 464.0 L148.4 464.0 L148.9 464.0 L149.4 464.0 L149.9 464.0 L150.4 464.0 L150.9 464.0 L151.4 464.0 L151.9 464.0 L152.4 464.0 L152.9 464.0 L153.4 464.0 L153.9 464.0 L154.4 464.0 L154.9 464.0 L155.4 464.0 L155.9 464.0 L156.4 464.0 L156.9 464.0 L157.4 464.0 L157.9 464.0 L158.4 464.0 L158.9 464.0 L159.4 464.0 L159.9 464.0 L160.4 464.0 L160.9 464.0 L161.4 464.0 L161.9 464.0 L162.4 464.0 L162.9 464.0 L163.4 464.0 L163.9 464.0 L164.4 464.0 L164.9 464.0 L165.4 464.0 L165.9 464.0 L166.4 464.0 L166.9 464.0 L167.4 464.0 L167.9 464.0 L168.4 464.0 L168.9 464.0 L169.4 464.0 L169.9 464.0 L170.4 464.0 L170.9 464.0 L171.4 464.0 L171.9 464.0 L172.4 464.0 L172.9 464.0 L173.4 464.0 L173.9 464.0 L174.4 464.0 L174.9 464.0 L175.4 464.0 L175.9 464.0 L176.4 464.0 L176.9 464.0 L177.4 464.0 L177.9 464.0 L178.4 464.0 L178.9 464.0 L179.4 464.0 L179.9 464.0 L180.4 464.0 L180.9 464.0 L181.4 464.0 L181.9 464.0 L182.4 464.0 L182.9 464.0 L183.4 464.0 L183.9 464.0 L184.4 464.0 L184.9 464.0 L185.4 464.0 L185.9 464.0 L186.4 464.0 L186.9 464.0 L187.4 464.0 L187.9 464.0 L188.4 464.0 L188.9 464.0 L189.4 464.0 L189.9 464.0 L190.4 464.0 L190.9 464.0 L191.4 464.0 L191.9 464.0 L192.4 464.0 L192.9 464.0 L193.4 464.0 L193.9 464.0 L194.4 464.0 L194.9 464.0 L195.4 464.0 L195.9 464.0 L196.4 464.0 L196.9 464.0 L197.4 464.0 L197.9 464.0 L198.4 464.0 L198.9 464.0 L199.4 464.0 L199.9 464.0 L200.4 464.0 L200.9 464.0 L201.4 464.0 L201.9 464.0 L202.4 464.0 L202.9 464.0 L203.4 464.0 L203.9 464.0 L204.4 464.0 L204.9 464.0 L205.4 464.0 L205.9 464.0 L206.4 464.0 L206.9 464.0 L207.4 464.0 L207.9 464.0 L208.4 464.0 L208.9 464.0 L209.4 464.0 L209.9 464.0 L210.4 464.0 L210.9 464.0 L211.4 464.0 L211.9 464.0 L212.4 464.0 L212.9 464.0 L213.4 464.0 L213.9 464.0 L214.4 464.0 L214.9 464.0 L215.4 464.0 L215.9 464.0 L216.4 464.0 L216.9 464.0 L217.4 464.0 L217.9 464.0 L218.4 464.0 L218.9 464.0 L219.4 464.0 L219.9 464.0 L220.4 464.0 L220.9 464.0 L221.4 464.0 L221.9 464.0 L222.4 464.0 L222.9 464.0 L223.4 464.0 L223.9 464.0 L224.4 464.0 L224.9 464.0 L225.4 464.0 L225.9 464.0 L226.4 464.0 L226.9 464.0 L227.4 464.0 L227.9 464.0 L228.4 464.0 L228.9 464.0 L229.4 464.0 L229.9 464.0 L230.4 464.0 L230.9 464.0 L231.4 464.0 L231.9 464.0 L232.4 464.0 L232.9 464.0 L233.4 464.0 L233.9 464.0 L234.4 464.0 L234.9 464.0 L235.4 464.0 L235.9 464.0 L236.4 464.0 L236.9 464.0 L237.4 464.0 L237.9 464.0 L238.4 464.0 L238.9 464.0 L239.4 464.0 L239.9 464.0 L240.4 464.0 L240.9 464.0 L241.4 464.0 L241.9 464.0 L242.4 464.0 L242.9 464.0 L243.4 464.0 L243.9 464.0 L244.4 464.0 L244.9 464.0 L245.4 464.0 L245.9 464.0 L246.4 464.0 L246.9 464.0 L247.4 464.0 L247.9 464.0 L248.4 464.0 L248.9 463.9 L249.4 463.9 L249.9 463.9 L250.4 463.9 L250.9 463.9 L251.4 463.9 L251.9 463.9 L252.4 463.9 L252.9 463.9 L253.4 463.9 L253.9 463.9 L254.4 463.9 L254.9 463.9 L255.4 463.9 L255.9 463.9 L256.4 463.9 L256.9 463.9 L257.4 463.9 L257.9 463.9 L258.4 463.9 L258.9 463.9 L259.4 463.9 L259.9 463.9 L260.4 463.9 L260.9 463.9 L261.4 463.9 L261.9 463.9 L262.4 463.9 L262.9 463.9 L263.4 463.9 L263.9 463.9 L264.4 463.9 L264.9 463.9 L265.4 463.9 L265.9 463.9 L266.4 463.9 L266.9 463.9 L267.4 463.9 L267.9 463.9 L268.4 463.9 L268.9 463.9 L269.4 463.9 L269.9 463.9 L270.4 463.9 L270.9 463.9 L271.4 463.9 L271.9 463.9 L272.4 463.9 L272.9 463.9 L273.4 463.9 L273.9 463.9 L274.4 463.9 L274.9 463.9 L275.4 463.9 L275.9 463.9 L276.4 463.9 L276.9 463.9 L277.4 463.9 L277.9 463.9 L278.4 463.9 L278.9 463.9 L279.4 463.9 L279.9 463.8 L280.4 463.8 L280.9 463.8 L281.4 463.8 L281.9 463.8 L282.4 463.8 L282.9 463.8 L283.4 463.8 L283.9 463.8 L284.4 463.8 L284.9 463.8 L285.4 463.8 L285.9 463.8 L286.4 463.8 L286.9 463.8 L287.4 463.8 L287.9 463.8 L288.4 463.8 L288.9 463.8 L289.4 463.8 L289.9 463.8 L290.4 463.8 L290.9 463.8 L291.4 463.8 L291.9 463.8 L292.4 463.8 L292.9 463.8 L293.4 463.8 L293.9 463.8 L294.4 463.8 L294.9 463.8 L295.4 463.8 L295.9 463.8 L296.4 463.8 L296.9 463.8 L297.4 463.7 L297.9 463.7 L298.4 463.7 L298.9 463.7 L299.4 463.7 L299.9 463.7 L300.4 463.7 L300.9 463.7 L301.4 463.7 L301.9 463.7 L302.4 463.7 L302.9 463.7 L303.4 463.7 L303.9 463.7 L304.4 463.7 L304.9 463.7 L305.4 463.7 L305.9 463.7 L306.4 463.7 L306.9 463.7 L307.4 463.7 L307.9 463.7 L308.4 463.7 L308.9 463.7 L309.4 463.7 L309.9 463.6 L310.4 463.6 L310.9 463.6 L311.4 463.6 L311.9 463.6 L312.4 463.6 L312.9 463.6 L313.4 463.6 L313.9 463.6 L314.4 463.6 L314.9 463.6 L315.4 463.6 L315.9 463.6 L316.4 463.6 L316.9 463.6 L317.4 463.6 L317.9 463.6 L318.4 463.6 L318.9 463.6 L319.4 463.6 L319.9 463.5 L320.4 463.5 L320.9 463.5 L321.4 463.5 L321.9 463.5 L322.4 463.5 L322.9 463.5 L323.4 463.5 L323.9 463.5 L324.4 463.5 L324.9 463.5 L325.4 463.5 L325.9 463.5 L326.4 463.5 L326.9 463.5 L327.4 463.4 L327.9 463.4 L328.4 463.4 L328.9 463.4 L329.4 463.4 L329.9 463.4 L330.4 463.4 L330.9 463.4 L331.4 463.4 L331.9 463.4 L332.4 463.4 L332.9 463.4 L333.4 463.4 L333.9 463.4 L334.4 463.3 L334.9 463.3 L335.4 463.3 L335.9 463.3 L336.4 463.3 L336.9 463.3 L337.4 463.3 L337.9 463.3 L338.4 463.3 L338.9 463.3 L339.4 463.3 L339.9 463.2 L340.4 463.2 L340.9 463.2 L341.4 463.2 L341.9 463.2 L342.4 463.2 L342.9 463.2 L343.4 463.2 L343.9 463.2 L344.4 463.2 L344.9 463.1 L345.4 463.1 L345.9 463.1 L346.4 463.1 L346.9 463.1 L347.4 463.1 L347.9 463.1 L348.4 463.1 L348.9 463.1 L349.4 463.0 L349.9 463.0 L350.4 463.0 L350.9 463.0 L351.4 463.0 L351.9 463.0 L352.4 463.0 L352.9 463.0 L353.4 463.0 L353.9 462.9 L354.4 462.9 L354.9 462.9 L355.4 462.9 L355.9 462.9 L356.4 462.9 L356.9 462.9 L357.4 462.8 L357.9 462.8 L358.4 462.8 L358.9 462.8 L359.4 462.8 L359.9 462.8 L360.4 462.8 L360.9 462.7 L361.4 462.7 L361.9 462.7 L362.4 462.7 L362.9 462.7 L363.4 462.7 L363.9 462.7 L364.4 462.6 L364.9 462.6 L365.4 462.6 L365.9 462.6 L366.4 462.6 L366.9 462.6 L367.4 462.5 L367.9 462.5 L368.4 462.5 L368.9 462.5 L369.4 462.5 L369.9 462.4 L370.4 462.4 L370.9 462.4 L371.4 462.4 L371.9 462.4 L372.4 462.4 L372.9 462.3 L373.4 462.3 L373.9 462.3 L374.4 462.3 L374.9 462.3 L375.4 462.2 L375.9 462.2 L376.4 462.2 L376.9 462.2 L377.4 462.1 L377.9 462.1 L378.4 462.1 L378.9 462.1 L379.4 462.1 L379.9 462.0 L380.4 462.0 L380.9 462.0 L381.4 462.0 L381.9 461.9 L382.4 461.9 L382.9 461.9 L383.4 461.9 L383.9 461.8 L384.4 461.8 L384.9 461.8 L385.4 461.8 L385.9 461.7 L386.4 461.7 L386.9 461.7 L387.4 461.7 L387.9 461.6 L388.4 461.6 L388.9 461.6 L389.4 461.6 L389.9 461.5 L390.4 461.5 L390.9 461.5 L391.4 461.4 L391.9 461.4 L392.4 461.4 L392.9 461.3 L393.4 461.3 L393.9 461.3 L394.4 461.3 L394.9 461.2 L395.4 461.2 L395.9 461.2 L396.4 461.1 L396.9 461.1 L397.4 461.1 L397.9 461.0 L398.4 461.0 L398.9 461.0 L399.4 460.9 L399.9 460.9 L400.4 460.9 L400.9 460.8 L401.4 460.8 L401.9 460.7 L402.4 460.7 L402.9 460.7 L403.4 460.6 L403.9 460.6 L404.4 460.6 L404.9 460.5 L405.4 460.5 L405.9 460.4 L406.4 460.4 L406.9 460.4 L407.4 460.3 L407.9 460.3 L408.4 460.2 L408.9 460.2 L409.4 460.2 L409.9 460.1 L410.4 460.1 L410.9 460.0 L411.4 460.0 L411.9 459.9 L412.4 459.9 L412.9 459.8 L413.4 459.8 L413.9 459.7 L414.4 459.7 L414.9 459.7 L415.4 459.6 L415.9 459.6 L416.4 459.5 L416.9 459.5 L417.4 459.4 L417.9 459.4 L418.4 459.3 L418.9 459.3 L419.4 459.2 L419.9 459.2 L420.4 459.1 L420.9 459.0 L421.4 459.0 L421.9 458.9 L422.4 458.9 L422.9 458.8 L423.4 458.8 L423.9 458.7 L424.4 458.7 L424.9 458.6 L425.4 458.5 L425.9 458.5 L426.4 458.4 L426.9 458.4 L427.4 458.3 L427.9 458.2 L428.4 458.2 L428.9 458.1 L429.4 458.1 L429.9 458.0 L430.4 457.9 L430.9 457.9 L431.4 457.8 L431.9 457.7 L432.4 457.7 L432.9 457.6 L433.4 457.5 L433.9 457.5 L434.4 457.4 L434.9 457.3 L435.4 457.3 L435.9 457.2 L436.4 457.1 L436.9 457.0 L437.4 457.0 L437.9 456.9 L438.4 456.8 L438.9 456.7 L439.4 456.7 L439.9 456.6 L440.4 456.5 L440.9 456.4 L441.4 456.4 L441.9 456.3 L442.4 456.2 L442.9 456.1 L443.4 456.0 L443.9 456.0 L444.4 455.9 L444.9 455.8 L445.4 455.7 L445.9 455.6 L446.4 455.5 L446.9 455.5 L447.4 455.4 L447.9 455.3 L448.4 455.2 L448.9 455.1 L449.4 455.0 L449.9 454.9 L450.4 454.8 L450.9 454.7 L451.4 454.7 L451.9 454.6 L452.4 454.5 L452.9 454.4 L453.4 454.3 L453.9 454.2 L454.4 454.1 L454.9 454.0 L455.4 453.9 L455.9 453.8 L456.4 453.7 L456.9 453.6 L457.4 453.5 L457.9 453.4 L458.4 453.3 L458.9 453.2 L459.4 453.1 L459.9 453.0 L460.4 452.9 L460.9 452.8 L461.4 452.7 L461.9 452.5 L462.4 452.4 L462.9 452.3 L463.4 452.2 L463.9 452.1 L464.4 452.0 L464.9 451.9 L465.4 451.8 L465.9 451.6 L466.4 451.5 L466.9 451.4 L467.4 451.3 L467.9 451.2 L468.4 451.1 L468.9 450.9 L469.4 450.8 L469.9 450.7 L470.4 450.6 L470.9 450.5 L471.4 450.3 L471.9 450.2 L472.4 450.1 L472.9 449.9 L473.4 449.8 L473.9 449.7 L474.4 449.6 L474.9 449.4 L475.4 449.3 L475.9 449.2 L476.4 449.0 L476.9 448.9 L477.4 448.8 L477.9 448.6 L478.4 448.5 L478.9 448.4 L479.4 448.2 L479.9 448.1 L480.4 447.9 L480.9 447.8 L481.4 447.7 L481.9 447.5 L482.4 447.4 L482.9 447.2 L483.4 447.1 L483.9 446.9 L484.4 446.8 L484.9 446.6 L485.4 446.5 L485.9 446.4 L486.4 446.2 L486.9 446.0 L487.4 445.9 L487.9 445.7 L488.4 445.6 L488.9 445.4 L489.4 445.3 L489.9 445.1 L490.4 445.0 L490.9 444.8 L491.4 444.6 L491.9 444.5 L492.4 444.3 L492.9 444.2 L493.4 444.0 L493.9 443.8 L494.4 443.7 L494.9 443.5 L495.4 443.3 L495.9 443.2 L496.4 443.0 L496.9 442.8 L497.4 442.6 L497.9 442.5 L498.4 442.3 L498.9 442.1 L499.4 441.9 L499.9 441.8 L500.4 441.6 L500.9 441.4 L501.4 441.2 L501.9 441.0 L502.4 440.9 L502.9 440.7 L503.4 440.5 L503.9 440.3 L504.4 440.1 L504.9 439.9 L505.4 439.7 L505.9 439.6 L506.4 439.4 L506.9 439.2 L507.4 439.0 L507.9 438.8 L508.4 438.6 L508.9 438.4 L509.4 438.2 L509.9 438.0 L510.4 437.8 L510.9 437.6 L511.4 437.4 L511.9 437.2 L512.4 437.0 L512.9 436.8 L513.4 436.6 L513.9 436.4 L514.4 436.2 L514.9 436.0 L515.4 435.8 L515.9 435.6 L516.4 435.4 L516.9 435.2 L517.4 435.0 L517.9 434.8 L518.4 434.5 L518.9 434.3 L519.4 434.1 L519.9 433.9 L520.4 433.7 L520.9 433.5 L521.4 433.3 L521.9 433.0 L522.4 432.8 L522.9 432.6 L523.4 432.4 L523.9 432.2 L524.4 432.0 L524.9 431.7 L525.4 431.5 L525.9 431.3 L526.4 431.1 L526.9 430.8 L527.4 430.6 L527.9 430.4 L528.4 430.2 L528.9 429.9 L529.4 429.7 L529.9 429.5 L530.4 429.2 L530.9 429.0 L531.4 428.8 L531.9 428.5 L532.4 428.3 L532.9 428.1 L533.4 427.8 L533.9 427.6 L534.4 427.4 L534.9 427.1 L535.4 426.9 L535.9 426.6 L536.4 426.4 L536.9 426.2 L537.4 425.9 L537.9 425.7 L538.4 425.4 L538.9 425.2 L539.4 425.0 L539.9 424.7 L540.4 424.5 L540.9 424.2 L541.4 424.0 L541.9 423.7 L542.4 423.5 L542.9 423.2 L543.4 423.0 L543.9 422.7 L544.4 422.5 L544.9 422.2 L545.4 422.0 L545.9 421.7 L546.4 421.5 L546.9 421.2 L547.4 421.0 L547.9 420.7 L548.4 420.4 L548.9 420.2 L549.4 419.9 L549.9 419.7 L550.4 419.4 L550.9 419.2 L551.4 418.9 L551.9 418.6 L552.4 418.4 L552.9 418.1 L553.4 417.9 L553.9 417.6 L554.4 417.3 L554.9 417.1 L555.4 416.8 L555.9 416.5 L556.4 416.3 L556.9 416.0 L557.4 415.7 L557.9 415.5 L558.4 415.2 L558.9 414.9 L559.4 414.7 L559.9 414.4 L560.4 414.1 L560.9 413.9 L561.4 413.6 L561.9 413.3 L562.4 413.0 L562.9 412.8 L563.4 412.5 L563.9 412.2 L564.4 411.9 L564.9 411.7 L565.4 411.4 L565.9 411.1 L566.4 410.8 L566.9 410.6 L567.4 410.3 L567.9 410.0 L568.4 409.7 L568.9 409.4 L569.4 409.2 L569.9 408.9 L570.4 408.6 L570.9 408.3 L571.4 408.0 L571.9 407.8 L572.4 407.5 L572.9 407.2 L573.4 406.9 L573.9 406.6 L574.4 406.3 L574.9 406.1 L575.4 405.8 L575.9 405.5 L576.4 405.2 L576.9 404.9 L577.4 404.6 L577.9 404.3 L578.4 404.1 L578.9 403.8 L579.4 403.5 L579.9 403.2 L580.4 402.9 L580.9 402.6 L581.4 402.3 L581.9 402.0 L582.4 401.7 L582.9 401.5 L583.4 401.2 L583.9 400.9 L584.4 400.6 L584.9 400.3 L585.4 400.0 L585.9 399.7 L586.4 399.4 L586.9 399.1 L587.4 398.8 L587.9 398.5 L588.4 398.2 L588.9 397.9 L589.4 397.6 L589.9 397.3 L590.4 397.0 L590.9 396.7 L591.4 396.4 L591.9 396.1 L592.4 395.8 L592.9 395.5 L593.4 395.2 L593.9 394.9 L594.4 394.6 L594.9 394.3 L595.4 394.0 L595.9 393.7 L596.4 393.4 L596.9 393.1 L597.4 392.8 L597.9 392.5 L598.4 392.2 L598.9 391.9 L599.4 391.6 L599.9 391.3 L600.4 391.0 L600.9 390.7 L601.4 390.4 L601.9 390.1 L602.4 389.8 L602.9 389.5 L603.4 389.2 L603.9 388.9 L604.4 388.6 L604.9 388.3 L605.4 388.0 L605.9 387.7 L606.4 387.3 L606.9 387.0 L607.4 386.7 L607.9 386.4 L608.4 386.1 L608.9 385.8 L609.4 385.5 L609.9 385.2 L610.4 384.9 L610.9 384.6 L611.4 384.3 L611.9 383.9 L612.4 383.6 L612.9 383.3 L613.4 383.0 L613.9 382.7 L614.4 382.4 L614.9 382.1 L615.4 381.8 L615.9 381.4 L616.4 381.1 L616.9 380.8 L617.4 380.5 L617.9 380.2 L618.4 379.9 L618.9 379.6 L619.4 379.2 L619.9 378.9 L620.4 378.6 L620.9 378.3 L621.4 378.0 L621.9 377.7 L622.4 377.3 L622.9 377.0 L623.4 376.7 L623.9 376.4 L624.4 376.1 L624.9 375.8 L625.4 375.4 L625.9 375.1 L626.4 374.8 L626.9 374.5 L627.4 374.2 L627.9 373.9 L628.4 373.5 L628.9 373.2 L629.4 372.9 L629.9 372.6 L630.4 372.3 L630.9 371.9 L631.4 371.6 L631.9 371.3 L632.4 371.0 L632.9 370.6 L633.4 370.3 L633.9 370.0 L634.4 369.7 L634.9 369.4 L635.4 369.0 L635.9 368.7 L636.4 368.4 L636.9 368.1 L637.4 367.7 L637.9 367.4 L638.4 367.1 L638.9 366.8 L639.4 366.4 L639.9 366.1 L640.4 365.8 L640.9 365.5 L641.4 365.1 L641.9 364.8 L642.4 364.5 L642.9 364.2 L643.4 363.8 L643.9 363.5 L644.4 363.2 L644.9 362.9 L645.4 362.5 L645.9 362.2 L646.4 361.9 L646.9 361.6 L647.4 361.2 L647.9 360.9 L648.4 360.6 L648.9 360.2 L649.4 359.9 L649.9 359.6 L650.4 359.3 L650.9 358.9 L651.4 358.6 L651.9 358.3 L652.4 357.9 L652.9 357.6 L653.4 357.3 L653.9 356.9 L654.4 356.6 L654.9 356.3 L655.4 356.0 L655.9 355.6 L656.4 355.3 L656.9 355.0 L657.4 354.6 L657.9 354.3 L658.4 354.0 L658.9 353.6 L659.4 353.3 L659.9 353.0 L660.4 352.6 L660.9 352.3 L661.4 352.0 L661.9 351.6 L662.4 351.3 L662.9 351.0 L663.4 350.6 L663.9 350.3 L664.4 350.0 L664.9 349.6 L665.4 349.3 L665.9 349.0 L666.4 348.6 L666.9 348.3 L667.4 348.0 L667.9 347.6 L668.4 347.3 L668.9 346.9 L669.4 346.6 L669.9 346.3 L670.4 345.9 L670.9 345.6 L671.4 345.3 L671.9 344.9 L672.4 344.6 L672.9 344.2 L673.4 343.9 L673.9 343.6 L674.4 343.2 L674.9 342.9 L675.4 342.6 L675.9 342.2 L676.4 341.9 L676.9 341.5 L677.4 341.2 L677.9 340.9 L678.4 340.5 L678.9 340.2 L679.4 339.8 L679.9 339.5 L680.4 339.2 L680.9 338.8 L681.4 338.5 L681.9 338.1 L682.4 337.8 L682.9 337.5 L683.4 337.1 L683.9 336.8 L684.4 336.4 L684.9 336.1 L685.4 335.8 L685.9 335.4 L686.4 335.1 L686.9 334.7 L687.4 334.4 L687.9 334.1 L688.4 333.7 L688.9 333.4 L689.4 333.0 L689.9 332.7 L690.4 332.3 L690.9 332.0 L691.4 331.6 L691.9 331.3 L692.4 330.9 L692.9 330.6 L693.4 330.2 L693.9 329.9 L694.4 329.6 L694.9 329.2 L695.4 328.9 L695.9 328.5 L696.4 328.2 L696.9 327.9 L697.4 327.5 L697.9 327.2 L698.4 326.9 L698.9 326.5 L699.4 326.2 L699.9 325.9 L700.4 325.6 L700.9 325.3 L701.4 325.0 L701.9 324.7 L702.4 324.3 L702.9 324.0 L703.4 323.7 L703.9 323.4 L704.4 323.1 L704.9 322.8 L705.4 322.5 L705.9 322.2 L706.4 322.0 L706.9 321.7 L707.4 321.4 L707.9 321.1 L708.4 320.8 L708.9 320.5 L709.4 320.2 L709.9 319.9 L710.4 319.6 L710.9 319.2 L711.4 318.9 L711.9 318.6 L712.4 318.2 L712.9 317.9 L713.4 317.6 L713.9 317.2 L714.4 316.9 L714.9 316.5 L715.4 316.2 L715.9 315.8 L716.4 315.5 L716.9 315.2 L717.4 314.8 L717.9 314.5 L718.4 314.1 L718.9 313.8 L719.4 313.4 L719.9 313.0 L720.4 312.7 L720.9 312.3 L721.4 312.0 L721.9 311.6 L722.4 311.2 L722.9 310.9 L723.4 310.5 L723.9 310.1 L724.4 309.8 L724.9 309.4 L725.4 309.0 L725.9 308.6 L726.4 308.3 L726.9 307.9 L727.4 307.5 L727.9 307.1 L728.4 306.7 L728.9 306.3 L729.4 306.0 L729.9 305.6 L730.4 305.2 L730.9 304.8 L731.4 304.4 L731.9 304.0 L732.4 303.6 L732.9 303.2 L733.4 302.7 L733.9 302.3 L734.4 301.9 L734.9 301.5 L735.4 301.1 L735.9 300.7 L736.4 300.3 L736.9 299.8 L737.4 299.4 L737.9 299.0 L738.4 298.6 L738.9 298.1 L739.4 297.7 L739.9 297.3 L740.4 296.8 L740.9 296.4 L741.4 295.9 L741.9 295.5 L742.4 295.0 L742.9 294.6 L743.4 294.1 L743.9 293.7 L744.4 293.2 L744.9 292.8 L745.4 292.3 L745.9 291.8 L746.4 291.4 L746.9 290.9 L747.4 290.4 L747.9 289.9 L748.4 289.5 L748.9 289.0 L749.4 288.5 L749.9 288.0 L750.4 287.5 L750.9 287.0 L751.4 286.5 L751.9 286.0 L752.4 285.5 L752.9 285.0 L753.4 284.5 L753.9 284.0 L754.4 283.4 L754.9 282.9 L755.4 282.4 L755.9 281.9 L756.4 281.3 L756.9 280.8 L757.4 280.3 L757.9 279.7 L758.4 279.2 L758.9 278.7 L759.4 278.1 L759.9 277.6 L760.4 277.0 L760.9 276.5 L761.4 276.0 L761.9 275.4 L762.4 274.9 L762.9 274.3 L763.4 273.8 L763.9 273.2 L764.4 272.7 L764.9 272.2 L765.4 271.6 L765.9 271.1 L766.4 270.5 L766.9 270.0 L767.4 269.5 L767.9 268.9 L768.4 268.4 L768.9 267.9 L769.4 267.3 L769.9 266.8 L770.4 266.2 L770.9 265.7 L771.4 265.1 L771.9 264.5 L772.4 264.0 L772.9 263.4 L773.4 262.8 L773.9 262.2 L774.4 261.6 L774.9 261.0 L775.4 260.4 L775.9 259.8 L776.4 259.1 L776.9 258.5 L777.4 257.8 L777.9 257.1 L778.4 256.4 L778.9 255.7 L779.4 255.0 L779.9 254.2 L780.4 253.4 L780.9 252.6 L781.4 251.8 L781.9 251.0 L782.4 250.2 L782.9 249.3 L783.4 248.5 L783.9 247.6 L784.4 246.7 L784.9 245.8 L785.4 244.9 L785.9 243.9 L786.4 243.0 L786.9 242.0 L787.4 241.1 L787.9 240.1 L788.4 239.1 L788.9 238.2 L789.4 237.2 L789.9 236.2 L790.4 235.2 L790.9 234.2 L791.4 233.1 L791.9 232.0 L792.4 230.9 L792.9 229.8 L793.4 228.7 L793.9 227.5 L794.4 226.4 L794.9 225.2 L795.4 224.0 L795.9 222.8 L796.4 221.7 L796.9 220.5 L797.4 219.4 L797.9 218.3 L798.4 217.2 L798.9 216.2 L799.4 215.2 L799.9 214.0 L800.4 212.8 L800.9 211.6 L801.4 210.4 L801.9 209.4 L802.4 208.5 L802.9 207.8 L803.4 207.3 L803.9 207.0 L804.4 207.0 L804.9 207.1 L805.4 207.3 L805.9 207.6 L806.4 208.0 L806.9 208.5 L807.4 209.0 L807.9 209.6 L808.4 210.2 L808.9 210.9 L809.4 211.6 L809.9 212.4 L810.4 213.4 L810.9 214.6 L811.4 215.9 L811.9 217.2 L812.4 218.7 L812.9 220.1 L813.4 221.6 L813.9 223.0 L814.4 224.3 L814.9 225.6 L815.4 226.7 L815.9 227.8 L816.4 228.8 L816.9 229.7 L817.4 230.6 L817.9 231.6 L818.4 232.5 L818.9 233.3 L819.4 234.2 L819.9 235.0 L820.4 235.9 L820.9 236.7 L821.4 237.5 L821.9 238.2 L822.4 239.0 L822.9 239.8 L823.4 240.5 L823.9 241.2 L824.4 241.9 L824.9 242.6 L825.4 243.2 L825.9 243.9 L826.4 244.5 L826.9 245.1 L827.4 245.7 L827.9 246.3 L828.4 246.9 L828.9 247.4 L829.4 248.0 L829.9 248.5 L830.4 249.1 L830.9 249.6 L831.4 250.1 L831.9 250.5 L832.4 251.0 L832.9 251.5 L833.4 251.9 L833.9 252.3 L834.4 252.8 L834.9 253.2 L835.4 253.5 L835.9 253.9 L836.4 254.3 L836.9 254.6 L837.4 254.9 L837.9 255.2 L838.4 255.5 L838.9 255.8 L839.4 256.1 L839.9 256.4 L840.4 256.6 L840.9 256.9 L841.4 257.1 L841.9 257.4 L842.4 257.6 L842.9 257.9 L843.4 258.1 L843.9 258.4 L844.4 258.6 L844.9 258.8 L845.4 259.1 L845.9 259.3 L846.4 259.5 L846.9 259.7 L847.4 260.0 L847.5 260.0" fill="none" stroke="#000" stroke-width="3.3" stroke-dasharray="10.3 12.5" stroke-linecap="round" stroke-linejoin="round"/><path d="M145.4 512.5 L145.9 512.5 L146.4 512.5 L146.9 512.5 L147.4 512.5 L147.9 512.5 L148.4 512.5 L148.9 512.5 L149.4 512.5 L149.9 512.5 L150.4 512.5 L150.9 512.5 L151.4 512.5 L151.9 512.5 L152.4 512.5 L152.9 512.5 L153.4 512.5 L153.9 512.5 L154.4 512.5 L154.9 512.5 L155.4 512.5 L155.9 512.5 L156.4 512.5 L156.9 512.5 L157.4 512.5 L157.9 512.5 L158.4 512.5 L158.9 512.5 L159.4 512.5 L159.9 512.5 L160.4 512.5 L160.9 512.5 L161.4 512.5 L161.9 512.5 L162.4 512.5 L162.9 512.5 L163.4 512.5 L163.9 512.5 L164.4 512.5 L164.9 512.5 L165.4 512.5 L165.9 512.5 L166.4 512.5 L166.9 512.5 L167.4 512.5 L167.9 512.5 L168.4 512.5 L168.9 512.5 L169.4 512.5 L169.9 512.5 L170.4 512.5 L170.9 512.5 L171.4 512.5 L171.9 512.5 L172.4 512.5 L172.9 512.5 L173.4 512.5 L173.9 512.5 L174.4 512.5 L174.9 512.5 L175.4 512.5 L175.9 512.5 L176.4 512.5 L176.9 512.5 L177.4 512.5 L177.9 512.5 L178.4 512.5 L178.9 512.5 L179.4 512.5 L179.9 512.5 L180.4 512.5 L180.9 512.5 L181.4 512.5 L181.9 512.5 L182.4 512.5 L182.9 512.5 L183.4 512.5 L183.9 512.5 L184.4 512.5 L184.9 512.5 L185.4 512.5 L185.9 512.5 L186.4 512.5 L186.9 512.5 L187.4 512.5 L187.9 512.5 L188.4 512.5 L188.9 512.5 L189.4 512.5 L189.9 512.5 L190.4 512.5 L190.9 512.5 L191.4 512.5 L191.9 512.5 L192.4 512.5 L192.9 512.5 L193.4 512.5 L193.9 512.5 L194.4 512.5 L194.9 512.5 L195.4 512.5 L195.9 512.5 L196.4 512.5 L196.9 512.5 L197.4 512.5 L197.9 512.5 L198.4 512.5 L198.9 512.5 L199.4 512.5 L199.9 512.5 L200.4 512.5 L200.9 512.5 L201.4 512.5 L201.9 512.5 L202.4 512.5 L202.9 512.5 L203.4 512.5 L203.9 512.5 L204.4 512.5 L204.9 512.5 L205.4 512.5 L205.9 512.5 L206.4 512.5 L206.9 512.5 L207.4 512.5 L207.9 512.5 L208.4 512.5 L208.9 512.5 L209.4 512.5 L209.9 512.5 L210.4 512.5 L210.9 512.5 L211.4 512.5 L211.9 512.5 L212.4 512.5 L212.9 512.5 L213.4 512.5 L213.9 512.5 L214.4 512.5 L214.9 512.5 L215.4 512.5 L215.9 512.5 L216.4 512.5 L216.9 512.5 L217.4 512.5 L217.9 512.5 L218.4 512.5 L218.9 512.5 L219.4 512.5 L219.9 512.5 L220.4 512.5 L220.9 512.5 L221.4 512.5 L221.9 512.5 L222.4 512.5 L222.9 512.5 L223.4 512.5 L223.9 512.5 L224.4 512.5 L224.9 512.5 L225.4 512.5 L225.9 512.5 L226.4 512.5 L226.9 512.5 L227.4 512.5 L227.9 512.5 L228.4 512.5 L228.9 512.5 L229.4 512.5 L229.9 512.5 L230.4 512.5 L230.9 512.5 L231.4 512.5 L231.9 512.5 L232.4 512.5 L232.9 512.5 L233.4 512.5 L233.9 512.5 L234.4 512.5 L234.9 512.5 L235.4 512.5 L235.9 512.5 L236.4 512.4 L236.9 512.4 L237.4 512.4 L237.9 512.4 L238.4 512.4 L238.9 512.4 L239.4 512.4 L239.9 512.4 L240.4 512.4 L240.9 512.4 L241.4 512.4 L241.9 512.4 L242.4 512.4 L242.9 512.4 L243.4 512.4 L243.9 512.4 L244.4 512.4 L244.9 512.4 L245.4 512.4 L245.9 512.4 L246.4 512.4 L246.9 512.4 L247.4 512.4 L247.9 512.4 L248.4 512.4 L248.9 512.4 L249.4 512.4 L249.9 512.4 L250.4 512.4 L250.9 512.4 L251.4 512.4 L251.9 512.4 L252.4 512.4 L252.9 512.4 L253.4 512.4 L253.9 512.4 L254.4 512.4 L254.9 512.4 L255.4 512.4 L255.9 512.4 L256.4 512.4 L256.9 512.4 L257.4 512.4 L257.9 512.4 L258.4 512.4 L258.9 512.4 L259.4 512.4 L259.9 512.4 L260.4 512.4 L260.9 512.4 L261.4 512.4 L261.9 512.4 L262.4 512.4 L262.9 512.4 L263.4 512.4 L263.9 512.4 L264.4 512.4 L264.9 512.4 L265.4 512.4 L265.9 512.4 L266.4 512.4 L266.9 512.4 L267.4 512.4 L267.9 512.4 L268.4 512.4 L268.9 512.4 L269.4 512.4 L269.9 512.4 L270.4 512.4 L270.9 512.4 L271.4 512.4 L271.9 512.4 L272.4 512.4 L272.9 512.3 L273.4 512.3 L273.9 512.3 L274.4 512.3 L274.9 512.3 L275.4 512.3 L275.9 512.3 L276.4 512.3 L276.9 512.3 L277.4 512.3 L277.9 512.3 L278.4 512.3 L278.9 512.3 L279.4 512.3 L279.9 512.3 L280.4 512.3 L280.9 512.3 L281.4 512.3 L281.9 512.3 L282.4 512.3 L282.9 512.3 L283.4 512.3 L283.9 512.3 L284.4 512.3 L284.9 512.3 L285.4 512.3 L285.9 512.3 L286.4 512.3 L286.9 512.3 L287.4 512.3 L287.9 512.3 L288.4 512.3 L288.9 512.3 L289.4 512.3 L289.9 512.3 L290.4 512.3 L290.9 512.2 L291.4 512.2 L291.9 512.2 L292.4 512.2 L292.9 512.2 L293.4 512.2 L293.9 512.2 L294.4 512.2 L294.9 512.2 L295.4 512.2 L295.9 512.2 L296.4 512.2 L296.9 512.2 L297.4 512.2 L297.9 512.2 L298.4 512.2 L298.9 512.2 L299.4 512.2 L299.9 512.2 L300.4 512.2 L300.9 512.2 L301.4 512.2 L301.9 512.2 L302.4 512.2 L302.9 512.1 L303.4 512.1 L303.9 512.1 L304.4 512.1 L304.9 512.1 L305.4 512.1 L305.9 512.1 L306.4 512.1 L306.9 512.1 L307.4 512.1 L307.9 512.1 L308.4 512.1 L308.9 512.1 L309.4 512.1 L309.9 512.1 L310.4 512.1 L310.9 512.1 L311.4 512.1 L311.9 512.0 L312.4 512.0 L312.9 512.0 L313.4 512.0 L313.9 512.0 L314.4 512.0 L314.9 512.0 L315.4 512.0 L315.9 512.0 L316.4 512.0 L316.9 512.0 L317.4 512.0 L317.9 512.0 L318.4 512.0 L318.9 512.0 L319.4 511.9 L319.9 511.9 L320.4 511.9 L320.9 511.9 L321.4 511.9 L321.9 511.9 L322.4 511.9 L322.9 511.9 L323.4 511.9 L323.9 511.9 L324.4 511.9 L324.9 511.9 L325.4 511.8 L325.9 511.8 L326.4 511.8 L326.9 511.8 L327.4 511.8 L327.9 511.8 L328.4 511.8 L328.9 511.8 L329.4 511.8 L329.9 511.8 L330.4 511.8 L330.9 511.7 L331.4 511.7 L331.9 511.7 L332.4 511.7 L332.9 511.7 L333.4 511.7 L333.9 511.7 L334.4 511.7 L334.9 511.7 L335.4 511.6 L335.9 511.6 L336.4 511.6 L336.9 511.6 L337.4 511.6 L337.9 511.6 L338.4 511.6 L338.9 511.6 L339.4 511.5 L339.9 511.5 L340.4 511.5 L340.9 511.5 L341.4 511.5 L341.9 511.5 L342.4 511.5 L342.9 511.5 L343.4 511.4 L343.9 511.4 L344.4 511.4 L344.9 511.4 L345.4 511.4 L345.9 511.4 L346.4 511.3 L346.9 511.3 L347.4 511.3 L347.9 511.3 L348.4 511.3 L348.9 511.3 L349.4 511.3 L349.9 511.2 L350.4 511.2 L350.9 511.2 L351.4 511.2 L351.9 511.2 L352.4 511.1 L352.9 511.1 L353.4 511.1 L353.9 511.1 L354.4 511.1 L354.9 511.1 L355.4 511.0 L355.9 511.0 L356.4 511.0 L356.9 511.0 L357.4 511.0 L357.9 510.9 L358.4 510.9 L358.9 510.9 L359.4 510.9 L359.9 510.9 L360.4 510.8 L360.9 510.8 L361.4 510.8 L361.9 510.8 L362.4 510.7 L362.9 510.7 L363.4 510.7 L363.9 510.7 L364.4 510.6 L364.9 510.6 L365.4 510.6 L365.9 510.6 L366.4 510.5 L366.9 510.5 L367.4 510.5 L367.9 510.5 L368.4 510.4 L368.9 510.4 L369.4 510.4 L369.9 510.4 L370.4 510.3 L370.9 510.3 L371.4 510.3 L371.9 510.2 L372.4 510.2 L372.9 510.2 L373.4 510.2 L373.9 510.1 L374.4 510.1 L374.9 510.1 L375.4 510.0 L375.9 510.0 L376.4 510.0 L376.9 509.9 L377.4 509.9 L377.9 509.9 L378.4 509.8 L378.9 509.8 L379.4 509.8 L379.9 509.7 L380.4 509.7 L380.9 509.7 L381.4 509.6 L381.9 509.6 L382.4 509.6 L382.9 509.5 L383.4 509.5 L383.9 509.4 L384.4 509.4 L384.9 509.4 L385.4 509.3 L385.9 509.3 L386.4 509.2 L386.9 509.2 L387.4 509.2 L387.9 509.1 L388.4 509.1 L388.9 509.0 L389.4 509.0 L389.9 508.9 L390.4 508.9 L390.9 508.9 L391.4 508.8 L391.9 508.8 L392.4 508.7 L392.9 508.7 L393.4 508.6 L393.9 508.6 L394.4 508.5 L394.9 508.5 L395.4 508.4 L395.9 508.4 L396.4 508.3 L396.9 508.3 L397.4 508.2 L397.9 508.2 L398.4 508.1 L398.9 508.1 L399.4 508.0 L399.9 508.0 L400.4 507.9 L400.9 507.8 L401.4 507.8 L401.9 507.7 L402.4 507.7 L402.9 507.6 L403.4 507.6 L403.9 507.5 L404.4 507.4 L404.9 507.4 L405.4 507.3 L405.9 507.3 L406.4 507.2 L406.9 507.1 L407.4 507.1 L407.9 507.0 L408.4 506.9 L408.9 506.9 L409.4 506.8 L409.9 506.7 L410.4 506.7 L410.9 506.6 L411.4 506.5 L411.9 506.5 L412.4 506.4 L412.9 506.3 L413.4 506.2 L413.9 506.2 L414.4 506.1 L414.9 506.0 L415.4 505.9 L415.9 505.9 L416.4 505.8 L416.9 505.7 L417.4 505.6 L417.9 505.6 L418.4 505.5 L418.9 505.4 L419.4 505.3 L419.9 505.2 L420.4 505.1 L420.9 505.1 L421.4 505.0 L421.9 504.9 L422.4 504.8 L422.9 504.7 L423.4 504.6 L423.9 504.5 L424.4 504.5 L424.9 504.4 L425.4 504.3 L425.9 504.2 L426.4 504.1 L426.9 504.0 L427.4 503.9 L427.9 503.8 L428.4 503.7 L428.9 503.6 L429.4 503.5 L429.9 503.4 L430.4 503.3 L430.9 503.2 L431.4 503.1 L431.9 503.0 L432.4 502.9 L432.9 502.8 L433.4 502.7 L433.9 502.6 L434.4 502.5 L434.9 502.4 L435.4 502.3 L435.9 502.2 L436.4 502.1 L436.9 502.0 L437.4 501.9 L437.9 501.8 L438.4 501.6 L438.9 501.5 L439.4 501.4 L439.9 501.3 L440.4 501.2 L440.9 501.1 L441.4 500.9 L441.9 500.8 L442.4 500.7 L442.9 500.6 L443.4 500.5 L443.9 500.3 L444.4 500.2 L444.9 500.1 L445.4 500.0 L445.9 499.9 L446.4 499.7 L446.9 499.6 L447.4 499.5 L447.9 499.3 L448.4 499.2 L448.9 499.1 L449.4 499.0 L449.9 498.8 L450.4 498.7 L450.9 498.6 L451.4 498.4 L451.9 498.3 L452.4 498.1 L452.9 498.0 L453.4 497.9 L453.9 497.7 L454.4 497.6 L454.9 497.4 L455.4 497.3 L455.9 497.2 L456.4 497.0 L456.9 496.9 L457.4 496.7 L457.9 496.6 L458.4 496.4 L458.9 496.3 L459.4 496.1 L459.9 496.0 L460.4 495.8 L460.9 495.7 L461.4 495.5 L461.9 495.3 L462.4 495.2 L462.9 495.0 L463.4 494.9 L463.9 494.7 L464.4 494.5 L464.9 494.4 L465.4 494.2 L465.9 494.1 L466.4 493.9 L466.9 493.7 L467.4 493.6 L467.9 493.4 L468.4 493.2 L468.9 493.1 L469.4 492.9 L469.9 492.7 L470.4 492.5 L470.9 492.4 L471.4 492.2 L471.9 492.0 L472.4 491.8 L472.9 491.7 L473.4 491.5 L473.9 491.3 L474.4 491.1 L474.9 491.0 L475.4 490.8 L475.9 490.6 L476.4 490.4 L476.9 490.2 L477.4 490.0 L477.9 489.9 L478.4 489.7 L478.9 489.5 L479.4 489.3 L479.9 489.1 L480.4 488.9 L480.9 488.7 L481.4 488.5 L481.9 488.3 L482.4 488.1 L482.9 488.0 L483.4 487.8 L483.9 487.6 L484.4 487.4 L484.9 487.2 L485.4 487.0 L485.9 486.8 L486.4 486.6 L486.9 486.4 L487.4 486.2 L487.9 486.0 L488.4 485.8 L488.9 485.6 L489.4 485.4 L489.9 485.2 L490.4 485.0 L490.9 484.7 L491.4 484.5 L491.9 484.3 L492.4 484.1 L492.9 483.9 L493.4 483.7 L493.9 483.5 L494.4 483.3 L494.9 483.1 L495.4 482.9 L495.9 482.6 L496.4 482.4 L496.9 482.2 L497.4 482.0 L497.9 481.8 L498.4 481.6 L498.9 481.3 L499.4 481.1 L499.9 480.9 L500.4 480.7 L500.9 480.5 L501.4 480.3 L501.9 480.0 L502.4 479.8 L502.9 479.6 L503.4 479.4 L503.9 479.1 L504.4 478.9 L504.9 478.7 L505.4 478.5 L505.9 478.2 L506.4 478.0 L506.9 477.8 L507.4 477.6 L507.9 477.3 L508.4 477.1 L508.9 476.9 L509.4 476.6 L509.9 476.4 L510.4 476.2 L510.9 475.9 L511.4 475.7 L511.9 475.5 L512.4 475.2 L512.9 475.0 L513.4 474.8 L513.9 474.5 L514.4 474.3 L514.9 474.1 L515.4 473.8 L515.9 473.6 L516.4 473.3 L516.9 473.1 L517.4 472.9 L517.9 472.6 L518.4 472.4 L518.9 472.1 L519.4 471.9 L519.9 471.7 L520.4 471.4 L520.9 471.2 L521.4 470.9 L521.9 470.7 L522.4 470.4 L522.9 470.2 L523.4 470.0 L523.9 469.7 L524.4 469.5 L524.9 469.2 L525.4 469.0 L525.9 468.7 L526.4 468.5 L526.9 468.2 L527.4 468.0 L527.9 467.7 L528.4 467.5 L528.9 467.2 L529.4 467.0 L529.9 466.7 L530.4 466.5 L530.9 466.2 L531.4 466.0 L531.9 465.7 L532.4 465.5 L532.9 465.2 L533.4 464.9 L533.9 464.7 L534.4 464.4 L534.9 464.2 L535.4 463.9 L535.9 463.7 L536.4 463.4 L536.9 463.2 L537.4 462.9 L537.9 462.6 L538.4 462.4 L538.9 462.1 L539.4 461.9 L539.9 461.6 L540.4 461.4 L540.9 461.1 L541.4 460.8 L541.9 460.6 L542.4 460.3 L542.9 460.0 L543.4 459.8 L543.9 459.5 L544.4 459.3 L544.9 459.0 L545.4 458.7 L545.9 458.5 L546.4 458.2 L546.9 457.9 L547.4 457.7 L547.9 457.4 L548.4 457.2 L548.9 456.9 L549.4 456.6 L549.9 456.4 L550.4 456.1 L550.9 455.8 L551.4 455.6 L551.9 455.3 L552.4 455.0 L552.9 454.8 L553.4 454.5 L553.9 454.2 L554.4 454.0 L554.9 453.7 L555.4 453.4 L555.9 453.1 L556.4 452.9 L556.9 452.6 L557.4 452.3 L557.9 452.1 L558.4 451.8 L558.9 451.5 L559.4 451.3 L559.9 451.0 L560.4 450.7 L560.9 450.4 L561.4 450.2 L561.9 449.9 L562.4 449.6 L562.9 449.3 L563.4 449.1 L563.9 448.8 L564.4 448.5 L564.9 448.3 L565.4 448.0 L565.9 447.7 L566.4 447.4 L566.9 447.2 L567.4 446.9 L567.9 446.6 L568.4 446.3 L568.9 446.1 L569.4 445.8 L569.9 445.5 L570.4 445.2 L570.9 444.9 L571.4 444.7 L571.9 444.4 L572.4 444.1 L572.9 443.8 L573.4 443.6 L573.9 443.3 L574.4 443.0 L574.9 442.7 L575.4 442.4 L575.9 442.2 L576.4 441.9 L576.9 441.6 L577.4 441.3 L577.9 441.0 L578.4 440.8 L578.9 440.5 L579.4 440.2 L579.9 439.9 L580.4 439.6 L580.9 439.4 L581.4 439.1 L581.9 438.8 L582.4 438.5 L582.9 438.2 L583.4 437.9 L583.9 437.7 L584.4 437.4 L584.9 437.1 L585.4 436.8 L585.9 436.5 L586.4 436.2 L586.9 436.0 L587.4 435.7 L587.9 435.4 L588.4 435.1 L588.9 434.8 L589.4 434.5 L589.9 434.3 L590.4 434.0 L590.9 433.7 L591.4 433.4 L591.9 433.1 L592.4 432.8 L592.9 432.5 L593.4 432.3 L593.9 432.0 L594.4 431.7 L594.9 431.4 L595.4 431.1 L595.9 430.8 L596.4 430.5 L596.9 430.2 L597.4 430.0 L597.9 429.7 L598.4 429.4 L598.9 429.1 L599.4 428.8 L599.9 428.5 L600.4 428.2 L600.9 427.9 L601.4 427.7 L601.9 427.4 L602.4 427.1 L602.9 426.8 L603.4 426.5 L603.9 426.2 L604.4 425.9 L604.9 425.6 L605.4 425.3 L605.9 425.0 L606.4 424.8 L606.9 424.5 L607.4 424.2 L607.9 423.9 L608.4 423.6 L608.9 423.3 L609.4 423.0 L609.9 422.7 L610.4 422.4 L610.9 422.1 L611.4 421.8 L611.9 421.5 L612.4 421.2 L612.9 421.0 L613.4 420.7 L613.9 420.4 L614.4 420.1 L614.9 419.8 L615.4 419.5 L615.9 419.2 L616.4 418.9 L616.9 418.6 L617.4 418.3 L617.9 418.0 L618.4 417.7 L618.9 417.4 L619.4 417.1 L619.9 416.8 L620.4 416.5 L620.9 416.2 L621.4 416.0 L621.9 415.7 L622.4 415.4 L622.9 415.1 L623.4 414.8 L623.9 414.5 L624.4 414.2 L624.9 413.9 L625.4 413.6 L625.9 413.3 L626.4 413.0 L626.9 412.7 L627.4 412.4 L627.9 412.1 L628.4 411.8 L628.9 411.5 L629.4 411.2 L629.9 410.9 L630.4 410.6 L630.9 410.3 L631.4 410.0 L631.9 409.7 L632.4 409.4 L632.9 409.1 L633.4 408.8 L633.9 408.5 L634.4 408.2 L634.9 407.9 L635.4 407.6 L635.9 407.3 L636.4 407.0 L636.9 406.7 L637.4 406.4 L637.9 406.1 L638.4 405.8 L638.9 405.5 L639.4 405.2 L639.9 404.9 L640.4 404.6 L640.9 404.3 L641.4 404.0 L641.9 403.7 L642.4 403.4 L642.9 403.1 L643.4 402.8 L643.9 402.5 L644.4 402.2 L644.9 401.9 L645.4 401.6 L645.9 401.3 L646.4 401.0 L646.9 400.7 L647.4 400.4 L647.9 400.1 L648.4 399.8 L648.9 399.5 L649.4 399.2 L649.9 398.9 L650.4 398.6 L650.9 398.3 L651.4 398.0 L651.9 397.7 L652.4 397.3 L652.9 397.0 L653.4 396.7 L653.9 396.4 L654.4 396.1 L654.9 395.8 L655.4 395.5 L655.9 395.2 L656.4 394.9 L656.9 394.6 L657.4 394.3 L657.9 394.0 L658.4 393.7 L658.9 393.4 L659.4 393.1 L659.9 392.8 L660.4 392.5 L660.9 392.2 L661.4 391.8 L661.9 391.5 L662.4 391.2 L662.9 390.9 L663.4 390.6 L663.9 390.3 L664.4 390.0 L664.9 389.7 L665.4 389.4 L665.9 389.1 L666.4 388.8 L666.9 388.5 L667.4 388.2 L667.9 387.8 L668.4 387.5 L668.9 387.2 L669.4 386.9 L669.9 386.6 L670.4 386.3 L670.9 386.0 L671.4 385.7 L671.9 385.4 L672.4 385.1 L672.9 384.8 L673.4 384.4 L673.9 384.1 L674.4 383.8 L674.9 383.5 L675.4 383.2 L675.9 382.9 L676.4 382.6 L676.9 382.3 L677.4 382.0 L677.9 381.7 L678.4 381.3 L678.9 381.0 L679.4 380.7 L679.9 380.4 L680.4 380.1 L680.9 379.8 L681.4 379.5 L681.9 379.2 L682.4 378.8 L682.9 378.5 L683.4 378.2 L683.9 377.9 L684.4 377.6 L684.9 377.3 L685.4 377.0 L685.9 376.7 L686.4 376.3 L686.9 376.0 L687.4 375.7 L687.9 375.4 L688.4 375.1 L688.9 374.8 L689.4 374.5 L689.9 374.2 L690.4 373.8 L690.9 373.5 L691.4 373.2 L691.9 372.9 L692.4 372.6 L692.9 372.3 L693.4 371.9 L693.9 371.6 L694.4 371.3 L694.9 371.0 L695.4 370.7 L695.9 370.4 L696.4 370.1 L696.9 369.7 L697.4 369.4 L697.9 369.1 L698.4 368.8 L698.9 368.5 L699.4 368.2 L699.9 367.8 L700.4 367.5 L700.9 367.2 L701.4 366.9 L701.9 366.6 L702.4 366.3 L702.9 365.9 L703.4 365.6 L703.9 365.3 L704.4 365.0 L704.9 364.7 L705.4 364.4 L705.9 364.0 L706.4 363.7 L706.9 363.4 L707.4 363.1 L707.9 362.8 L708.4 362.4 L708.9 362.1 L709.4 361.8 L709.9 361.5 L710.4 361.2 L710.9 360.8 L711.4 360.5 L711.9 360.2 L712.4 359.9 L712.9 359.6 L713.4 359.3 L713.9 358.9 L714.4 358.6 L714.9 358.3 L715.4 358.0 L715.9 357.6 L716.4 357.3 L716.9 357.0 L717.4 356.7 L717.9 356.4 L718.4 356.0 L718.9 355.7 L719.4 355.4 L719.9 355.1 L720.4 354.8 L720.9 354.4 L721.4 354.1 L721.9 353.8 L722.4 353.5 L722.9 353.1 L723.4 352.8 L723.9 352.5 L724.4 352.2 L724.9 351.9 L725.4 351.5 L725.9 351.2 L726.4 350.9 L726.9 350.6 L727.4 350.2 L727.9 349.9 L728.4 349.6 L728.9 349.3 L729.4 348.9 L729.9 348.6 L730.4 348.3 L730.9 348.0 L731.4 347.7 L731.9 347.3 L732.4 347.0 L732.9 346.7 L733.4 346.4 L733.9 346.0 L734.4 345.7 L734.9 345.4 L735.4 345.1 L735.9 344.7 L736.4 344.4 L736.9 344.1 L737.4 343.8 L737.9 343.4 L738.4 343.1 L738.9 342.8 L739.4 342.4 L739.9 342.1 L740.4 341.8 L740.9 341.5 L741.4 341.1 L741.9 340.8 L742.4 340.5 L742.9 340.2 L743.4 339.8 L743.9 339.5 L744.4 339.2 L744.9 338.9 L745.4 338.5 L745.9 338.2 L746.4 337.9 L746.9 337.5 L747.4 337.2 L747.9 336.9 L748.4 336.6 L748.9 336.2 L749.4 335.9 L749.9 335.6 L750.4 335.2 L750.9 334.9 L751.4 334.6 L751.9 334.2 L752.4 333.9 L752.9 333.5 L753.4 333.2 L753.9 332.9 L754.4 332.5 L754.9 332.2 L755.4 331.8 L755.9 331.4 L756.4 331.1 L756.9 330.7 L757.4 330.4 L757.9 330.0 L758.4 329.6 L758.9 329.3 L759.4 328.9 L759.9 328.5 L760.4 328.1 L760.9 327.7 L761.4 327.4 L761.9 327.0 L762.4 326.6 L762.9 326.2 L763.4 325.8 L763.9 325.4 L764.4 325.0 L764.9 324.5 L765.4 324.1 L765.9 323.7 L766.4 323.3 L766.9 322.9 L767.4 322.4 L767.9 322.0 L768.4 321.6 L768.9 321.1 L769.4 320.7 L769.9 320.2 L770.4 319.8 L770.9 319.4 L771.4 319.0 L771.9 318.7 L772.4 318.3 L772.9 317.9 L773.4 317.5 L773.9 317.1 L774.4 316.7 L774.9 316.3 L775.4 315.9 L775.9 315.5 L776.4 315.1 L776.9 314.7 L777.4 314.3 L777.9 313.9 L778.4 313.5 L778.9 313.1 L779.4 312.7 L779.9 312.4 L780.4 312.0 L780.9 311.6 L781.4 311.2 L781.9 310.7 L782.4 310.3 L782.9 309.9 L783.4 309.5 L783.9 309.1 L784.4 308.7 L784.9 308.3 L785.4 307.9 L785.9 307.5 L786.4 307.1 L786.9 306.6 L787.4 306.2 L787.9 305.8 L788.4 305.4 L788.9 304.9 L789.4 304.5 L789.9 304.1 L790.4 303.7 L790.9 303.2 L791.4 302.8 L791.9 302.3 L792.4 301.9 L792.9 301.5 L793.4 301.0 L793.9 300.6 L794.4 300.1 L794.9 299.7 L795.4 299.3 L795.9 298.8 L796.4 298.4 L796.9 297.9 L797.4 297.4 L797.9 297.0 L798.4 296.5 L798.9 296.1 L799.4 295.6 L799.9 295.1 L800.4 294.7 L800.9 294.2 L801.4 293.7 L801.9 293.3 L802.4 292.8 L802.9 292.3 L803.4 291.8 L803.9 291.3 L804.4 290.8 L804.9 290.3 L805.4 289.8 L805.9 289.3 L806.4 288.7 L806.9 288.2 L807.4 287.7 L807.9 287.1 L808.4 286.6 L808.9 286.0 L809.4 285.5 L809.9 284.9 L810.4 284.4 L810.9 283.8 L811.4 283.2 L811.9 282.6 L812.4 282.0 L812.9 281.4 L813.4 280.8 L813.9 280.2 L814.4 279.6 L814.9 279.0 L815.4 278.3 L815.9 277.7 L816.4 277.0 L816.9 276.4 L817.4 275.7 L817.9 275.0 L818.4 274.3 L818.9 273.6 L819.4 272.9 L819.9 272.2 L820.4 271.4 L820.9 270.7 L821.4 269.9 L821.9 269.1 L822.4 268.3 L822.9 267.5 L823.4 266.7 L823.9 265.8 L824.4 265.0 L824.9 264.1 L825.4 263.2 L825.9 262.3 L826.4 261.5 L826.9 260.6 L827.4 259.7 L827.9 258.8 L828.4 257.9 L828.9 257.0 L829.4 256.1 L829.9 255.2 L830.4 254.3 L830.9 253.4 L831.4 252.5 L831.9 251.6 L832.4 250.6 L832.9 249.7 L833.4 248.8 L833.9 247.9 L834.4 246.9 L834.9 246.0 L835.4 245.0 L835.9 244.0 L836.4 243.1 L836.9 242.1 L837.4 241.2 L837.9 240.2 L838.4 239.2 L838.9 238.2 L839.4 237.2 L839.9 236.2 L840.4 235.2 L840.9 234.2 L841.4 233.1 L841.9 232.1 L842.4 231.1 L842.9 230.1 L843.4 229.1 L843.9 228.2 L844.4 227.3 L844.9 226.4 L845.4 225.5 L845.9 224.7 L846.4 223.8 L846.9 223.0 L847.4 222.2 L847.5 222.0" fill="none" stroke="#000" stroke-width="3.3" stroke-dasharray="10.3 12.5" stroke-linecap="round" stroke-linejoin="round"/></g><g stroke="#222" stroke-width="1.5"><line x1="387" y1="142.2" x2="545.9" y2="283.5"/><line x1="387" y1="165.3" x2="539.3" y2="299.4"/><line x1="387" y1="192.9" x2="540.7" y2="328.3"/><line x1="387" y1="220.7" x2="541.6" y2="358.2"/><line x1="782.2" y1="378.4" x2="700.1" y2="305"/><line x1="782.2" y1="403.5" x2="698.8" y2="327.6"/><line x1="782.2" y1="431.7" x2="679.4" y2="340.1"/></g><g font-family="'Liberation Sans', sans-serif"><text x="170" y="66.4" font-size="20.6" text-anchor="start" font-weight="normal" font-style="italic" fill="#000" textLength="154" lengthAdjust="spacingAndGlyphs" >Common mode</text><text x="268" y="99" font-size="20.6" text-anchor="start" font-weight="normal" font-style="italic" fill="#000" textLength="113" lengthAdjust="spacingAndGlyphs" >Impedance</text><text x="541" y="510.1" font-size="20.6" text-anchor="start" font-weight="normal" font-style="italic" fill="#000" textLength="179" lengthAdjust="spacingAndGlyphs" >Differential mode</text><text x="640" y="542.5" font-size="20.6" text-anchor="start" font-weight="normal" font-style="italic" fill="#000" textLength="113" lengthAdjust="spacingAndGlyphs" >Impedance</text><text x="229.5" y="146.2" font-size="18" text-anchor="start" font-weight="normal" font-style="normal" fill="#222" textLength="149" lengthAdjust="spacingAndGlyphs" >DLP0NSN121HL2</text><text x="229.5" y="172.89999999999998" font-size="18" text-anchor="start" font-weight="normal" font-style="normal" fill="#222" textLength="149" lengthAdjust="spacingAndGlyphs" >DLP0NSN900HL2</text><text x="229.5" y="199.6" font-size="18" text-anchor="start" font-weight="normal" font-style="normal" fill="#222" textLength="149" lengthAdjust="spacingAndGlyphs" >DLP0NSN670HL2</text><text x="229.5" y="226.29999999999998" font-size="18" text-anchor="start" font-weight="normal" font-style="normal" fill="#222" textLength="149" lengthAdjust="spacingAndGlyphs" >DLP0NSN350HL2</text><text x="787" y="386.2" font-size="18" text-anchor="start" font-weight="normal" font-style="normal" fill="#222" textLength="148" lengthAdjust="spacingAndGlyphs" >DLP0NSN121HL2</text><text x="787" y="413.2" font-size="18" text-anchor="start" font-weight="normal" font-style="normal" fill="#222" textLength="148" lengthAdjust="spacingAndGlyphs" >DLP0NSN900HL2</text><text x="787" y="440.2" font-size="18" text-anchor="start" font-weight="normal" font-style="normal" fill="#222" textLength="148" lengthAdjust="spacingAndGlyphs" >DLP0NSN670HL2</text><text x="787" y="467.2" font-size="18" text-anchor="start" font-weight="normal" font-style="normal" fill="#222" textLength="148" lengthAdjust="spacingAndGlyphs" >DLP0NSN350HL2</text><g transform="translate(114.0,569.3) scale(0.95,1)"><text x="0" y="0" font-size="30.5" text-anchor="end" font-weight="normal" font-style="normal" fill="#000" >1</text></g><g transform="translate(145.4,610.6) scale(0.92,1)"><text x="0" y="0" font-size="32" text-anchor="middle" font-weight="normal" font-style="normal" fill="#000" >1</text></g><g transform="translate(114.0,435.7) scale(0.95,1)"><text x="0" y="0" font-size="30.5" text-anchor="end" font-weight="normal" font-style="normal" fill="#000" >10</text></g><g transform="translate(347.3,610.6) scale(0.92,1)"><text x="0" y="0" font-size="32" text-anchor="middle" font-weight="normal" font-style="normal" fill="#000" >10</text></g><g transform="translate(114.0,302.1) scale(0.95,1)"><text x="0" y="0" font-size="30.5" text-anchor="end" font-weight="normal" font-style="normal" fill="#000" >100</text></g><g transform="translate(549.2,610.6) scale(0.92,1)"><text x="0" y="0" font-size="32" text-anchor="middle" font-weight="normal" font-style="normal" fill="#000" >100</text></g><g transform="translate(114.0,168.5) scale(0.95,1)"><text x="0" y="0" font-size="30.5" text-anchor="end" font-weight="normal" font-style="normal" fill="#000" >1000</text></g><g transform="translate(751.1,610.6) scale(0.92,1)"><text x="0" y="0" font-size="32" text-anchor="middle" font-weight="normal" font-style="normal" fill="#000" >1000</text></g><g transform="translate(114.0,34.9) scale(0.95,1)"><text x="0" y="0" font-size="30.5" text-anchor="end" font-weight="normal" font-style="normal" fill="#000" >10000</text></g><g transform="translate(953.0,610.6) scale(0.92,1)"><text x="0" y="0" font-size="32" text-anchor="middle" font-weight="normal" font-style="normal" fill="#000" >10000</text></g><text x="415" y="640.7" font-size="27.6" text-anchor="start" font-weight="bold" font-style="normal" fill="#000" textLength="222" lengthAdjust="spacingAndGlyphs" >Frequency[MHz]</text><g transform="translate(34.2,367) rotate(-90)"><text x="0" y="0" font-size="28" text-anchor="start" font-weight="bold" font-style="normal" fill="#000" textLength="195" lengthAdjust="spacingAndGlyphs" >Impedance[Ω]</text></g></g><g><line x1="234.4" y1="685.2" x2="234.4" y2="1178.0" stroke="#b9b9b9" stroke-width="1.3"/><line x1="269.8" y1="685.2" x2="269.8" y2="1178.0" stroke="#b9b9b9" stroke-width="1.3"/><line x1="295.0" y1="685.2" x2="295.0" y2="1178.0" stroke="#b9b9b9" stroke-width="1.3"/><line x1="314.5" y1="685.2" x2="314.5" y2="1178.0" stroke="#b9b9b9" stroke-width="1.3"/><line x1="330.4" y1="685.2" x2="330.4" y2="1178.0" stroke="#b9b9b9" stroke-width="1.3"/><line x1="343.9" y1="685.2" x2="343.9" y2="1178.0" stroke="#b9b9b9" stroke-width="1.3"/><line x1="355.6" y1="685.2" x2="355.6" y2="1178.0" stroke="#b9b9b9" stroke-width="1.3"/><line x1="365.9" y1="685.2" x2="365.9" y2="1178.0" stroke="#b9b9b9" stroke-width="1.3"/><line x1="435.7" y1="685.2" x2="435.7" y2="1178.0" stroke="#b9b9b9" stroke-width="1.3"/><line x1="471.1" y1="685.2" x2="471.1" y2="1178.0" stroke="#b9b9b9" stroke-width="1.3"/><line x1="496.3" y1="685.2" x2="496.3" y2="1178.0" stroke="#b9b9b9" stroke-width="1.3"/><line x1="515.8" y1="685.2" x2="515.8" y2="1178.0" stroke="#b9b9b9" stroke-width="1.3"/><line x1="531.7" y1="685.2" x2="531.7" y2="1178.0" stroke="#b9b9b9" stroke-width="1.3"/><line x1="545.2" y1="685.2" x2="545.2" y2="1178.0" stroke="#b9b9b9" stroke-width="1.3"/><line x1="556.9" y1="685.2" x2="556.9" y2="1178.0" stroke="#b9b9b9" stroke-width="1.3"/><line x1="567.2" y1="685.2" x2="567.2" y2="1178.0" stroke="#b9b9b9" stroke-width="1.3"/><line x1="637.0" y1="685.2" x2="637.0" y2="1178.0" stroke="#b9b9b9" stroke-width="1.3"/><line x1="672.4" y1="685.2" x2="672.4" y2="1178.0" stroke="#b9b9b9" stroke-width="1.3"/><line x1="697.6" y1="685.2" x2="697.6" y2="1178.0" stroke="#b9b9b9" stroke-width="1.3"/><line x1="717.1" y1="685.2" x2="717.1" y2="1178.0" stroke="#b9b9b9" stroke-width="1.3"/><line x1="733.0" y1="685.2" x2="733.0" y2="1178.0" stroke="#b9b9b9" stroke-width="1.3"/><line x1="746.5" y1="685.2" x2="746.5" y2="1178.0" stroke="#b9b9b9" stroke-width="1.3"/><line x1="758.2" y1="685.2" x2="758.2" y2="1178.0" stroke="#b9b9b9" stroke-width="1.3"/><line x1="768.5" y1="685.2" x2="768.5" y2="1178.0" stroke="#b9b9b9" stroke-width="1.3"/><line x1="838.3" y1="685.2" x2="838.3" y2="1178.0" stroke="#b9b9b9" stroke-width="1.3"/><line x1="873.7" y1="685.2" x2="873.7" y2="1178.0" stroke="#b9b9b9" stroke-width="1.3"/><line x1="898.9" y1="685.2" x2="898.9" y2="1178.0" stroke="#b9b9b9" stroke-width="1.3"/><line x1="918.4" y1="685.2" x2="918.4" y2="1178.0" stroke="#b9b9b9" stroke-width="1.3"/><line x1="934.3" y1="685.2" x2="934.3" y2="1178.0" stroke="#b9b9b9" stroke-width="1.3"/><line x1="947.8" y1="685.2" x2="947.8" y2="1178.0" stroke="#b9b9b9" stroke-width="1.3"/><line x1="959.5" y1="685.2" x2="959.5" y2="1178.0" stroke="#b9b9b9" stroke-width="1.3"/><line x1="969.8" y1="685.2" x2="969.8" y2="1178.0" stroke="#b9b9b9" stroke-width="1.3"/><line x1="162.8" y1="685.2" x2="979.0" y2="685.2" stroke="#8c8c8c" stroke-width="1.4"/><line x1="162.8" y1="767.3" x2="979.0" y2="767.3" stroke="#8c8c8c" stroke-width="1.4"/><line x1="162.8" y1="849.5" x2="979.0" y2="849.5" stroke="#8c8c8c" stroke-width="1.4"/><line x1="162.8" y1="931.6" x2="979.0" y2="931.6" stroke="#8c8c8c" stroke-width="1.4"/><line x1="162.8" y1="1013.7" x2="979.0" y2="1013.7" stroke="#8c8c8c" stroke-width="1.4"/><line x1="162.8" y1="1095.9" x2="979.0" y2="1095.9" stroke="#8c8c8c" stroke-width="1.4"/><line x1="162.8" y1="1178.0" x2="979.0" y2="1178.0" stroke="#8c8c8c" stroke-width="1.4"/><line x1="173.8" y1="685.2" x2="173.8" y2="1189.0" stroke="#8c8c8c" stroke-width="1.4"/><line x1="375.1" y1="685.2" x2="375.1" y2="1189.0" stroke="#8c8c8c" stroke-width="1.4"/><line x1="576.4" y1="685.2" x2="576.4" y2="1189.0" stroke="#8c8c8c" stroke-width="1.4"/><line x1="777.7" y1="685.2" x2="777.7" y2="1189.0" stroke="#8c8c8c" stroke-width="1.4"/><line x1="979.0" y1="685.2" x2="979.0" y2="1189.0" stroke="#8c8c8c" stroke-width="1.4"/></g><rect x="374" y="923" width="191" height="135" fill="#fff"/><g><path d="M173.8 690.3 L174.6 690.3 L177.0 690.3 L180.7 690.4 L185.6 690.5 L191.5 690.6 L198.3 690.7 L205.9 690.8 L214.0 691.0 L222.5 691.1 L231.3 691.3 L240.1 691.5 L248.9 691.7 L257.4 691.9 L265.6 692.1 L273.1 692.3 L280.0 692.6 L286.1 692.8 L292.3 693.0 L298.5 693.2 L304.7 693.5 L310.8 693.7 L317.0 694.0 L323.1 694.3 L329.2 694.5 L335.3 694.8 L341.2 695.1 L347.1 695.4 L353.0 695.8 L358.7 696.1 L364.3 696.5 L369.8 696.9 L375.1 697.3 L379.3 697.6 L383.4 697.9 L387.6 698.3 L391.6 698.6 L395.6 699.0 L399.6 699.4 L403.5 699.7 L407.3 700.1 L411.1 700.5 L414.8 700.9 L418.5 701.4 L422.1 701.8 L425.6 702.3 L429.0 702.8 L432.4 703.3 L435.7 703.8 L438.2 704.2 L440.6 704.6 L443.0 705.1 L445.4 705.5 L447.7 705.9 L449.9 706.4 L452.1 706.8 L454.3 707.3 L456.5 707.8 L458.6 708.3 L460.7 708.8 L462.8 709.3 L464.9 709.9 L466.9 710.4 L468.9 711.0 L470.9 711.6 L472.6 712.2 L474.3 712.7 L475.9 713.3 L477.6 713.8 L479.2 714.4 L480.8 715.0 L482.4 715.6 L483.9 716.2 L485.5 716.9 L487.0 717.5 L488.5 718.1 L490.0 718.8 L491.5 719.4 L493.0 720.1 L494.5 720.8 L495.9 721.4 L497.2 722.0 L498.5 722.6 L499.7 723.2 L501.0 723.8 L502.2 724.5 L503.4 725.1 L504.6 725.7 L505.8 726.4 L507.0 727.0 L508.2 727.7 L509.4 728.3 L510.5 729.0 L511.7 729.6 L512.9 730.3 L514.0 730.9 L515.2 731.6 L516.3 732.2 L517.5 732.9 L518.6 733.6 L519.7 734.2 L520.8 734.9 L521.9 735.6 L523.0 736.2 L524.1 736.9 L525.2 737.6 L526.3 738.3 L527.4 739.0 L528.5 739.6 L529.5 740.3 L530.6 741.0 L531.6 741.7 L532.6 742.4 L533.5 743.0 L534.4 743.6 L535.3 744.2 L536.1 744.8 L537.0 745.4 L537.8 746.0 L538.7 746.5 L539.5 747.1 L540.3 747.7 L541.2 748.4 L542.0 749.0 L542.8 749.6 L543.6 750.2 L544.4 750.8 L545.3 751.5 L546.1 752.1 L547.0 752.8 L547.8 753.5 L548.7 754.2 L549.5 754.9 L550.3 755.6 L551.2 756.3 L552.0 757.0 L552.9 757.7 L553.7 758.4 L554.5 759.2 L555.4 759.9 L556.2 760.7 L557.1 761.4 L557.9 762.2 L558.7 763.0 L559.6 763.8 L560.6 764.7 L561.5 765.6 L562.5 766.5 L563.4 767.4 L564.4 768.4 L565.4 769.3 L566.4 770.3 L567.3 771.3 L568.3 772.3 L569.3 773.3 L570.3 774.3 L571.2 775.3 L572.2 776.3 L573.1 777.3 L574.1 778.3 L575.0 779.3 L575.9 780.2 L576.8 781.2 L577.7 782.1 L578.5 783.1 L579.4 784.0 L580.2 785.0 L581.1 786.0 L581.9 786.9 L582.8 787.9 L583.6 788.9 L584.5 789.9 L585.3 790.9 L586.2 791.9 L587.1 793.0 L588.0 794.0 L588.9 795.1 L590.0 796.5 L591.2 797.9 L592.3 799.3 L593.5 800.7 L594.7 802.1 L595.9 803.6 L597.1 805.1 L598.3 806.6 L599.5 808.2 L600.7 809.7 L602.0 811.3 L603.2 812.8 L604.5 814.4 L605.7 816.0 L607.0 817.6 L608.2 819.2 L609.6 821.0 L611.0 822.9 L612.5 824.7 L613.9 826.6 L615.4 828.5 L616.8 830.4 L618.3 832.4 L619.8 834.3 L621.2 836.3 L622.7 838.2 L624.2 840.2 L625.7 842.2 L627.1 844.1 L628.6 846.1 L630.0 848.1 L631.4 850.1 L632.8 852.0 L634.3 854.0 L635.7 856.1 L637.1 858.1 L638.6 860.1 L640.0 862.2 L641.4 864.2 L642.8 866.3 L644.2 868.3 L645.6 870.4 L647.0 872.4 L648.3 874.4 L649.6 876.4 L650.9 878.4 L652.2 880.4 L653.4 882.3 L654.4 884.0 L655.4 885.7 L656.4 887.3 L657.4 888.9 L658.3 890.5 L659.3 892.1 L660.2 893.7 L661.1 895.3 L662.0 896.9 L662.8 898.5 L663.7 900.1 L664.5 901.7 L665.4 903.2 L666.2 904.8 L667.1 906.4 L667.9 908.0 L668.7 909.5 L669.5 911.0 L670.2 912.6 L671.0 914.1 L671.7 915.6 L672.5 917.2 L673.2 918.7 L673.9 920.2 L674.7 921.7 L675.4 923.2 L676.1 924.7 L676.7 926.2 L677.4 927.7 L678.1 929.1 L678.8 930.5 L679.4 931.9 L679.9 933.1 L680.5 934.2 L681.0 935.4 L681.5 936.5 L682.0 937.5 L682.5 938.6 L682.9 939.7 L683.4 940.8 L683.9 941.8 L684.4 942.9 L684.8 943.9 L685.3 945.0 L685.8 946.1 L686.3 947.2 L686.8 948.4 L687.3 949.5 L687.9 950.8 L688.5 952.2 L689.1 953.6 L689.7 955.0 L690.3 956.4 L690.9 957.8 L691.6 959.2 L692.2 960.6 L692.8 962.1 L693.4 963.5 L694.0 964.9 L694.6 966.4 L695.2 967.8 L695.8 969.2 L696.4 970.6 L696.9 971.9 L697.4 973.1 L697.8 974.4 L698.3 975.6 L698.8 976.7 L699.2 977.9 L699.6 979.1 L700.1 980.2 L700.5 981.4 L700.9 982.6 L701.3 983.7 L701.7 984.9 L702.1 986.1 L702.6 987.3 L703.0 988.5 L703.4 989.7 L703.8 991.0 L704.3 992.3 L704.7 993.7 L705.1 995.1 L705.6 996.5 L706.0 997.9 L706.5 999.3 L706.9 1000.7 L707.3 1002.1 L707.8 1003.6 L708.2 1005.0 L708.7 1006.5 L709.1 1007.9 L709.5 1009.4 L709.9 1010.8 L710.4 1012.3 L710.8 1013.7 L711.2 1015.2 L711.7 1016.7 L712.1 1018.2 L712.6 1019.7 L713.0 1021.2 L713.4 1022.7 L713.9 1024.3 L714.3 1025.8 L714.7 1027.3 L715.2 1028.8 L715.6 1030.3 L716.0 1031.9 L716.5 1033.4 L716.9 1034.9 L717.3 1036.4 L717.7 1037.9 L718.1 1039.4 L718.5 1040.8 L718.9 1042.3 L719.3 1043.7 L719.6 1045.1 L720.0 1046.5 L720.4 1047.9 L720.7 1049.4 L721.1 1050.8 L721.5 1052.2 L721.9 1053.7 L722.2 1055.2 L722.6 1056.6 L723.0 1058.1 L723.4 1059.7 L723.8 1061.2 L724.3 1063.1 L724.8 1065.0 L725.2 1066.9 L725.7 1068.9 L726.2 1070.9 L726.7 1072.9 L727.2 1074.9 L727.7 1077.0 L728.3 1079.0 L728.8 1081.1 L729.3 1083.1 L729.8 1085.1 L730.3 1087.1 L730.8 1089.1 L731.3 1091.1 L731.8 1093.0 L732.3 1094.8 L732.7 1096.6 L733.2 1098.4 L733.7 1100.2 L734.1 1102.0 L734.6 1103.8 L735.1 1105.6 L735.6 1107.4 L736.0 1109.1 L736.5 1110.9 L736.9 1112.5 L737.4 1114.2 L737.8 1115.7 L738.3 1117.2 L738.7 1118.6 L739.1 1120.0 L739.4 1120.8 L739.6 1121.7 L739.9 1122.5 L740.1 1123.3 L740.3 1124.1 L740.6 1124.9 L740.8 1125.6 L741.0 1126.3 L741.3 1127.0 L741.5 1127.7 L741.7 1128.3 L742.0 1129.0 L742.2 1129.5 L742.5 1130.1 L742.7 1130.6 L743.0 1131.0 L743.1 1131.2 L743.3 1131.5 L743.5 1131.7 L743.6 1131.9 L743.8 1132.1 L743.9 1132.4 L744.1 1132.5 L744.2 1132.7 L744.4 1132.9 L744.5 1133.1 L744.7 1133.2 L744.9 1133.3 L745.0 1133.4 L745.2 1133.5 L745.3 1133.5 L745.5 1133.5 L745.7 1133.5 L745.9 1133.4 L746.1 1133.3 L746.2 1133.2 L746.4 1133.0 L746.6 1132.8 L746.8 1132.6 L747.0 1132.4 L747.2 1132.1 L747.4 1131.9 L747.6 1131.6 L747.7 1131.3 L747.9 1131.0 L748.1 1130.6 L748.3 1130.3 L748.5 1130.0 L748.9 1129.3 L749.2 1128.5 L749.6 1127.7 L750.0 1126.8 L750.4 1125.8 L750.8 1124.8 L751.1 1123.7 L751.5 1122.6 L751.9 1121.4 L752.3 1120.3 L752.6 1119.1 L753.0 1117.8 L753.4 1116.6 L753.8 1115.4 L754.1 1114.2 L754.5 1112.9 L755.0 1111.4 L755.4 1109.8 L755.9 1108.1 L756.4 1106.4 L756.9 1104.6 L757.4 1102.8 L757.8 1101.0 L758.3 1099.2 L758.8 1097.4 L759.2 1095.5 L759.7 1093.7 L760.1 1091.9 L760.6 1090.1 L761.0 1088.3 L761.4 1086.6 L761.8 1084.9 L762.1 1083.4 L762.5 1081.9 L762.8 1080.4 L763.1 1078.9 L763.4 1077.5 L763.7 1076.0 L764.0 1074.6 L764.2 1073.1 L764.5 1071.7 L764.8 1070.3 L765.1 1068.8 L765.3 1067.4 L765.6 1066.0 L765.9 1064.5 L766.2 1063.1 L766.5 1061.6 L766.8 1060.1 L767.1 1058.6 L767.4 1057.2 L767.7 1055.7 L768.0 1054.3 L768.3 1052.8 L768.6 1051.3 L768.9 1049.9 L769.2 1048.4 L769.5 1046.9 L769.9 1045.4 L770.2 1043.8 L770.6 1042.3 L771.0 1040.6 L771.4 1039.0 L771.8 1037.3 L772.4 1034.9 L773.1 1032.3 L773.8 1029.7 L774.5 1027.0 L775.3 1024.2 L776.1 1021.4 L776.9 1018.5 L777.7 1015.7 L778.6 1012.8 L779.4 1009.9 L780.3 1007.0 L781.2 1004.1 L782.0 1001.3 L782.9 998.6 L783.7 996.0 L784.5 993.4 L785.2 991.3 L785.9 989.2 L786.5 987.1 L787.2 985.1 L787.9 983.1 L788.6 981.1 L789.3 979.2 L789.9 977.2 L790.6 975.3 L791.3 973.4 L792.0 971.5 L792.7 969.5 L793.4 967.6 L794.1 965.7 L794.9 963.8 L795.6 961.8 L796.3 959.9 L797.1 958.0 L797.9 956.0 L798.7 954.1 L799.5 952.2 L800.3 950.2 L801.1 948.3 L801.9 946.4 L802.7 944.4 L803.5 942.5 L804.3 940.6 L805.1 938.8 L805.9 936.9 L806.7 935.0 L807.5 933.2 L808.3 931.4 L809.0 929.7 L809.7 928.1 L810.4 926.5 L811.1 924.9 L811.8 923.3 L812.5 921.8 L813.2 920.2 L813.9 918.7 L814.6 917.1 L815.3 915.6 L816.0 914.0 L816.7 912.5 L817.4 910.9 L818.1 909.3 L818.8 907.7 L819.5 906.1 L820.3 904.3 L821.0 902.4 L821.7 900.4 L822.5 898.4 L823.2 896.4 L823.9 894.3 L824.6 892.2 L825.4 890.2 L826.1 888.2 L826.9 886.3 L827.7 884.5 L828.5 882.8 L829.4 881.2 L830.3 879.8 L831.2 878.5 L832.2 877.5 L832.8 877.0 L833.5 876.5 L834.2 876.2 L834.9 875.9 L835.6 875.7 L836.3 875.5 L837.0 875.4 L837.8 875.2 L838.5 875.1 L839.2 875.0 L840.0 874.9 L840.7 874.7 L841.4 874.5 L842.0 874.2 L842.7 873.9 L843.3 873.5 L844.0 873.0 L844.6 872.4 L845.2 871.8 L845.8 871.2 L846.4 870.5 L846.9 869.8 L847.5 869.0 L848.0 868.3 L848.5 867.5 L849.1 866.7 L849.6 865.8 L850.2 864.9 L850.7 864.0 L851.3 863.1 L851.9 862.2 L852.6 861.2 L853.7 859.6 L854.8 857.8 L856.0 856.0 L857.2 854.0 L858.5 852.0 L859.8 849.9 L861.1 847.7 L862.4 845.5 L863.7 843.3 L865.1 841.0 L866.4 838.8 L867.8 836.5 L869.1 834.3 L870.5 832.1 L871.8 830.0 L873.1 827.9 L874.4 825.9 L875.6 824.0 L876.9 822.0 L878.1 820.0 L879.4 818.1 L880.6 816.1 L881.9 814.2 L883.1 812.2 L884.4 810.3 L885.7 808.4 L886.9 806.5 L888.2 804.5 L889.5 802.6 L890.8 800.7 L892.2 798.8 L893.5 797.0 L894.9 795.1 L896.2 793.2 L897.6 791.2 L899.0 789.3 L900.4 787.4 L901.9 785.5 L903.3 783.5 L904.7 781.7 L906.2 779.8 L907.6 777.9 L909.1 776.1 L910.5 774.3 L911.9 772.6 L913.4 770.9 L914.8 769.3 L916.2 767.7 L917.4 766.5 L918.5 765.2 L919.7 764.0 L920.8 762.9 L922.0 761.7 L923.1 760.6 L924.3 759.5 L925.4 758.4 L926.6 757.3 L927.7 756.3 L928.9 755.3 L930.0 754.3 L931.1 753.3 L932.2 752.4 L933.3 751.4 L934.4 750.5 L935.3 749.8 L936.2 749.1 L937.0 748.4 L937.9 747.8 L938.7 747.2 L939.5 746.6 L940.4 746.0 L941.2 745.4 L942.0 744.8 L942.9 744.2 L943.7 743.6 L944.6 743.0 L945.4 742.4 L946.3 741.8 L947.1 741.2 L948.0 740.5 L949.0 739.8 L950.2 738.9 L951.4 738.0 L952.6 737.0 L954.0 736.0 L955.3 735.0 L956.6 734.0 L957.9 733.0 L959.1 732.1 L960.2 731.2 L961.2 730.4 L962.1 729.8 L962.9 729.2 L963.4 728.8 L963.8 728.5 L963.9 728.4" fill="none" stroke="#bababa" stroke-width="3" stroke-linejoin="round" stroke-linecap="round"/><path d="M173.8 690.3 L174.6 690.3 L177.0 690.3 L180.7 690.4 L185.6 690.5 L191.5 690.6 L198.3 690.7 L205.9 690.9 L214.0 691.0 L222.5 691.2 L231.3 691.4 L240.1 691.6 L248.9 691.8 L257.4 692.1 L265.6 692.3 L273.1 692.6 L280.0 692.8 L286.1 693.1 L292.3 693.4 L298.5 693.7 L304.7 694.0 L310.8 694.3 L317.0 694.6 L323.1 694.9 L329.2 695.2 L335.3 695.6 L341.3 696.0 L347.2 696.4 L353.0 696.8 L358.7 697.2 L364.3 697.7 L369.8 698.2 L375.1 698.8 L379.3 699.2 L383.5 699.7 L387.6 700.1 L391.6 700.6 L395.6 701.1 L399.6 701.6 L403.5 702.1 L407.3 702.7 L411.1 703.2 L414.8 703.8 L418.5 704.4 L422.1 705.0 L425.6 705.7 L429.0 706.3 L432.4 707.0 L435.7 707.7 L438.2 708.2 L440.6 708.8 L443.0 709.4 L445.4 709.9 L447.7 710.5 L449.9 711.1 L452.2 711.8 L454.4 712.4 L456.5 713.0 L458.6 713.7 L460.7 714.3 L462.8 715.0 L464.9 715.7 L466.9 716.4 L468.9 717.1 L470.9 717.8 L472.6 718.5 L474.3 719.1 L476.0 719.8 L477.6 720.5 L479.2 721.2 L480.8 721.9 L482.4 722.6 L484.0 723.3 L485.5 724.0 L487.0 724.7 L488.6 725.5 L490.1 726.2 L491.5 726.9 L493.0 727.7 L494.5 728.5 L495.9 729.2 L497.2 730.0 L498.5 730.7 L499.8 731.4 L501.0 732.1 L502.2 732.8 L503.5 733.5 L504.7 734.3 L505.9 735.0 L507.1 735.8 L508.3 736.5 L509.4 737.3 L510.6 738.1 L511.8 738.9 L512.9 739.7 L514.1 740.5 L515.2 741.4 L516.3 742.3 L517.5 743.2 L518.6 744.0 L519.6 744.9 L520.7 745.8 L521.8 746.7 L522.8 747.7 L523.9 748.6 L524.9 749.6 L526.0 750.6 L527.0 751.6 L528.1 752.6 L529.2 753.7 L530.3 754.8 L531.4 755.9 L532.6 757.1 L534.2 758.8 L535.9 760.5 L537.6 762.4 L539.3 764.4 L541.1 766.4 L542.9 768.5 L544.7 770.6 L546.5 772.7 L548.3 774.9 L550.1 777.1 L551.8 779.2 L553.6 781.3 L555.3 783.4 L556.9 785.4 L558.5 787.3 L560.0 789.1 L561.2 790.5 L562.3 791.9 L563.4 793.3 L564.4 794.6 L565.5 795.9 L566.5 797.2 L567.5 798.5 L568.5 799.7 L569.5 801.0 L570.5 802.2 L571.5 803.5 L572.5 804.7 L573.4 806.0 L574.4 807.2 L575.4 808.5 L576.4 809.8 L577.4 811.1 L578.4 812.4 L579.3 813.7 L580.3 814.9 L581.3 816.2 L582.3 817.5 L583.2 818.8 L584.2 820.1 L585.2 821.4 L586.1 822.6 L587.1 823.9 L588.0 825.2 L589.0 826.5 L589.9 827.8 L590.9 829.1 L591.8 830.3 L592.7 831.6 L593.7 832.9 L594.6 834.2 L595.5 835.4 L596.4 836.7 L597.4 838.0 L598.3 839.3 L599.2 840.6 L600.1 841.8 L601.0 843.1 L601.9 844.4 L602.8 845.6 L603.7 846.9 L604.6 848.1 L605.4 849.3 L606.3 850.6 L607.1 851.7 L607.8 852.8 L608.6 853.8 L609.3 854.9 L610.1 856.0 L610.8 857.0 L611.5 858.1 L612.2 859.1 L612.9 860.1 L613.6 861.2 L614.4 862.2 L615.1 863.3 L615.8 864.4 L616.5 865.4 L617.2 866.5 L617.9 867.6 L618.6 868.7 L619.3 869.8 L620.1 870.9 L620.8 872.0 L621.5 873.1 L622.2 874.2 L622.9 875.3 L623.6 876.4 L624.3 877.5 L625.0 878.7 L625.7 879.8 L626.4 881.0 L627.1 882.2 L627.8 883.3 L628.6 884.6 L629.3 885.8 L630.2 887.3 L631.1 888.7 L632.0 890.3 L632.9 891.8 L633.8 893.4 L634.7 895.0 L635.6 896.6 L636.6 898.2 L637.5 899.9 L638.4 901.5 L639.3 903.1 L640.3 904.8 L641.2 906.4 L642.1 908.0 L642.9 909.6 L643.8 911.2 L644.6 912.7 L645.4 914.3 L646.2 915.8 L647.1 917.3 L647.8 918.8 L648.6 920.3 L649.4 921.8 L650.2 923.3 L651.0 924.9 L651.7 926.4 L652.5 927.9 L653.3 929.4 L654.0 930.9 L654.8 932.4 L655.5 934.0 L656.3 935.5 L657.1 937.0 L657.8 938.6 L658.6 940.2 L659.4 941.8 L660.1 943.4 L660.9 945.0 L661.6 946.6 L662.4 948.2 L663.1 949.8 L663.9 951.4 L664.6 952.9 L665.3 954.5 L666.0 956.0 L666.6 957.4 L667.3 958.9 L667.9 960.3 L668.4 961.3 L668.8 962.3 L669.2 963.2 L669.6 964.1 L670.0 965.0 L670.4 965.9 L670.8 966.8 L671.2 967.7 L671.5 968.5 L671.9 969.4 L672.3 970.3 L672.7 971.2 L673.1 972.2 L673.5 973.1 L673.9 974.1 L674.3 975.2 L674.9 976.7 L675.5 978.3 L676.2 980.0 L676.9 981.7 L677.6 983.5 L678.3 985.4 L679.0 987.2 L679.7 989.1 L680.5 990.9 L681.1 992.8 L681.8 994.6 L682.5 996.3 L683.1 998.0 L683.7 999.6 L684.2 1001.1 L684.7 1002.5 L685.0 1003.3 L685.2 1004.1 L685.5 1004.9 L685.7 1005.6 L685.9 1006.2 L686.2 1006.9 L686.4 1007.5 L686.6 1008.2 L686.7 1008.8 L686.9 1009.4 L687.1 1010.1 L687.3 1010.7 L687.5 1011.4 L687.7 1012.1 L688.0 1012.9 L688.2 1013.7 L688.5 1014.8 L688.9 1016.1 L689.3 1017.3 L689.6 1018.6 L690.0 1019.9 L690.4 1021.3 L690.8 1022.7 L691.2 1024.1 L691.5 1025.5 L691.9 1026.9 L692.3 1028.4 L692.7 1029.8 L693.1 1031.3 L693.5 1032.7 L693.9 1034.1 L694.3 1035.6 L694.7 1037.1 L695.1 1038.6 L695.5 1040.1 L695.9 1041.6 L696.4 1043.2 L696.8 1044.7 L697.2 1046.2 L697.6 1047.8 L698.0 1049.4 L698.4 1050.9 L698.8 1052.5 L699.3 1054.1 L699.7 1055.8 L700.1 1057.4 L700.6 1059.1 L701.0 1060.8 L701.5 1062.8 L702.1 1064.9 L702.6 1067.0 L703.2 1069.1 L703.7 1071.3 L704.3 1073.5 L704.9 1075.8 L705.4 1078.0 L706.0 1080.2 L706.6 1082.5 L707.1 1084.8 L707.7 1087.0 L708.3 1089.3 L708.9 1091.5 L709.4 1093.7 L710.0 1096.0 L710.6 1098.2 L711.1 1100.4 L711.7 1102.6 L712.3 1104.8 L712.8 1107.1 L713.4 1109.3 L714.0 1111.5 L714.6 1113.8 L715.1 1116.0 L715.7 1118.2 L716.3 1120.4 L716.8 1122.5 L717.4 1124.7 L717.9 1126.8 L718.5 1128.9 L719.0 1130.9 L719.5 1132.7 L719.9 1134.5 L720.3 1136.3 L720.7 1138.0 L721.2 1139.8 L721.6 1141.6 L722.0 1143.4 L722.4 1145.1 L722.8 1146.8 L723.2 1148.4 L723.7 1150.0 L724.1 1151.6 L724.6 1153.1 L725.0 1154.5 L725.5 1155.8 L726.0 1157.0 L726.3 1157.7 L726.7 1158.5 L727.0 1159.2 L727.3 1160.0 L727.7 1160.7 L728.0 1161.4 L728.4 1162.1 L728.7 1162.8 L729.1 1163.4 L729.5 1163.9 L729.8 1164.5 L730.2 1164.9 L730.5 1165.3 L730.8 1165.6 L731.2 1165.8 L731.5 1166.0 L731.7 1166.0 L731.8 1166.1 L732.0 1166.1 L732.1 1166.1 L732.3 1166.1 L732.5 1166.1 L732.6 1166.0 L732.8 1166.0 L732.9 1165.9 L733.1 1165.8 L733.3 1165.7 L733.4 1165.6 L733.6 1165.5 L733.7 1165.3 L733.9 1165.2 L734.0 1165.0 L734.5 1164.2 L734.9 1163.1 L735.4 1161.6 L735.8 1159.9 L736.2 1158.0 L736.5 1155.9 L736.9 1153.6 L737.2 1151.3 L737.6 1148.8 L737.9 1146.3 L738.2 1143.8 L738.6 1141.4 L738.9 1139.0 L739.3 1136.8 L739.6 1134.6 L740.0 1132.7 L740.3 1131.2 L740.7 1129.7 L741.0 1128.2 L741.4 1126.7 L741.7 1125.2 L742.0 1123.8 L742.4 1122.4 L742.7 1121.0 L743.1 1119.6 L743.4 1118.2 L743.8 1116.9 L744.1 1115.5 L744.4 1114.2 L744.8 1112.9 L745.1 1111.6 L745.4 1110.3 L745.6 1109.3 L745.9 1108.4 L746.1 1107.4 L746.3 1106.5 L746.6 1105.6 L746.8 1104.7 L747.0 1103.8 L747.2 1102.9 L747.4 1102.0 L747.6 1101.1 L747.8 1100.2 L748.1 1099.3 L748.3 1098.4 L748.5 1097.4 L748.8 1096.5 L749.0 1095.4 L749.3 1094.2 L749.6 1092.9 L750.0 1091.5 L750.3 1090.1 L750.7 1088.7 L751.0 1087.3 L751.4 1085.9 L751.8 1084.4 L752.1 1083.0 L752.5 1081.5 L752.8 1080.1 L753.2 1078.7 L753.5 1077.3 L753.9 1076.0 L754.2 1074.6 L754.5 1073.4 L754.7 1072.3 L755.0 1071.3 L755.2 1070.4 L755.4 1069.4 L755.7 1068.5 L755.9 1067.6 L756.1 1066.7 L756.3 1065.8 L756.5 1064.8 L756.7 1063.9 L756.9 1063.0 L757.2 1062.1 L757.4 1061.1 L757.6 1060.1 L757.9 1059.1 L758.1 1058.1 L758.4 1056.7 L758.7 1055.4 L759.0 1054.0 L759.4 1052.6 L759.7 1051.2 L760.0 1049.7 L760.3 1048.3 L760.7 1046.8 L761.0 1045.3 L761.4 1043.8 L761.7 1042.2 L762.1 1040.6 L762.5 1039.0 L762.9 1037.4 L763.4 1035.7 L763.8 1034.0 L764.4 1031.7 L765.1 1029.2 L765.8 1026.7 L766.6 1024.0 L767.3 1021.3 L768.1 1018.6 L768.9 1015.8 L769.8 1012.9 L770.6 1010.1 L771.5 1007.3 L772.3 1004.5 L773.2 1001.7 L774.0 999.0 L774.9 996.4 L775.7 993.8 L776.5 991.3 L777.2 989.2 L777.9 987.2 L778.6 985.2 L779.3 983.2 L780.0 981.3 L780.7 979.4 L781.4 977.5 L782.0 975.6 L782.7 973.7 L783.4 971.9 L784.2 970.0 L784.9 968.2 L785.6 966.3 L786.3 964.5 L787.0 962.6 L787.7 960.8 L788.4 959.1 L789.1 957.3 L789.7 955.6 L790.4 953.9 L791.1 952.2 L791.7 950.5 L792.4 948.9 L793.1 947.2 L793.8 945.5 L794.5 943.8 L795.2 942.2 L795.9 940.5 L796.6 938.8 L797.3 937.1 L798.0 935.4 L798.8 933.7 L799.6 931.8 L800.5 929.9 L801.3 928.0 L802.2 926.1 L803.0 924.2 L803.9 922.3 L804.8 920.4 L805.7 918.4 L806.6 916.5 L807.5 914.6 L808.5 912.7 L809.4 910.8 L810.3 909.0 L811.2 907.1 L812.2 905.3 L813.1 903.5 L814.0 901.9 L814.8 900.2 L815.7 898.5 L816.5 896.8 L817.4 895.1 L818.3 893.4 L819.1 891.7 L820.0 890.0 L820.9 888.4 L821.8 886.8 L822.7 885.3 L823.6 883.9 L824.5 882.5 L825.5 881.3 L826.4 880.1 L827.4 879.1 L828.1 878.5 L828.7 877.9 L829.4 877.4 L830.1 877.0 L830.8 876.5 L831.4 876.1 L832.1 875.8 L832.8 875.5 L833.5 875.1 L834.2 874.8 L834.9 874.5 L835.7 874.2 L836.4 873.8 L837.1 873.5 L837.8 873.1 L838.5 872.7 L839.3 872.3 L840.1 871.8 L840.8 871.4 L841.6 871.0 L842.4 870.6 L843.2 870.3 L844.0 869.9 L844.8 869.5 L845.6 869.0 L846.4 868.6 L847.2 868.1 L848.0 867.5 L848.8 866.9 L849.6 866.3 L850.4 865.6 L851.2 864.8 L852.6 863.3 L853.9 861.6 L855.3 859.7 L856.6 857.7 L858.0 855.4 L859.4 853.1 L860.7 850.7 L862.1 848.2 L863.5 845.6 L864.9 843.1 L866.2 840.5 L867.6 837.9 L869.0 835.4 L870.4 832.9 L871.7 830.6 L873.1 828.3 L874.4 826.3 L875.6 824.3 L876.9 822.3 L878.2 820.3 L879.4 818.3 L880.7 816.3 L881.9 814.3 L883.2 812.4 L884.4 810.4 L885.7 808.5 L887.0 806.6 L888.2 804.6 L889.5 802.7 L890.8 800.8 L892.2 798.9 L893.5 797.0 L894.9 795.1 L896.2 793.2 L897.6 791.3 L899.0 789.3 L900.4 787.4 L901.9 785.5 L903.3 783.6 L904.7 781.7 L906.2 779.8 L907.6 777.9 L909.1 776.1 L910.5 774.3 L911.9 772.6 L913.4 770.9 L914.8 769.3 L916.2 767.7 L917.4 766.5 L918.5 765.2 L919.7 764.0 L920.8 762.8 L922.0 761.7 L923.1 760.6 L924.3 759.5 L925.4 758.4 L926.6 757.3 L927.7 756.3 L928.9 755.3 L930.0 754.3 L931.1 753.3 L932.2 752.4 L933.3 751.4 L934.4 750.5 L935.3 749.8 L936.2 749.1 L937.0 748.4 L937.9 747.8 L938.7 747.2 L939.5 746.6 L940.4 746.0 L941.2 745.4 L942.0 744.8 L942.9 744.2 L943.7 743.6 L944.6 743.0 L945.4 742.4 L946.3 741.8 L947.1 741.2 L948.0 740.5 L949.0 739.8 L950.2 738.9 L951.4 738.0 L952.6 737.0 L954.0 736.0 L955.3 735.0 L956.6 734.0 L957.9 733.0 L959.1 732.1 L960.2 731.2 L961.2 730.4 L962.1 729.8 L962.9 729.2 L963.4 728.8 L963.8 728.5 L963.9 728.4" fill="none" stroke="#a4a4a4" stroke-width="3" stroke-linejoin="round" stroke-linecap="round"/><path d="M173.8 690.5 L174.6 690.5 L177.0 690.5 L180.7 690.6 L185.6 690.7 L191.5 690.8 L198.3 690.9 L205.9 691.0 L214.0 691.2 L222.5 691.4 L231.3 691.6 L240.1 691.8 L248.9 692.1 L257.4 692.3 L265.6 692.6 L273.1 693.0 L280.0 693.3 L286.1 693.6 L292.3 693.9 L298.5 694.3 L304.7 694.6 L310.9 695.0 L317.0 695.4 L323.2 695.8 L329.3 696.2 L335.3 696.7 L341.3 697.2 L347.2 697.7 L353.0 698.3 L358.7 698.9 L364.3 699.5 L369.8 700.2 L375.1 701.0 L379.3 701.6 L383.5 702.2 L387.6 702.9 L391.7 703.6 L395.7 704.3 L399.6 705.1 L403.5 705.8 L407.4 706.6 L411.2 707.5 L414.9 708.3 L418.5 709.2 L422.1 710.0 L425.6 711.0 L429.1 711.9 L432.4 712.9 L435.7 713.8 L438.2 714.6 L440.7 715.4 L443.1 716.3 L445.4 717.1 L447.7 717.9 L450.0 718.8 L452.2 719.7 L454.4 720.6 L456.6 721.5 L458.7 722.4 L460.8 723.4 L462.9 724.3 L464.9 725.3 L466.9 726.2 L468.9 727.2 L470.9 728.2 L472.6 729.1 L474.3 730.0 L476.0 730.9 L477.6 731.8 L479.3 732.7 L480.9 733.6 L482.4 734.6 L484.0 735.5 L485.6 736.5 L487.1 737.4 L488.6 738.4 L490.1 739.4 L491.6 740.4 L493.0 741.4 L494.5 742.4 L495.9 743.4 L497.2 744.3 L498.5 745.2 L499.8 746.2 L501.0 747.1 L502.3 748.1 L503.5 749.1 L504.7 750.0 L505.9 751.0 L507.1 752.0 L508.3 753.0 L509.4 754.0 L510.6 755.0 L511.8 756.0 L512.9 757.0 L514.1 758.0 L515.2 759.1 L516.3 760.1 L517.4 761.2 L518.5 762.2 L519.6 763.2 L520.7 764.3 L521.7 765.3 L522.8 766.4 L523.8 767.5 L524.9 768.6 L525.9 769.7 L527.0 770.8 L528.1 772.0 L529.2 773.1 L530.3 774.3 L531.4 775.6 L532.6 776.8 L534.2 778.6 L535.8 780.4 L537.5 782.2 L539.2 784.2 L541.0 786.2 L542.8 788.2 L544.6 790.3 L546.4 792.3 L548.2 794.4 L550.0 796.5 L551.8 798.6 L553.5 800.6 L555.2 802.6 L556.9 804.5 L558.5 806.4 L560.0 808.2 L561.2 809.6 L562.3 811.0 L563.4 812.3 L564.5 813.7 L565.6 815.0 L566.6 816.3 L567.6 817.6 L568.7 818.9 L569.7 820.1 L570.6 821.4 L571.6 822.6 L572.6 823.8 L573.5 825.1 L574.5 826.3 L575.5 827.5 L576.4 828.8 L577.2 829.8 L578.1 830.9 L578.9 832.0 L579.7 833.0 L580.4 834.1 L581.2 835.1 L582.0 836.1 L582.8 837.2 L583.5 838.2 L584.3 839.2 L585.0 840.3 L585.8 841.3 L586.6 842.3 L587.3 843.4 L588.1 844.5 L588.9 845.5 L589.7 846.7 L590.6 847.8 L591.4 849.0 L592.3 850.1 L593.1 851.3 L594.0 852.5 L594.8 853.6 L595.7 854.8 L596.6 856.0 L597.4 857.2 L598.3 858.3 L599.1 859.5 L599.9 860.7 L600.8 861.8 L601.6 863.0 L602.4 864.1 L603.2 865.1 L603.9 866.2 L604.6 867.2 L605.3 868.2 L606.1 869.2 L606.8 870.2 L607.5 871.2 L608.2 872.2 L608.9 873.3 L609.6 874.3 L610.3 875.3 L611.0 876.3 L611.8 877.4 L612.5 878.5 L613.2 879.6 L614.0 880.7 L614.9 882.0 L615.8 883.4 L616.8 884.8 L617.7 886.2 L618.7 887.7 L619.6 889.1 L620.6 890.6 L621.6 892.1 L622.6 893.6 L623.5 895.1 L624.5 896.6 L625.5 898.1 L626.4 899.6 L627.4 901.1 L628.4 902.6 L629.3 904.1 L630.2 905.5 L631.2 907.0 L632.1 908.5 L633.0 910.0 L634.0 911.5 L634.9 913.0 L635.9 914.5 L636.8 916.0 L637.7 917.5 L638.6 919.0 L639.5 920.5 L640.4 921.9 L641.3 923.3 L642.1 924.7 L643.0 926.1 L643.8 927.5 L644.5 928.6 L645.1 929.7 L645.8 930.8 L646.4 931.8 L647.1 932.9 L647.7 934.0 L648.3 935.0 L648.9 936.0 L649.5 937.1 L650.1 938.1 L650.7 939.1 L651.3 940.0 L651.8 941.0 L652.4 941.9 L652.9 942.9 L653.4 943.8 L653.8 944.5 L654.1 945.1 L654.5 945.7 L654.8 946.3 L655.1 946.9 L655.4 947.5 L655.7 948.1 L656.0 948.6 L656.3 949.2 L656.6 949.8 L657.0 950.4 L657.3 951.0 L657.6 951.7 L658.0 952.4 L658.3 953.1 L658.7 953.9 L659.4 955.2 L660.1 956.6 L660.8 958.2 L661.6 959.8 L662.5 961.5 L663.3 963.2 L664.2 965.0 L665.0 966.8 L665.9 968.7 L666.8 970.5 L667.7 972.3 L668.5 974.1 L669.4 975.9 L670.2 977.6 L671.0 979.3 L671.7 980.9 L672.3 982.2 L672.9 983.5 L673.5 984.7 L674.1 986.0 L674.6 987.2 L675.2 988.4 L675.7 989.6 L676.3 990.8 L676.8 992.0 L677.4 993.2 L677.9 994.4 L678.4 995.5 L678.9 996.7 L679.4 997.8 L679.9 999.0 L680.4 1000.1 L680.8 1001.1 L681.2 1002.1 L681.6 1003.1 L682.0 1004.0 L682.4 1005.0 L682.8 1005.9 L683.2 1006.8 L683.6 1007.8 L683.9 1008.7 L684.3 1009.6 L684.7 1010.6 L685.0 1011.5 L685.4 1012.5 L685.8 1013.5 L686.1 1014.5 L686.5 1015.6 L686.9 1016.8 L687.4 1018.0 L687.8 1019.3 L688.3 1020.6 L688.7 1021.9 L689.1 1023.2 L689.6 1024.5 L690.0 1025.9 L690.4 1027.2 L690.9 1028.6 L691.3 1030.0 L691.7 1031.3 L692.1 1032.7 L692.6 1034.1 L693.0 1035.4 L693.4 1036.8 L693.8 1038.3 L694.3 1039.7 L694.7 1041.1 L695.1 1042.6 L695.5 1044.0 L695.9 1045.4 L696.3 1046.9 L696.7 1048.3 L697.1 1049.8 L697.5 1051.3 L697.9 1052.8 L698.3 1054.3 L698.7 1055.9 L699.1 1057.4 L699.6 1059.0 L700.0 1060.6 L700.5 1062.6 L701.1 1064.7 L701.6 1066.8 L702.2 1068.9 L702.8 1071.1 L703.3 1073.3 L703.9 1075.5 L704.5 1077.8 L705.0 1080.1 L705.6 1082.3 L706.2 1084.6 L706.8 1086.9 L707.4 1089.1 L708.0 1091.4 L708.5 1093.6 L709.1 1095.8 L709.7 1098.0 L710.2 1100.2 L710.8 1102.4 L711.4 1104.6 L712.0 1106.8 L712.5 1109.0 L713.1 1111.2 L713.7 1113.4 L714.3 1115.6 L714.8 1117.8 L715.4 1120.0 L716.0 1122.1 L716.5 1124.2 L717.1 1126.3 L717.7 1128.4 L718.2 1130.4 L718.7 1132.1 L719.1 1133.9 L719.6 1135.7 L720.0 1137.4 L720.4 1139.1 L720.9 1140.9 L721.3 1142.6 L721.7 1144.3 L722.1 1145.9 L722.6 1147.5 L723.0 1149.1 L723.5 1150.7 L723.9 1152.2 L724.4 1153.6 L724.9 1155.0 L725.4 1156.3 L725.8 1157.2 L726.1 1158.1 L726.5 1159.0 L726.9 1160.0 L727.3 1160.9 L727.6 1161.7 L728.0 1162.6 L728.4 1163.4 L728.8 1164.2 L729.2 1164.9 L729.6 1165.6 L730.1 1166.3 L730.5 1166.8 L730.9 1167.3 L731.4 1167.8 L731.8 1168.1 L732.1 1168.3 L732.3 1168.4 L732.6 1168.5 L732.9 1168.6 L733.2 1168.7 L733.5 1168.8 L733.8 1168.9 L734.1 1168.9 L734.4 1168.9 L734.7 1168.9 L735.0 1168.9 L735.2 1168.9 L735.5 1168.8 L735.8 1168.7 L736.0 1168.6 L736.3 1168.5 L736.6 1168.3 L737.0 1168.0 L737.3 1167.7 L737.6 1167.3 L737.9 1166.9 L738.2 1166.5 L738.5 1166.0 L738.8 1165.5 L739.1 1164.9 L739.3 1164.4 L739.6 1163.8 L739.9 1163.2 L740.1 1162.6 L740.4 1162.0 L740.6 1161.4 L740.9 1160.8 L741.2 1160.0 L741.6 1159.1 L741.9 1158.3 L742.2 1157.4 L742.4 1156.4 L742.7 1155.5 L743.0 1154.5 L743.3 1153.5 L743.5 1152.5 L743.8 1151.5 L744.1 1150.4 L744.3 1149.4 L744.6 1148.3 L744.8 1147.2 L745.1 1146.2 L745.4 1145.1 L745.7 1143.8 L746.1 1142.5 L746.4 1141.2 L746.8 1139.8 L747.1 1138.5 L747.5 1137.1 L747.8 1135.7 L748.1 1134.2 L748.5 1132.8 L748.8 1131.4 L749.2 1130.0 L749.5 1128.5 L749.9 1127.1 L750.2 1125.7 L750.6 1124.2 L750.9 1122.8 L751.2 1121.4 L751.6 1120.0 L751.9 1118.6 L752.3 1117.1 L752.6 1115.7 L752.9 1114.3 L753.3 1112.8 L753.6 1111.4 L753.9 1109.9 L754.3 1108.5 L754.6 1107.1 L754.9 1105.6 L755.3 1104.2 L755.6 1102.8 L756.0 1101.4 L756.3 1100.0 L756.6 1098.6 L757.0 1097.3 L757.3 1095.9 L757.7 1094.6 L758.0 1093.3 L758.3 1091.9 L758.7 1090.6 L759.0 1089.3 L759.4 1087.9 L759.7 1086.6 L760.1 1085.3 L760.4 1084.0 L760.8 1082.7 L761.1 1081.4 L761.5 1080.1 L761.8 1078.8 L762.1 1077.6 L762.5 1076.4 L762.8 1075.2 L763.1 1074.0 L763.4 1072.8 L763.8 1071.7 L764.1 1070.5 L764.4 1069.4 L764.8 1068.2 L765.1 1067.0 L765.4 1065.8 L765.8 1064.6 L766.1 1063.4 L766.5 1062.2 L766.8 1061.0 L767.2 1059.7 L767.6 1058.1 L768.1 1056.6 L768.5 1055.1 L769.0 1053.5 L769.4 1051.9 L769.9 1050.3 L770.4 1048.7 L770.9 1047.0 L771.3 1045.4 L771.8 1043.7 L772.3 1042.0 L772.9 1040.3 L773.4 1038.6 L773.9 1036.8 L774.4 1035.1 L775.0 1033.3 L775.7 1031.0 L776.4 1028.7 L777.2 1026.3 L777.9 1023.8 L778.7 1021.3 L779.5 1018.8 L780.3 1016.3 L781.1 1013.7 L782.0 1011.1 L782.8 1008.6 L783.6 1006.0 L784.4 1003.5 L785.3 1001.0 L786.1 998.6 L786.9 996.2 L787.7 993.9 L788.4 991.9 L789.1 989.9 L789.8 988.0 L790.4 986.0 L791.1 984.1 L791.8 982.2 L792.5 980.4 L793.1 978.5 L793.8 976.7 L794.5 974.8 L795.2 973.0 L795.9 971.2 L796.6 969.4 L797.3 967.5 L798.1 965.7 L798.8 963.9 L799.5 962.0 L800.3 960.2 L801.1 958.3 L801.9 956.4 L802.6 954.6 L803.4 952.7 L804.2 950.9 L805.0 949.0 L805.8 947.2 L806.7 945.4 L807.5 943.6 L808.3 941.8 L809.1 940.1 L809.9 938.3 L810.7 936.6 L811.5 935.0 L812.2 933.5 L812.9 932.2 L813.6 930.8 L814.2 929.4 L814.9 928.1 L815.6 926.8 L816.3 925.5 L817.0 924.2 L817.6 922.9 L818.3 921.6 L819.0 920.4 L819.7 919.1 L820.4 917.8 L821.1 916.6 L821.9 915.3 L822.6 914.0 L823.4 912.7 L824.1 911.4 L824.9 910.1 L825.7 908.8 L826.4 907.5 L827.2 906.3 L828.0 905.0 L828.8 903.7 L829.6 902.4 L830.4 901.2 L831.3 899.9 L832.1 898.6 L832.9 897.4 L833.7 896.1 L834.5 894.8 L835.3 893.6 L836.1 892.4 L836.9 891.2 L837.7 890.0 L838.5 888.8 L839.3 887.6 L840.1 886.5 L840.9 885.3 L841.7 884.1 L842.5 883.0 L843.3 881.8 L844.1 880.6 L844.9 879.4 L845.7 878.1 L846.5 876.9 L847.3 875.6 L848.1 874.3 L849.0 872.8 L849.9 871.2 L850.7 869.6 L851.6 867.9 L852.5 866.2 L853.3 864.5 L854.2 862.8 L855.0 861.0 L855.9 859.3 L856.7 857.6 L857.5 855.8 L858.4 854.1 L859.2 852.4 L860.0 850.8 L860.9 849.2 L861.7 847.6 L862.4 846.2 L863.1 844.9 L863.8 843.6 L864.5 842.3 L865.2 841.1 L865.8 839.8 L866.5 838.6 L867.2 837.4 L867.8 836.1 L868.5 834.9 L869.2 833.7 L870.0 832.4 L870.7 831.1 L871.5 829.8 L872.3 828.5 L873.1 827.1 L874.2 825.4 L875.3 823.6 L876.5 821.7 L877.7 819.9 L878.9 818.0 L880.2 816.1 L881.4 814.2 L882.7 812.2 L884.1 810.3 L885.4 808.3 L886.7 806.4 L888.1 804.5 L889.4 802.5 L890.8 800.6 L892.2 798.7 L893.5 796.9 L894.9 795.0 L896.2 793.1 L897.6 791.2 L899.0 789.3 L900.5 787.4 L901.9 785.4 L903.3 783.5 L904.8 781.6 L906.2 779.8 L907.6 777.9 L909.1 776.1 L910.5 774.3 L912.0 772.6 L913.4 770.9 L914.8 769.3 L916.2 767.7 L917.4 766.5 L918.5 765.2 L919.7 764.0 L920.8 762.9 L922.0 761.7 L923.1 760.6 L924.3 759.5 L925.4 758.4 L926.6 757.3 L927.7 756.3 L928.9 755.3 L930.0 754.3 L931.1 753.3 L932.2 752.4 L933.3 751.4 L934.4 750.5 L935.3 749.8 L936.2 749.1 L937.0 748.4 L937.9 747.8 L938.7 747.2 L939.5 746.6 L940.4 746.0 L941.2 745.4 L942.0 744.8 L942.9 744.2 L943.7 743.6 L944.6 743.0 L945.4 742.4 L946.3 741.8 L947.1 741.2 L948.0 740.5 L949.0 739.8 L950.2 738.9 L951.4 738.0 L952.6 737.0 L954.0 736.0 L955.3 735.0 L956.6 734.0 L957.9 733.0 L959.1 732.1 L960.2 731.2 L961.2 730.4 L962.1 729.8 L962.9 729.2 L963.4 728.8 L963.8 728.5 L963.9 728.4" fill="none" stroke="#777777" stroke-width="3" stroke-linejoin="round" stroke-linecap="round"/><path d="M173.8 687.3 L174.6 687.3 L177.0 687.3 L180.7 687.3 L185.6 687.3 L191.5 687.3 L198.3 687.4 L205.9 687.4 L214.0 687.4 L222.5 687.4 L231.3 687.5 L240.1 687.5 L248.9 687.5 L257.4 687.6 L265.6 687.6 L273.1 687.7 L280.0 687.7 L286.1 687.8 L292.3 687.8 L298.5 687.9 L304.6 687.9 L310.8 688.0 L317.0 688.0 L323.1 688.1 L329.2 688.2 L335.2 688.2 L341.2 688.3 L347.1 688.4 L352.9 688.5 L358.7 688.6 L364.3 688.7 L369.7 688.8 L375.1 688.9 L379.3 689.1 L383.5 689.2 L387.6 689.3 L391.7 689.4 L395.7 689.5 L399.7 689.6 L403.6 689.8 L407.5 689.9 L411.3 690.0 L415.0 690.2 L418.7 690.4 L422.3 690.5 L425.8 690.7 L429.3 690.9 L432.7 691.1 L436.0 691.2 L438.5 691.4 L440.9 691.6 L443.2 691.7 L445.5 691.9 L447.8 692.1 L450.1 692.2 L452.3 692.4 L454.4 692.6 L456.6 692.8 L458.7 693.0 L460.8 693.2 L462.8 693.4 L464.9 693.6 L466.9 693.8 L468.9 694.0 L470.9 694.2 L472.6 694.4 L474.3 694.6 L475.9 694.8 L477.5 695.0 L479.1 695.2 L480.7 695.5 L482.3 695.7 L483.9 695.9 L485.4 696.1 L487.0 696.4 L488.5 696.6 L490.0 696.8 L491.5 697.1 L493.0 697.3 L494.4 697.6 L495.9 697.8 L497.2 698.0 L498.4 698.3 L499.7 698.5 L500.9 698.7 L502.2 699.0 L503.4 699.2 L504.6 699.4 L505.8 699.7 L507.0 699.9 L508.2 700.2 L509.3 700.4 L510.5 700.7 L511.7 700.9 L512.9 701.2 L514.0 701.4 L515.2 701.7 L516.3 702.0 L517.4 702.2 L518.6 702.5 L519.7 702.8 L520.8 703.0 L521.9 703.3 L523.0 703.6 L524.1 703.9 L525.2 704.2 L526.3 704.4 L527.4 704.7 L528.4 705.0 L529.5 705.3 L530.5 705.6 L531.6 705.9 L532.6 706.2 L533.5 706.4 L534.4 706.7 L535.2 707.0 L536.1 707.2 L537.0 707.5 L537.8 707.7 L538.6 708.0 L539.5 708.3 L540.3 708.5 L541.1 708.8 L542.0 709.1 L542.8 709.3 L543.6 709.6 L544.4 709.9 L545.3 710.2 L546.1 710.5 L546.9 710.8 L547.8 711.1 L548.6 711.4 L549.5 711.7 L550.3 712.1 L551.1 712.4 L551.9 712.7 L552.8 713.0 L553.6 713.4 L554.4 713.7 L555.3 714.1 L556.1 714.5 L557.0 714.8 L557.8 715.2 L558.7 715.6 L559.6 716.0 L560.6 716.5 L561.7 717.0 L562.7 717.5 L563.8 718.0 L564.9 718.5 L566.0 719.1 L567.1 719.6 L568.2 720.2 L569.3 720.8 L570.4 721.4 L571.5 721.9 L572.6 722.5 L573.7 723.1 L574.7 723.7 L575.8 724.4 L576.9 725.0 L578.0 725.6 L579.1 726.3 L580.2 726.9 L581.3 727.6 L582.4 728.3 L583.4 728.9 L584.5 729.6 L585.6 730.3 L586.7 731.0 L587.8 731.7 L588.8 732.5 L589.9 733.2 L591.0 733.9 L592.1 734.6 L593.2 735.4 L594.3 736.1 L595.5 737.0 L596.7 737.8 L597.9 738.7 L599.2 739.5 L600.4 740.4 L601.7 741.3 L602.9 742.2 L604.1 743.1 L605.4 744.1 L606.6 745.0 L607.8 745.9 L609.0 746.7 L610.2 747.6 L611.4 748.5 L612.5 749.3 L613.6 750.2 L614.5 750.9 L615.4 751.5 L616.3 752.2 L617.1 752.8 L618.0 753.5 L618.8 754.1 L619.7 754.8 L620.5 755.4 L621.3 756.0 L622.1 756.7 L622.9 757.3 L623.7 757.9 L624.6 758.6 L625.4 759.2 L626.2 759.9 L627.0 760.5 L627.8 761.2 L628.7 761.9 L629.5 762.6 L630.3 763.3 L631.2 764.0 L632.0 764.7 L632.8 765.4 L633.7 766.1 L634.5 766.8 L635.3 767.5 L636.1 768.2 L636.9 768.9 L637.7 769.6 L638.5 770.3 L639.3 771.0 L640.0 771.6 L640.6 772.2 L641.3 772.8 L641.9 773.4 L642.5 774.0 L643.1 774.6 L643.7 775.1 L644.3 775.7 L644.9 776.3 L645.5 776.9 L646.1 777.4 L646.7 778.0 L647.3 778.6 L647.8 779.2 L648.4 779.8 L649.0 780.4 L649.6 781.0 L650.2 781.6 L650.8 782.3 L651.4 782.9 L652.0 783.6 L652.7 784.2 L653.3 784.9 L653.9 785.5 L654.5 786.2 L655.1 786.9 L655.7 787.5 L656.3 788.2 L656.9 788.9 L657.5 789.6 L658.1 790.2 L658.7 790.9 L659.3 791.6 L659.9 792.3 L660.5 793.0 L661.1 793.7 L661.7 794.4 L662.3 795.1 L662.9 795.8 L663.5 796.5 L664.1 797.2 L664.7 797.9 L665.3 798.6 L665.9 799.3 L666.5 800.0 L667.1 800.7 L667.7 801.4 L668.3 802.2 L668.9 802.9 L669.5 803.6 L670.1 804.4 L670.7 805.1 L671.3 805.9 L672.0 806.6 L672.6 807.4 L673.2 808.1 L673.8 808.9 L674.4 809.7 L675.0 810.4 L675.6 811.2 L676.2 812.0 L676.8 812.8 L677.4 813.5 L678.0 814.3 L678.6 815.1 L679.2 815.9 L679.8 816.7 L680.4 817.6 L681.0 818.4 L681.6 819.2 L682.2 820.0 L682.8 820.9 L683.4 821.7 L684.0 822.6 L684.6 823.4 L685.2 824.3 L685.8 825.1 L686.4 826.0 L687.0 826.8 L687.6 827.7 L688.2 828.5 L688.8 829.5 L689.4 830.4 L690.0 831.3 L690.6 832.2 L691.3 833.1 L691.9 834.0 L692.5 835.0 L693.1 835.9 L693.7 836.8 L694.3 837.8 L694.9 838.7 L695.5 839.7 L696.1 840.6 L696.7 841.5 L697.3 842.5 L697.9 843.4 L698.5 844.4 L699.1 845.3 L699.7 846.3 L700.3 847.2 L700.9 848.2 L701.5 849.1 L702.1 850.1 L702.7 851.0 L703.3 852.0 L703.9 852.9 L704.5 853.9 L705.1 854.9 L705.7 855.8 L706.3 856.8 L706.9 857.8 L707.5 858.7 L708.1 859.7 L708.7 860.7 L709.3 861.6 L709.9 862.6 L710.5 863.6 L711.1 864.6 L711.7 865.5 L712.3 866.5 L712.9 867.5 L713.5 868.5 L714.1 869.5 L714.7 870.4 L715.3 871.4 L715.9 872.4 L716.5 873.4 L717.1 874.4 L717.7 875.5 L718.3 876.5 L719.0 877.6 L719.6 878.7 L720.2 879.8 L720.9 880.8 L721.5 881.9 L722.1 883.0 L722.7 884.1 L723.4 885.2 L724.0 886.2 L724.6 887.3 L725.1 888.3 L725.7 889.4 L726.3 890.4 L726.8 891.4 L727.2 892.1 L727.6 892.9 L728.0 893.6 L728.4 894.3 L728.8 895.0 L729.1 895.7 L729.5 896.4 L729.8 897.1 L730.2 897.8 L730.5 898.5 L730.9 899.2 L731.3 899.9 L731.7 900.7 L732.1 901.5 L732.5 902.3 L732.9 903.2 L733.6 904.6 L734.3 906.1 L735.1 907.6 L735.8 909.3 L736.6 911.0 L737.5 912.7 L738.3 914.5 L739.1 916.3 L740.0 918.1 L740.8 919.9 L741.7 921.8 L742.5 923.6 L743.4 925.4 L744.2 927.2 L744.9 928.9 L745.7 930.6 L746.4 932.2 L747.1 933.7 L747.7 935.3 L748.4 936.8 L749.1 938.3 L749.7 939.9 L750.4 941.4 L751.0 942.9 L751.6 944.4 L752.3 946.0 L752.9 947.5 L753.5 949.0 L754.1 950.5 L754.8 952.0 L755.4 953.5 L756.0 955.0 L756.6 956.4 L757.2 957.9 L757.7 959.3 L758.3 960.7 L758.9 962.1 L759.4 963.6 L760.0 965.0 L760.6 966.4 L761.1 967.8 L761.7 969.2 L762.2 970.6 L762.8 972.0 L763.3 973.4 L763.9 974.8 L764.4 976.2 L765.0 977.6 L765.6 979.1 L766.1 980.5 L766.7 981.9 L767.3 983.3 L767.8 984.8 L768.4 986.2 L769.0 987.6 L769.5 989.0 L770.1 990.5 L770.7 991.9 L771.2 993.3 L771.8 994.7 L772.3 996.0 L772.9 997.4 L773.4 998.7 L774.0 1000.1 L774.5 1001.2 L775.0 1002.4 L775.4 1003.5 L775.9 1004.6 L776.4 1005.7 L776.9 1006.8 L777.3 1007.9 L777.8 1009.0 L778.3 1010.1 L778.7 1011.2 L779.2 1012.2 L779.7 1013.3 L780.2 1014.4 L780.7 1015.5 L781.2 1016.5 L781.7 1017.6 L782.2 1018.7 L782.8 1019.8 L783.3 1021.0 L783.9 1022.1 L784.5 1023.3 L785.1 1024.5 L785.7 1025.6 L786.3 1026.8 L786.8 1027.9 L787.4 1029.0 L788.0 1030.1 L788.6 1031.1 L789.1 1032.1 L789.7 1033.1 L790.2 1034.0 L790.7 1034.9 L791.0 1035.4 L791.3 1036.0 L791.6 1036.5 L791.9 1037.0 L792.2 1037.5 L792.5 1038.0 L792.8 1038.4 L793.1 1038.9 L793.3 1039.3 L793.6 1039.8 L793.9 1040.2 L794.2 1040.6 L794.5 1040.9 L794.8 1041.3 L795.2 1041.7 L795.5 1042.0 L795.8 1042.3 L796.1 1042.6 L796.5 1042.9 L796.8 1043.1 L797.1 1043.4 L797.5 1043.7 L797.8 1043.9 L798.2 1044.2 L798.5 1044.4 L798.9 1044.6 L799.3 1044.8 L799.6 1044.9 L800.0 1045.0 L800.3 1045.1 L800.7 1045.2 L801.0 1045.2 L801.3 1045.2 L801.6 1045.1 L802.0 1045.0 L802.3 1044.9 L802.6 1044.7 L803.0 1044.6 L803.3 1044.4 L803.6 1044.1 L803.9 1043.9 L804.2 1043.6 L804.5 1043.4 L804.9 1043.1 L805.2 1042.8 L805.4 1042.6 L805.7 1042.3 L806.0 1042.0 L806.3 1041.7 L806.6 1041.4 L806.8 1041.0 L807.1 1040.7 L807.4 1040.3 L807.6 1039.9 L807.8 1039.5 L808.1 1039.1 L808.3 1038.7 L808.5 1038.3 L808.7 1037.9 L809.0 1037.4 L809.2 1037.0 L809.5 1036.5 L809.7 1036.0 L810.0 1035.5 L810.4 1034.7 L810.9 1033.9 L811.3 1033.0 L811.7 1032.2 L812.2 1031.3 L812.6 1030.3 L813.1 1029.4 L813.6 1028.4 L814.1 1027.3 L814.6 1026.3 L815.1 1025.2 L815.6 1024.1 L816.1 1023.0 L816.6 1021.8 L817.1 1020.6 L817.7 1019.4 L818.6 1017.5 L819.5 1015.5 L820.4 1013.4 L821.4 1011.2 L822.3 1009.0 L823.4 1006.6 L824.4 1004.3 L825.4 1001.8 L826.5 999.4 L827.6 996.9 L828.6 994.3 L829.7 991.8 L830.8 989.3 L831.9 986.7 L832.9 984.2 L834.0 981.8 L835.2 979.1 L836.3 976.3 L837.5 973.6 L838.6 970.8 L839.8 968.0 L841.0 965.2 L842.1 962.4 L843.3 959.6 L844.5 956.7 L845.7 953.9 L846.9 951.0 L848.1 948.1 L849.3 945.3 L850.5 942.4 L851.8 939.5 L853.0 936.6 L854.3 933.5 L855.7 930.3 L857.0 927.1 L858.4 923.9 L859.8 920.7 L861.2 917.4 L862.6 914.1 L864.0 910.9 L865.4 907.6 L866.7 904.4 L868.1 901.2 L869.5 898.1 L870.9 894.9 L872.2 891.9 L873.5 888.9 L874.8 885.9 L875.9 883.5 L876.9 881.1 L878.0 878.7 L879.0 876.4 L880.0 874.1 L881.1 871.8 L882.1 869.5 L883.1 867.3 L884.1 865.0 L885.1 862.8 L886.1 860.6 L887.1 858.5 L888.1 856.3 L889.1 854.1 L890.2 851.9 L891.2 849.8 L892.2 847.7 L893.1 845.7 L894.1 843.7 L895.1 841.7 L896.0 839.7 L897.0 837.7 L898.0 835.8 L898.9 833.8 L899.9 831.8 L900.9 829.9 L901.9 828.0 L902.9 826.1 L903.9 824.2 L905.0 822.3 L906.0 820.4 L907.1 818.6 L908.2 816.8 L909.2 815.0 L910.3 813.2 L911.4 811.5 L912.5 809.7 L913.6 808.0 L914.7 806.2 L915.9 804.5 L917.0 802.8 L918.2 801.1 L919.3 799.5 L920.5 797.8 L921.7 796.3 L922.9 794.7 L924.1 793.2 L925.3 791.7 L926.4 790.4 L927.5 789.2 L928.5 788.0 L929.6 786.8 L930.7 785.6 L931.8 784.5 L932.9 783.4 L934.0 782.3 L935.2 781.2 L936.3 780.1 L937.5 779.1 L938.6 778.1 L939.8 777.0 L941.0 776.1 L942.2 775.1 L943.4 774.1 L944.7 773.1 L946.1 772.1 L947.7 771.1 L949.3 770.0 L951.0 768.9 L952.7 767.9 L954.4 766.8 L956.0 765.8 L957.6 764.9 L959.1 764.0 L960.4 763.3 L961.6 762.6 L962.6 762.1 L963.3 761.6 L963.7 761.4 L963.9 761.3" fill="none" stroke="#4c4c4c" stroke-width="3" stroke-linejoin="round" stroke-linecap="round"/></g><g stroke="#111" stroke-width="1.8"><line x1="560.6" y1="940.9" x2="711.3" y2="869.1"/><line x1="560.6" y1="969.7" x2="671.7" y2="916"/><line x1="560.6" y1="999.3" x2="663.7" y2="950"/><line x1="560.6" y1="1029.8" x2="668.9" y2="977.7"/></g><g font-family="'Liberation Sans', sans-serif"><text x="383.6" y="951.6" font-size="22.8" text-anchor="start" font-weight="normal" font-style="normal" fill="#222" textLength="170" lengthAdjust="spacingAndGlyphs" >DLP0NSN350HL2</text><text x="383.6" y="981.6" font-size="22.8" text-anchor="start" font-weight="normal" font-style="normal" fill="#222" textLength="170" lengthAdjust="spacingAndGlyphs" >DLP0NSN670HL2</text><text x="383.6" y="1011.6" font-size="22.8" text-anchor="start" font-weight="normal" font-style="normal" fill="#222" textLength="170" lengthAdjust="spacingAndGlyphs" >DLP0NSN900HL2</text><text x="383.6" y="1041.6" font-size="22.8" text-anchor="start" font-weight="normal" font-style="normal" fill="#222" textLength="170" lengthAdjust="spacingAndGlyphs" >DLP0NSN121HL2</text><g transform="translate(138.3,697.4) scale(0.96,1)"><text x="0" y="0" font-size="35.5" text-anchor="end" font-weight="normal" font-style="normal" fill="#000" >0</text></g><g transform="translate(138.3,779.5) scale(0.96,1)"><text x="0" y="0" font-size="35.5" text-anchor="end" font-weight="normal" font-style="normal" fill="#000" >-5</text></g><g transform="translate(138.3,861.7) scale(0.96,1)"><text x="0" y="0" font-size="35.5" text-anchor="end" font-weight="normal" font-style="normal" fill="#000" >-10</text></g><g transform="translate(138.3,943.8) scale(0.96,1)"><text x="0" y="0" font-size="35.5" text-anchor="end" font-weight="normal" font-style="normal" fill="#000" >-15</text></g><g transform="translate(138.3,1025.9) scale(0.96,1)"><text x="0" y="0" font-size="35.5" text-anchor="end" font-weight="normal" font-style="normal" fill="#000" >-20</text></g><g transform="translate(138.3,1108.1) scale(0.96,1)"><text x="0" y="0" font-size="35.5" text-anchor="end" font-weight="normal" font-style="normal" fill="#000" >-25</text></g><g transform="translate(138.3,1190.2) scale(0.96,1)"><text x="0" y="0" font-size="35.5" text-anchor="end" font-weight="normal" font-style="normal" fill="#000" >-30</text></g><g transform="translate(173.8,1239.0) scale(0.93,1)"><text x="0" y="0" font-size="36.5" text-anchor="middle" font-weight="normal" font-style="normal" fill="#000" >1</text></g><g transform="translate(375.1,1239.0) scale(0.93,1)"><text x="0" y="0" font-size="36.5" text-anchor="middle" font-weight="normal" font-style="normal" fill="#000" >10</text></g><g transform="translate(576.4,1239.0) scale(0.93,1)"><text x="0" y="0" font-size="36.5" text-anchor="middle" font-weight="normal" font-style="normal" fill="#000" >100</text></g><g transform="translate(777.7,1239.0) scale(0.93,1)"><text x="0" y="0" font-size="36.5" text-anchor="middle" font-weight="normal" font-style="normal" fill="#000" >1000</text></g><g transform="translate(979.0,1239.0) scale(0.93,1)"><text x="0" y="0" font-size="36.5" text-anchor="middle" font-weight="normal" font-style="normal" fill="#000" >10000</text></g><text x="441.7" y="1295.7" font-size="32.5" text-anchor="start" font-weight="bold" font-style="normal" fill="#000" textLength="259" lengthAdjust="spacingAndGlyphs" >Frequency[MHz]</text><g transform="translate(65.4,1149.6) rotate(-90)"><text x="0" y="0" font-size="32" text-anchor="start" font-weight="bold" font-style="normal" fill="#000" textLength="452.5" lengthAdjust="spacingAndGlyphs" >Insertion Loss(Common)[dB]</text></g></g></svg></body></html>
